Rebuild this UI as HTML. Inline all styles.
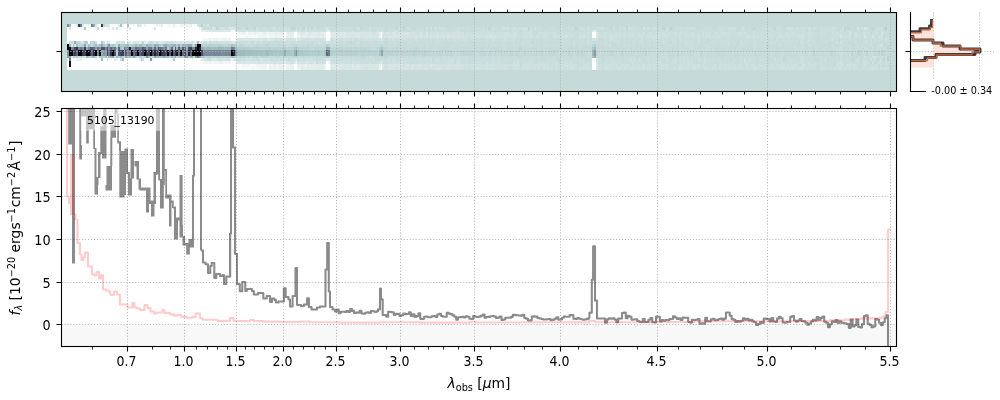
<!DOCTYPE html>
<html><head><meta charset="utf-8"><title>5105_13190</title><style>html,body{margin:0;padding:0;background:#fff}body{width:1000px;height:400px;overflow:hidden}</style></head><body>
<svg width="1000" height="400" viewBox="0 0 1000 400" style="display:block;will-change:transform;font-family:'DejaVu Sans','Liberation Sans',sans-serif">
<rect width="1000" height="400" fill="#fff"/>
<g shape-rendering="crispEdges">
<rect x="61.5" y="12.5" width="835.0" height="79.0" fill="#c6dada"/>
<path fill="#ffffff" d="M70.6 23.8h5.7v2.9h-5.7zM83.8 23.8h1.9v2.9h-1.9zM98.9 23.8h1.9v2.9h-1.9zM112.2 23.8h5.7v2.9h-5.7zM123.5 23.8h3.8v2.9h-3.8zM131.1 23.8h1.9v2.9h-1.9zM134.8 23.8h1.9v2.9h-1.9zM142.4 23.8h1.9v2.9h-1.9zM148.1 23.8h1.9v2.9h-1.9zM151.9 23.8h3.8v2.9h-3.8zM163.2 23.8h3.8v2.9h-3.8zM176.4 23.8h3.8v2.9h-3.8zM184.0 23.8h1.9v2.9h-1.9zM195.3 23.8h1.9v2.9h-1.9zM66.8 26.7h1.9v2.9h-1.9zM70.6 26.7h9.5v2.9h-9.5zM85.7 26.7h9.5v2.9h-9.5zM98.9 26.7h1.9v2.9h-1.9zM102.7 26.7h1.9v2.9h-1.9zM110.3 26.7h1.9v2.9h-1.9zM119.7 26.7h9.5v2.9h-9.5zM131.1 26.7h15.1v2.9h-15.1zM148.1 26.7h3.8v2.9h-3.8zM155.6 26.7h5.7v2.9h-5.7zM163.2 26.7h24.6v2.9h-24.6zM189.7 26.7h9.5v2.9h-9.5zM66.8 29.6h134.2v2.8h-134.2zM66.8 32.4h170.1v2.9h-170.1zM284.2 32.4h1.9v2.9h-1.9zM293.6 32.4h3.8v2.9h-3.8zM325.7 32.4h3.8v2.9h-3.8zM380.6 32.4h1.9v2.9h-1.9zM592.3 32.4h3.8v2.9h-3.8zM66.8 35.3h170.1v2.9h-170.1zM284.2 35.3h1.9v2.9h-1.9zM293.6 35.3h3.8v2.9h-3.8zM325.7 35.3h3.8v2.9h-3.8zM380.6 35.3h1.9v2.9h-1.9zM592.3 35.3h3.8v2.9h-3.8zM66.8 38.2h136.1v2.9h-136.1zM231.2 38.2h3.8v2.9h-3.8zM66.8 41.1h1.9v2.9h-1.9zM112.2 41.1h1.9v2.9h-1.9zM70.6 58.4h1.9v2.8h-1.9zM74.4 58.4h1.9v2.8h-1.9zM81.9 58.4h13.2v2.8h-13.2zM97.0 58.4h3.8v2.8h-3.8zM102.7 58.4h3.8v2.8h-3.8zM112.2 58.4h1.9v2.8h-1.9zM117.8 58.4h1.9v2.8h-1.9zM123.5 58.4h15.1v2.8h-15.1zM144.3 58.4h1.9v2.8h-1.9zM153.7 58.4h11.3v2.8h-11.3zM167.0 58.4h1.9v2.8h-1.9zM174.5 58.4h17.0v2.8h-17.0zM193.4 58.4h7.6v2.8h-7.6zM594.1 58.4h1.9v2.8h-1.9zM66.8 61.2h1.9v2.9h-1.9zM70.6 61.2h132.3v2.9h-132.3zM231.2 61.2h3.8v2.9h-3.8zM592.3 61.2h3.8v2.9h-3.8zM66.8 64.1h1.9v2.9h-1.9zM70.6 64.1h166.3v2.9h-166.3zM284.2 64.1h1.9v2.9h-1.9zM293.6 64.1h3.8v2.9h-3.8zM325.7 64.1h3.8v2.9h-3.8zM380.6 64.1h1.9v2.9h-1.9zM592.3 64.1h3.8v2.9h-3.8zM66.8 67.0h170.1v2.9h-170.1zM284.2 67.0h1.9v2.9h-1.9zM293.6 67.0h3.8v2.9h-3.8zM325.7 67.0h3.8v2.9h-3.8zM380.6 67.0h1.9v2.9h-1.9zM592.3 67.0h3.8v2.9h-3.8z"/>
<path fill="#fcfdfd" d="M89.5 23.8h1.9v2.9h-1.9zM110.3 23.8h1.9v2.9h-1.9zM129.2 23.8h1.9v2.9h-1.9zM146.2 23.8h1.9v2.9h-1.9zM150.0 23.8h1.9v2.9h-1.9zM170.8 23.8h1.9v2.9h-1.9zM191.5 23.8h3.8v2.9h-3.8zM146.2 26.7h1.9v2.9h-1.9zM187.8 26.7h1.9v2.9h-1.9zM87.6 41.1h1.9v2.9h-1.9zM146.2 58.4h1.9v2.8h-1.9zM165.1 58.4h1.9v2.8h-1.9zM325.7 61.2h1.9v2.9h-1.9zM267.2 64.1h1.9v2.9h-1.9zM267.2 67.0h1.9v2.9h-1.9z"/>
<path fill="#f8fbfb" d="M85.7 23.8h1.9v2.9h-1.9zM157.5 23.8h1.9v2.9h-1.9zM114.1 26.7h1.9v2.9h-1.9zM117.8 26.7h1.9v2.9h-1.9zM161.3 26.7h1.9v2.9h-1.9zM236.9 35.3h5.7v2.9h-5.7zM252.0 35.3h1.9v2.9h-1.9zM267.2 35.3h1.9v2.9h-1.9zM325.7 38.2h1.9v2.9h-1.9zM110.3 41.1h1.9v2.9h-1.9zM148.1 58.4h1.9v2.8h-1.9zM168.9 58.4h3.8v2.8h-3.8zM592.3 58.4h1.9v2.8h-1.9zM238.8 64.1h1.9v2.9h-1.9zM244.5 64.1h1.9v2.9h-1.9zM250.1 64.1h1.9v2.9h-1.9zM236.9 67.0h3.8v2.9h-3.8zM244.5 67.0h1.9v2.9h-1.9zM248.3 67.0h1.9v2.9h-1.9z"/>
<path fill="#f5f9f9" d="M97.0 23.8h1.9v2.9h-1.9zM167.0 23.8h1.9v2.9h-1.9zM174.5 23.8h1.9v2.9h-1.9zM104.6 26.7h3.8v2.9h-3.8zM151.9 26.7h1.9v2.9h-1.9zM231.2 29.6h3.8v2.8h-3.8zM244.5 32.4h3.8v2.9h-3.8zM242.6 35.3h3.8v2.9h-3.8zM248.3 35.3h3.8v2.9h-3.8zM253.9 35.3h3.8v2.9h-3.8zM210.4 38.2h1.9v2.9h-1.9zM327.6 38.2h1.9v2.9h-1.9zM97.0 41.1h1.9v2.9h-1.9zM125.4 41.1h1.9v2.9h-1.9zM108.4 58.4h3.8v2.8h-3.8zM212.3 61.2h1.9v2.9h-1.9zM236.9 64.1h1.9v2.9h-1.9zM240.7 64.1h1.9v2.9h-1.9zM252.0 64.1h3.8v2.9h-3.8zM240.7 67.0h3.8v2.9h-3.8zM246.4 67.0h1.9v2.9h-1.9zM250.1 67.0h1.9v2.9h-1.9zM253.9 67.0h1.9v2.9h-1.9z"/>
<path fill="#f1f6f6" d="M121.6 23.8h1.9v2.9h-1.9zM133.0 23.8h1.9v2.9h-1.9zM159.4 23.8h1.9v2.9h-1.9zM168.9 23.8h1.9v2.9h-1.9zM182.1 23.8h1.9v2.9h-1.9zM80.0 26.7h3.8v2.9h-3.8zM95.2 26.7h1.9v2.9h-1.9zM236.9 32.4h3.8v2.9h-3.8zM267.2 32.4h1.9v2.9h-1.9zM246.4 35.3h1.9v2.9h-1.9zM259.6 35.3h1.9v2.9h-1.9zM202.9 38.2h5.7v2.9h-5.7zM218.0 38.2h1.9v2.9h-1.9zM98.9 41.1h1.9v2.9h-1.9zM104.6 41.1h1.9v2.9h-1.9zM114.1 41.1h1.9v2.9h-1.9zM202.9 61.2h1.9v2.9h-1.9zM206.7 61.2h3.8v2.9h-3.8zM223.7 61.2h3.8v2.9h-3.8zM327.6 61.2h1.9v2.9h-1.9zM246.4 64.1h3.8v2.9h-3.8zM257.7 64.1h1.9v2.9h-1.9zM255.8 67.0h3.8v2.9h-3.8zM265.3 67.0h1.9v2.9h-1.9z"/>
<path fill="#eff4f4" d="M180.2 23.8h1.9v2.9h-1.9zM187.8 23.8h1.9v2.9h-1.9zM108.4 26.7h1.9v2.9h-1.9zM199.1 26.7h1.9v2.9h-1.9zM240.7 32.4h1.9v2.9h-1.9zM248.3 32.4h5.7v2.9h-5.7zM255.8 32.4h7.6v2.9h-7.6zM257.7 35.3h1.9v2.9h-1.9zM261.5 35.3h5.7v2.9h-5.7zM269.0 35.3h5.7v2.9h-5.7zM276.6 35.3h1.9v2.9h-1.9zM282.3 35.3h1.9v2.9h-1.9zM212.3 38.2h1.9v2.9h-1.9zM219.9 38.2h3.8v2.9h-3.8zM225.6 38.2h3.8v2.9h-3.8zM235.0 38.2h1.9v2.9h-1.9zM76.3 58.4h1.9v2.8h-1.9zM95.2 58.4h1.9v2.8h-1.9zM151.9 58.4h1.9v2.8h-1.9zM210.4 61.2h1.9v2.9h-1.9zM214.2 61.2h3.8v2.9h-3.8zM221.8 61.2h1.9v2.9h-1.9zM227.5 61.2h3.8v2.9h-3.8zM235.0 61.2h1.9v2.9h-1.9zM295.5 61.2h1.9v2.9h-1.9zM242.6 64.1h1.9v2.9h-1.9zM255.8 64.1h1.9v2.9h-1.9zM259.6 64.1h7.6v2.9h-7.6zM270.9 64.1h1.9v2.9h-1.9zM276.6 64.1h1.9v2.9h-1.9zM282.3 64.1h1.9v2.9h-1.9zM286.1 64.1h1.9v2.9h-1.9zM252.0 67.0h1.9v2.9h-1.9zM259.6 67.0h5.7v2.9h-5.7zM270.9 67.0h1.9v2.9h-1.9zM276.6 67.0h1.9v2.9h-1.9zM282.3 67.0h1.9v2.9h-1.9z"/>
<path fill="#eaf2f2" d="M87.6 23.8h1.9v2.9h-1.9zM144.3 23.8h1.9v2.9h-1.9zM242.6 32.4h1.9v2.9h-1.9zM253.9 32.4h1.9v2.9h-1.9zM265.3 32.4h1.9v2.9h-1.9zM269.0 32.4h3.8v2.9h-3.8zM286.1 32.4h1.9v2.9h-1.9zM278.5 35.3h3.8v2.9h-3.8zM287.9 35.3h1.9v2.9h-1.9zM297.4 35.3h1.9v2.9h-1.9zM329.5 35.3h1.9v2.9h-1.9zM378.7 35.3h1.9v2.9h-1.9zM214.2 38.2h3.8v2.9h-3.8zM223.7 38.2h1.9v2.9h-1.9zM229.3 38.2h1.9v2.9h-1.9zM295.5 38.2h1.9v2.9h-1.9zM66.8 58.4h1.9v2.8h-1.9zM72.5 58.4h1.9v2.8h-1.9zM78.1 58.4h1.9v2.8h-1.9zM138.6 58.4h1.9v2.8h-1.9zM231.2 58.4h1.9v2.8h-1.9zM204.8 61.2h1.9v2.9h-1.9zM218.0 61.2h1.9v2.9h-1.9zM269.0 64.1h1.9v2.9h-1.9zM274.7 64.1h1.9v2.9h-1.9zM287.9 64.1h1.9v2.9h-1.9zM323.9 64.1h1.9v2.9h-1.9zM378.7 64.1h1.9v2.9h-1.9zM269.0 67.0h1.9v2.9h-1.9zM272.8 67.0h3.8v2.9h-3.8zM286.1 67.0h1.9v2.9h-1.9zM297.4 67.0h1.9v2.9h-1.9zM323.9 67.0h1.9v2.9h-1.9zM378.7 67.0h1.9v2.9h-1.9z"/>
<path fill="#e8f0f0" d="M155.6 23.8h1.9v2.9h-1.9zM172.6 23.8h1.9v2.9h-1.9zM185.9 23.8h1.9v2.9h-1.9zM189.7 23.8h1.9v2.9h-1.9zM100.8 26.7h1.9v2.9h-1.9zM201.0 29.6h1.9v2.8h-1.9zM263.4 32.4h1.9v2.9h-1.9zM272.8 32.4h1.9v2.9h-1.9zM276.6 32.4h3.8v2.9h-3.8zM297.4 32.4h1.9v2.9h-1.9zM323.9 32.4h1.9v2.9h-1.9zM329.5 32.4h1.9v2.9h-1.9zM274.7 35.3h1.9v2.9h-1.9zM286.1 35.3h1.9v2.9h-1.9zM291.7 35.3h1.9v2.9h-1.9zM299.3 35.3h1.9v2.9h-1.9zM303.1 35.3h1.9v2.9h-1.9zM323.9 35.3h1.9v2.9h-1.9zM208.6 38.2h1.9v2.9h-1.9zM131.1 41.1h1.9v2.9h-1.9zM138.6 41.1h1.9v2.9h-1.9zM146.2 41.1h1.9v2.9h-1.9zM80.0 58.4h1.9v2.8h-1.9zM115.9 58.4h1.9v2.8h-1.9zM191.5 58.4h1.9v2.8h-1.9zM219.9 61.2h1.9v2.9h-1.9zM272.8 64.1h1.9v2.9h-1.9zM278.5 64.1h3.8v2.9h-3.8zM291.7 64.1h1.9v2.9h-1.9zM297.4 64.1h1.9v2.9h-1.9zM305.0 64.1h1.9v2.9h-1.9zM329.5 64.1h1.9v2.9h-1.9zM278.5 67.0h3.8v2.9h-3.8zM287.9 67.0h5.7v2.9h-5.7zM299.3 67.0h1.9v2.9h-1.9zM329.5 67.0h1.9v2.9h-1.9z"/>
<path fill="#e4eeed" d="M161.3 23.8h1.9v2.9h-1.9zM202.9 29.6h1.9v2.8h-1.9zM327.6 29.6h1.9v2.8h-1.9zM594.1 29.6h1.9v2.8h-1.9zM274.7 32.4h1.9v2.9h-1.9zM280.4 32.4h3.8v2.9h-3.8zM287.9 32.4h5.7v2.9h-5.7zM305.0 32.4h1.9v2.9h-1.9zM378.7 32.4h1.9v2.9h-1.9zM289.8 35.3h1.9v2.9h-1.9zM305.0 35.3h1.9v2.9h-1.9zM308.7 35.3h3.8v2.9h-3.8zM314.4 35.3h1.9v2.9h-1.9zM320.1 35.3h1.9v2.9h-1.9zM193.4 41.1h1.9v2.9h-1.9zM199.1 41.1h1.9v2.9h-1.9zM97.0 55.5h1.9v2.9h-1.9zM289.8 64.1h1.9v2.9h-1.9zM299.3 64.1h5.7v2.9h-5.7zM308.7 64.1h1.9v2.9h-1.9zM312.5 64.1h3.8v2.9h-3.8zM303.1 67.0h3.8v2.9h-3.8zM308.7 67.0h5.7v2.9h-5.7z"/>
<path fill="#e0ebeb" d="M81.9 23.8h1.9v2.9h-1.9zM117.8 23.8h1.9v2.9h-1.9zM204.8 29.6h3.8v2.8h-3.8zM210.4 29.6h1.9v2.8h-1.9zM325.7 29.6h1.9v2.8h-1.9zM299.3 32.4h1.9v2.9h-1.9zM306.8 32.4h1.9v2.9h-1.9zM310.6 32.4h7.6v2.9h-7.6zM320.1 32.4h3.8v2.9h-3.8zM301.2 35.3h1.9v2.9h-1.9zM306.8 35.3h1.9v2.9h-1.9zM312.5 35.3h1.9v2.9h-1.9zM316.3 35.3h3.8v2.9h-3.8zM335.2 35.3h1.9v2.9h-1.9zM342.8 35.3h1.9v2.9h-1.9zM284.2 38.2h1.9v2.9h-1.9zM380.6 38.2h1.9v2.9h-1.9zM129.2 41.1h1.9v2.9h-1.9zM144.3 41.1h1.9v2.9h-1.9zM153.7 41.1h1.9v2.9h-1.9zM70.6 55.5h1.9v2.9h-1.9zM114.1 58.4h1.9v2.8h-1.9zM201.0 58.4h1.9v2.8h-1.9zM284.2 61.2h1.9v2.9h-1.9zM380.6 61.2h1.9v2.9h-1.9zM306.8 64.1h1.9v2.9h-1.9zM310.6 64.1h1.9v2.9h-1.9zM316.3 64.1h7.6v2.9h-7.6zM333.3 64.1h3.8v2.9h-3.8zM352.2 64.1h1.9v2.9h-1.9zM301.2 67.0h1.9v2.9h-1.9zM306.8 67.0h1.9v2.9h-1.9zM314.4 67.0h9.5v2.9h-9.5zM335.2 67.0h1.9v2.9h-1.9z"/>
<path fill="#dde9e9" d="M76.3 23.8h1.9v2.9h-1.9zM138.6 23.8h3.8v2.9h-3.8zM68.7 26.7h1.9v2.9h-1.9zM112.2 26.7h1.9v2.9h-1.9zM129.2 26.7h1.9v2.9h-1.9zM231.2 26.7h1.9v2.9h-1.9zM221.8 29.6h9.5v2.8h-9.5zM301.2 32.4h3.8v2.9h-3.8zM308.7 32.4h1.9v2.9h-1.9zM318.2 32.4h1.9v2.9h-1.9zM331.4 32.4h5.7v2.9h-5.7zM339.0 32.4h1.9v2.9h-1.9zM342.8 32.4h1.9v2.9h-1.9zM322.0 35.3h1.9v2.9h-1.9zM331.4 35.3h3.8v2.9h-3.8zM337.1 35.3h3.8v2.9h-3.8zM348.4 35.3h1.9v2.9h-1.9zM356.0 35.3h3.8v2.9h-3.8zM267.2 38.2h1.9v2.9h-1.9zM108.4 41.1h1.9v2.9h-1.9zM159.4 41.1h1.9v2.9h-1.9zM176.4 41.1h3.8v2.9h-3.8zM182.1 41.1h1.9v2.9h-1.9zM195.3 41.1h1.9v2.9h-1.9zM70.6 44.0h1.9v2.8h-1.9zM233.1 58.4h1.9v2.8h-1.9zM246.4 61.2h1.9v2.9h-1.9zM293.6 61.2h1.9v2.9h-1.9zM331.4 64.1h1.9v2.9h-1.9zM337.1 64.1h5.7v2.9h-5.7zM356.0 64.1h3.8v2.9h-3.8zM596.0 64.1h1.9v2.9h-1.9zM331.4 67.0h3.8v2.9h-3.8zM337.1 67.0h3.8v2.9h-3.8zM348.4 67.0h1.9v2.9h-1.9zM352.2 67.0h1.9v2.9h-1.9zM356.0 67.0h3.8v2.9h-3.8z"/>
<path fill="#d9e6e6" d="M108.4 23.8h1.9v2.9h-1.9zM136.7 23.8h1.9v2.9h-1.9zM197.2 23.8h1.9v2.9h-1.9zM206.7 23.8h1.9v2.9h-1.9zM153.7 26.7h1.9v2.9h-1.9zM201.0 26.7h1.9v2.9h-1.9zM229.3 26.7h1.9v2.9h-1.9zM325.7 26.7h1.9v2.9h-1.9zM864.4 26.7h1.9v2.9h-1.9zM212.3 29.6h3.8v2.8h-3.8zM218.0 29.6h3.8v2.8h-3.8zM235.0 29.6h1.9v2.8h-1.9zM295.5 29.6h1.9v2.8h-1.9zM592.3 29.6h1.9v2.8h-1.9zM337.1 32.4h1.9v2.9h-1.9zM344.6 32.4h1.9v2.9h-1.9zM348.4 32.4h11.3v2.9h-11.3zM369.2 32.4h1.9v2.9h-1.9zM382.4 32.4h1.9v2.9h-1.9zM596.0 32.4h1.9v2.9h-1.9zM340.9 35.3h1.9v2.9h-1.9zM344.6 35.3h3.8v2.9h-3.8zM350.3 35.3h5.7v2.9h-5.7zM365.4 35.3h3.8v2.9h-3.8zM371.1 35.3h1.9v2.9h-1.9zM376.8 35.3h1.9v2.9h-1.9zM388.1 35.3h3.8v2.9h-3.8zM397.6 35.3h3.8v2.9h-3.8zM596.0 35.3h1.9v2.9h-1.9zM242.6 38.2h7.6v2.9h-7.6zM252.0 38.2h3.8v2.9h-3.8zM257.7 38.2h1.9v2.9h-1.9zM269.0 38.2h1.9v2.9h-1.9zM293.6 38.2h1.9v2.9h-1.9zM81.9 41.1h1.9v2.9h-1.9zM119.7 41.1h1.9v2.9h-1.9zM127.3 41.1h1.9v2.9h-1.9zM133.0 41.1h1.9v2.9h-1.9zM140.5 41.1h1.9v2.9h-1.9zM157.5 41.1h1.9v2.9h-1.9zM161.3 41.1h1.9v2.9h-1.9zM189.7 41.1h1.9v2.9h-1.9zM233.1 41.1h1.9v2.9h-1.9zM202.9 58.4h1.9v2.8h-1.9zM212.3 58.4h3.8v2.8h-3.8zM223.7 58.4h1.9v2.8h-1.9zM325.7 58.4h1.9v2.8h-1.9zM240.7 61.2h5.7v2.9h-5.7zM248.3 61.2h1.9v2.9h-1.9zM252.0 61.2h1.9v2.9h-1.9zM255.8 61.2h1.9v2.9h-1.9zM286.1 61.2h1.9v2.9h-1.9zM596.0 61.2h1.9v2.9h-1.9zM342.8 64.1h7.6v2.9h-7.6zM359.8 64.1h5.7v2.9h-5.7zM369.2 64.1h3.8v2.9h-3.8zM374.9 64.1h1.9v2.9h-1.9zM382.4 64.1h1.9v2.9h-1.9zM388.1 64.1h1.9v2.9h-1.9zM412.7 64.1h1.9v2.9h-1.9zM340.9 67.0h7.6v2.9h-7.6zM354.1 67.0h1.9v2.9h-1.9zM359.8 67.0h1.9v2.9h-1.9zM369.2 67.0h5.7v2.9h-5.7zM376.8 67.0h1.9v2.9h-1.9zM397.6 67.0h1.9v2.9h-1.9zM410.8 67.0h1.9v2.9h-1.9zM596.0 67.0h1.9v2.9h-1.9z"/>
<path fill="#d6e5e5" d="M95.2 23.8h1.9v2.9h-1.9zM104.6 23.8h1.9v2.9h-1.9zM212.3 26.7h1.9v2.9h-1.9zM233.1 26.7h1.9v2.9h-1.9zM208.6 29.6h1.9v2.8h-1.9zM216.1 29.6h1.9v2.8h-1.9zM246.4 29.6h1.9v2.8h-1.9zM255.8 29.6h1.9v2.8h-1.9zM380.6 29.6h1.9v2.8h-1.9zM340.9 32.4h1.9v2.9h-1.9zM346.5 32.4h1.9v2.9h-1.9zM359.8 32.4h9.5v2.9h-9.5zM371.1 32.4h1.9v2.9h-1.9zM374.9 32.4h3.8v2.9h-3.8zM386.2 32.4h3.8v2.9h-3.8zM391.9 32.4h3.8v2.9h-3.8zM397.6 32.4h3.8v2.9h-3.8zM403.2 32.4h5.7v2.9h-5.7zM420.3 32.4h1.9v2.9h-1.9zM425.9 32.4h1.9v2.9h-1.9zM437.3 32.4h1.9v2.9h-1.9zM359.8 35.3h5.7v2.9h-5.7zM369.2 35.3h1.9v2.9h-1.9zM373.0 35.3h3.8v2.9h-3.8zM382.4 35.3h3.8v2.9h-3.8zM391.9 35.3h5.7v2.9h-5.7zM414.6 35.3h3.8v2.9h-3.8zM420.3 35.3h1.9v2.9h-1.9zM425.9 35.3h1.9v2.9h-1.9zM429.7 35.3h1.9v2.9h-1.9zM437.3 35.3h1.9v2.9h-1.9zM446.7 35.3h1.9v2.9h-1.9zM490.2 35.3h1.9v2.9h-1.9zM839.9 35.3h1.9v2.9h-1.9zM864.4 35.3h1.9v2.9h-1.9zM872.0 35.3h1.9v2.9h-1.9zM236.9 38.2h5.7v2.9h-5.7zM250.1 38.2h1.9v2.9h-1.9zM255.8 38.2h1.9v2.9h-1.9zM259.6 38.2h5.7v2.9h-5.7zM270.9 38.2h1.9v2.9h-1.9zM278.5 38.2h1.9v2.9h-1.9zM282.3 38.2h1.9v2.9h-1.9zM299.3 38.2h1.9v2.9h-1.9zM312.5 38.2h1.9v2.9h-1.9zM323.9 38.2h1.9v2.9h-1.9zM378.7 38.2h1.9v2.9h-1.9zM594.1 38.2h1.9v2.9h-1.9zM72.5 41.1h1.9v2.9h-1.9zM117.8 41.1h1.9v2.9h-1.9zM134.8 41.1h3.8v2.9h-3.8zM163.2 41.1h1.9v2.9h-1.9zM172.6 41.1h1.9v2.9h-1.9zM184.0 41.1h5.7v2.9h-5.7zM206.7 41.1h1.9v2.9h-1.9zM231.2 41.1h1.9v2.9h-1.9zM325.7 41.1h1.9v2.9h-1.9zM74.4 44.0h1.9v2.8h-1.9zM83.8 55.5h1.9v2.9h-1.9zM204.8 58.4h1.9v2.8h-1.9zM210.4 58.4h1.9v2.8h-1.9zM216.1 58.4h1.9v2.8h-1.9zM221.8 58.4h1.9v2.8h-1.9zM229.3 58.4h1.9v2.8h-1.9zM235.0 58.4h1.9v2.8h-1.9zM259.6 58.4h1.9v2.8h-1.9zM295.5 58.4h1.9v2.8h-1.9zM327.6 58.4h1.9v2.8h-1.9zM596.0 58.4h1.9v2.8h-1.9zM879.5 58.4h1.9v2.8h-1.9zM236.9 61.2h3.8v2.9h-3.8zM250.1 61.2h1.9v2.9h-1.9zM253.9 61.2h1.9v2.9h-1.9zM259.6 61.2h13.2v2.9h-13.2zM276.6 61.2h1.9v2.9h-1.9zM287.9 61.2h1.9v2.9h-1.9zM299.3 61.2h1.9v2.9h-1.9zM305.0 61.2h3.8v2.9h-3.8zM314.4 61.2h1.9v2.9h-1.9zM329.5 61.2h1.9v2.9h-1.9zM350.3 64.1h1.9v2.9h-1.9zM354.1 64.1h1.9v2.9h-1.9zM365.4 64.1h3.8v2.9h-3.8zM373.0 64.1h1.9v2.9h-1.9zM376.8 64.1h1.9v2.9h-1.9zM390.0 64.1h13.2v2.9h-13.2zM405.1 64.1h3.8v2.9h-3.8zM410.8 64.1h1.9v2.9h-1.9zM416.5 64.1h5.7v2.9h-5.7zM429.7 64.1h1.9v2.9h-1.9zM350.3 67.0h1.9v2.9h-1.9zM361.7 67.0h3.8v2.9h-3.8zM367.3 67.0h1.9v2.9h-1.9zM374.9 67.0h1.9v2.9h-1.9zM382.4 67.0h1.9v2.9h-1.9zM388.1 67.0h7.6v2.9h-7.6zM399.5 67.0h1.9v2.9h-1.9zM405.1 67.0h1.9v2.9h-1.9zM416.5 67.0h1.9v2.9h-1.9zM424.0 67.0h3.8v2.9h-3.8zM437.3 67.0h3.8v2.9h-3.8zM446.7 67.0h1.9v2.9h-1.9z"/>
<path fill="#d2e2e2" d="M202.9 23.8h1.9v2.9h-1.9zM115.9 26.7h1.9v2.9h-1.9zM208.6 26.7h1.9v2.9h-1.9zM214.2 26.7h1.9v2.9h-1.9zM219.9 26.7h3.8v2.9h-3.8zM227.5 26.7h1.9v2.9h-1.9zM272.8 26.7h1.9v2.9h-1.9zM284.2 26.7h1.9v2.9h-1.9zM305.0 26.7h1.9v2.9h-1.9zM407.0 26.7h1.9v2.9h-1.9zM425.9 26.7h1.9v2.9h-1.9zM503.4 26.7h1.9v2.9h-1.9zM507.2 26.7h1.9v2.9h-1.9zM524.2 26.7h1.9v2.9h-1.9zM624.4 26.7h1.9v2.9h-1.9zM628.2 26.7h1.9v2.9h-1.9zM643.3 26.7h1.9v2.9h-1.9zM730.2 26.7h1.9v2.9h-1.9zM788.8 26.7h1.9v2.9h-1.9zM807.7 26.7h1.9v2.9h-1.9zM813.4 26.7h1.9v2.9h-1.9zM828.5 26.7h1.9v2.9h-1.9zM856.9 26.7h1.9v2.9h-1.9zM866.3 26.7h1.9v2.9h-1.9zM236.9 29.6h1.9v2.8h-1.9zM250.1 29.6h1.9v2.8h-1.9zM257.7 29.6h1.9v2.8h-1.9zM267.2 29.6h1.9v2.8h-1.9zM276.6 29.6h1.9v2.8h-1.9zM284.2 29.6h1.9v2.8h-1.9zM293.6 29.6h1.9v2.8h-1.9zM305.0 29.6h1.9v2.8h-1.9zM312.5 29.6h1.9v2.8h-1.9zM329.5 29.6h1.9v2.8h-1.9zM373.0 32.4h1.9v2.9h-1.9zM384.3 32.4h1.9v2.9h-1.9zM390.0 32.4h1.9v2.9h-1.9zM395.7 32.4h1.9v2.9h-1.9zM401.4 32.4h1.9v2.9h-1.9zM408.9 32.4h11.3v2.9h-11.3zM422.1 32.4h1.9v2.9h-1.9zM429.7 32.4h1.9v2.9h-1.9zM435.4 32.4h1.9v2.9h-1.9zM441.0 32.4h1.9v2.9h-1.9zM446.7 32.4h1.9v2.9h-1.9zM452.4 32.4h1.9v2.9h-1.9zM456.2 32.4h3.8v2.9h-3.8zM461.8 32.4h1.9v2.9h-1.9zM465.6 32.4h1.9v2.9h-1.9zM477.0 32.4h1.9v2.9h-1.9zM507.2 32.4h1.9v2.9h-1.9zM512.9 32.4h1.9v2.9h-1.9zM836.1 32.4h1.9v2.9h-1.9zM849.3 32.4h1.9v2.9h-1.9zM855.0 32.4h1.9v2.9h-1.9zM864.4 32.4h1.9v2.9h-1.9zM881.4 32.4h1.9v2.9h-1.9zM386.2 35.3h1.9v2.9h-1.9zM401.4 35.3h13.2v2.9h-13.2zM418.4 35.3h1.9v2.9h-1.9zM422.1 35.3h3.8v2.9h-3.8zM431.6 35.3h5.7v2.9h-5.7zM439.2 35.3h5.7v2.9h-5.7zM448.6 35.3h15.1v2.9h-15.1zM477.0 35.3h1.9v2.9h-1.9zM486.4 35.3h1.9v2.9h-1.9zM492.1 35.3h3.8v2.9h-3.8zM503.4 35.3h1.9v2.9h-1.9zM529.9 35.3h1.9v2.9h-1.9zM537.4 35.3h1.9v2.9h-1.9zM554.4 35.3h1.9v2.9h-1.9zM565.8 35.3h1.9v2.9h-1.9zM582.8 35.3h1.9v2.9h-1.9zM698.1 35.3h1.9v2.9h-1.9zM747.2 35.3h1.9v2.9h-1.9zM849.3 35.3h1.9v2.9h-1.9zM855.0 35.3h1.9v2.9h-1.9zM877.7 35.3h1.9v2.9h-1.9zM881.4 35.3h1.9v2.9h-1.9zM265.3 38.2h1.9v2.9h-1.9zM272.8 38.2h1.9v2.9h-1.9zM276.6 38.2h1.9v2.9h-1.9zM286.1 38.2h7.6v2.9h-7.6zM297.4 38.2h1.9v2.9h-1.9zM301.2 38.2h1.9v2.9h-1.9zM305.0 38.2h1.9v2.9h-1.9zM308.7 38.2h3.8v2.9h-3.8zM329.5 38.2h1.9v2.9h-1.9zM335.2 38.2h1.9v2.9h-1.9zM342.8 38.2h1.9v2.9h-1.9zM352.2 38.2h1.9v2.9h-1.9zM369.2 38.2h1.9v2.9h-1.9zM391.9 38.2h1.9v2.9h-1.9zM592.3 38.2h1.9v2.9h-1.9zM885.2 38.2h1.9v2.9h-1.9zM115.9 41.1h1.9v2.9h-1.9zM121.6 41.1h1.9v2.9h-1.9zM148.1 41.1h1.9v2.9h-1.9zM168.9 41.1h1.9v2.9h-1.9zM180.2 41.1h1.9v2.9h-1.9zM201.0 41.1h1.9v2.9h-1.9zM210.4 41.1h1.9v2.9h-1.9zM221.8 41.1h3.8v2.9h-3.8zM229.3 41.1h1.9v2.9h-1.9zM235.0 41.1h1.9v2.9h-1.9zM253.9 41.1h1.9v2.9h-1.9zM318.2 41.1h1.9v2.9h-1.9zM881.4 41.1h1.9v2.9h-1.9zM879.5 44.0h3.8v2.8h-3.8zM219.9 58.4h1.9v2.8h-1.9zM225.6 58.4h3.8v2.8h-3.8zM246.4 58.4h1.9v2.8h-1.9zM250.1 58.4h1.9v2.8h-1.9zM263.4 58.4h1.9v2.8h-1.9zM267.2 58.4h1.9v2.8h-1.9zM272.8 58.4h1.9v2.8h-1.9zM278.5 58.4h1.9v2.8h-1.9zM284.2 58.4h1.9v2.8h-1.9zM293.6 58.4h1.9v2.8h-1.9zM743.5 58.4h1.9v2.8h-1.9zM257.7 61.2h1.9v2.9h-1.9zM272.8 61.2h3.8v2.9h-3.8zM278.5 61.2h5.7v2.9h-5.7zM289.8 61.2h3.8v2.9h-3.8zM297.4 61.2h1.9v2.9h-1.9zM301.2 61.2h3.8v2.9h-3.8zM308.7 61.2h5.7v2.9h-5.7zM318.2 61.2h3.8v2.9h-3.8zM323.9 61.2h1.9v2.9h-1.9zM335.2 61.2h1.9v2.9h-1.9zM342.8 61.2h1.9v2.9h-1.9zM352.2 61.2h1.9v2.9h-1.9zM378.7 61.2h1.9v2.9h-1.9zM452.4 61.2h1.9v2.9h-1.9zM839.9 61.2h1.9v2.9h-1.9zM384.3 64.1h3.8v2.9h-3.8zM403.2 64.1h1.9v2.9h-1.9zM408.9 64.1h1.9v2.9h-1.9zM414.6 64.1h1.9v2.9h-1.9zM422.1 64.1h7.6v2.9h-7.6zM431.6 64.1h7.6v2.9h-7.6zM441.0 64.1h22.7v2.9h-22.7zM465.6 64.1h1.9v2.9h-1.9zM477.0 64.1h1.9v2.9h-1.9zM486.4 64.1h1.9v2.9h-1.9zM492.1 64.1h1.9v2.9h-1.9zM503.4 64.1h3.8v2.9h-3.8zM512.9 64.1h1.9v2.9h-1.9zM537.4 64.1h1.9v2.9h-1.9zM543.1 64.1h1.9v2.9h-1.9zM565.8 64.1h1.9v2.9h-1.9zM614.9 64.1h1.9v2.9h-1.9zM643.3 64.1h1.9v2.9h-1.9zM652.7 64.1h1.9v2.9h-1.9zM698.1 64.1h1.9v2.9h-1.9zM802.1 64.1h1.9v2.9h-1.9zM849.3 64.1h1.9v2.9h-1.9zM864.4 64.1h1.9v2.9h-1.9zM365.4 67.0h1.9v2.9h-1.9zM384.3 67.0h3.8v2.9h-3.8zM395.7 67.0h1.9v2.9h-1.9zM401.4 67.0h3.8v2.9h-3.8zM407.0 67.0h3.8v2.9h-3.8zM412.7 67.0h3.8v2.9h-3.8zM418.4 67.0h5.7v2.9h-5.7zM427.8 67.0h9.5v2.9h-9.5zM441.0 67.0h5.7v2.9h-5.7zM448.6 67.0h13.2v2.9h-13.2zM465.6 67.0h1.9v2.9h-1.9zM475.1 67.0h3.8v2.9h-3.8zM486.4 67.0h1.9v2.9h-1.9zM490.2 67.0h3.8v2.9h-3.8zM503.4 67.0h3.8v2.9h-3.8zM514.8 67.0h1.9v2.9h-1.9zM522.3 67.0h1.9v2.9h-1.9zM537.4 67.0h1.9v2.9h-1.9zM543.1 67.0h1.9v2.9h-1.9zM546.9 67.0h1.9v2.9h-1.9zM673.5 67.0h1.9v2.9h-1.9zM679.2 67.0h1.9v2.9h-1.9zM879.5 67.0h1.9v2.9h-1.9zM885.2 67.0h1.9v2.9h-1.9z"/>
<path fill="#cfe0e0" d="M106.5 23.8h1.9v2.9h-1.9zM223.7 26.7h1.9v2.9h-1.9zM235.0 26.7h1.9v2.9h-1.9zM242.6 26.7h1.9v2.9h-1.9zM255.8 26.7h1.9v2.9h-1.9zM263.4 26.7h1.9v2.9h-1.9zM278.5 26.7h1.9v2.9h-1.9zM287.9 26.7h1.9v2.9h-1.9zM295.5 26.7h1.9v2.9h-1.9zM314.4 26.7h1.9v2.9h-1.9zM323.9 26.7h1.9v2.9h-1.9zM327.6 26.7h1.9v2.9h-1.9zM344.6 26.7h1.9v2.9h-1.9zM356.0 26.7h3.8v2.9h-3.8zM369.2 26.7h1.9v2.9h-1.9zM397.6 26.7h1.9v2.9h-1.9zM429.7 26.7h1.9v2.9h-1.9zM435.4 26.7h1.9v2.9h-1.9zM439.2 26.7h1.9v2.9h-1.9zM442.9 26.7h1.9v2.9h-1.9zM477.0 26.7h1.9v2.9h-1.9zM492.1 26.7h1.9v2.9h-1.9zM512.9 26.7h1.9v2.9h-1.9zM518.5 26.7h5.7v2.9h-5.7zM526.1 26.7h1.9v2.9h-1.9zM529.9 26.7h1.9v2.9h-1.9zM533.7 26.7h1.9v2.9h-1.9zM560.1 26.7h1.9v2.9h-1.9zM571.5 26.7h1.9v2.9h-1.9zM579.0 26.7h1.9v2.9h-1.9zM586.6 26.7h1.9v2.9h-1.9zM596.0 26.7h3.8v2.9h-3.8zM601.7 26.7h1.9v2.9h-1.9zM613.0 26.7h1.9v2.9h-1.9zM630.1 26.7h1.9v2.9h-1.9zM647.1 26.7h1.9v2.9h-1.9zM652.7 26.7h1.9v2.9h-1.9zM666.0 26.7h1.9v2.9h-1.9zM688.6 26.7h1.9v2.9h-1.9zM692.4 26.7h1.9v2.9h-1.9zM728.3 26.7h1.9v2.9h-1.9zM732.1 26.7h3.8v2.9h-3.8zM741.6 26.7h1.9v2.9h-1.9zM764.3 26.7h1.9v2.9h-1.9zM786.9 26.7h1.9v2.9h-1.9zM790.7 26.7h1.9v2.9h-1.9zM796.4 26.7h1.9v2.9h-1.9zM809.6 26.7h1.9v2.9h-1.9zM832.3 26.7h1.9v2.9h-1.9zM841.7 26.7h1.9v2.9h-1.9zM877.7 26.7h1.9v2.9h-1.9zM881.4 26.7h1.9v2.9h-1.9zM238.8 29.6h7.6v2.8h-7.6zM248.3 29.6h1.9v2.8h-1.9zM252.0 29.6h3.8v2.8h-3.8zM259.6 29.6h1.9v2.8h-1.9zM263.4 29.6h3.8v2.8h-3.8zM272.8 29.6h3.8v2.8h-3.8zM286.1 29.6h3.8v2.8h-3.8zM291.7 29.6h1.9v2.8h-1.9zM299.3 29.6h1.9v2.8h-1.9zM303.1 29.6h1.9v2.8h-1.9zM308.7 29.6h3.8v2.8h-3.8zM314.4 29.6h11.3v2.8h-11.3zM335.2 29.6h1.9v2.8h-1.9zM342.8 29.6h1.9v2.8h-1.9zM348.4 29.6h1.9v2.8h-1.9zM352.2 29.6h1.9v2.8h-1.9zM361.7 29.6h1.9v2.8h-1.9zM369.2 29.6h1.9v2.8h-1.9zM376.8 29.6h1.9v2.8h-1.9zM390.0 29.6h1.9v2.8h-1.9zM393.8 29.6h3.8v2.8h-3.8zM416.5 29.6h1.9v2.8h-1.9zM456.2 29.6h3.8v2.8h-3.8zM486.4 29.6h1.9v2.8h-1.9zM516.6 29.6h1.9v2.8h-1.9zM529.9 29.6h1.9v2.8h-1.9zM666.0 29.6h1.9v2.8h-1.9zM752.9 29.6h1.9v2.8h-1.9zM802.1 29.6h1.9v2.8h-1.9zM821.0 29.6h1.9v2.8h-1.9zM839.9 29.6h1.9v2.8h-1.9zM849.3 29.6h1.9v2.8h-1.9zM866.3 29.6h1.9v2.8h-1.9zM879.5 29.6h1.9v2.8h-1.9zM424.0 32.4h1.9v2.9h-1.9zM427.8 32.4h1.9v2.9h-1.9zM431.6 32.4h3.8v2.9h-3.8zM439.2 32.4h1.9v2.9h-1.9zM442.9 32.4h3.8v2.9h-3.8zM448.6 32.4h3.8v2.9h-3.8zM454.3 32.4h1.9v2.9h-1.9zM459.9 32.4h1.9v2.9h-1.9zM469.4 32.4h3.8v2.9h-3.8zM475.1 32.4h1.9v2.9h-1.9zM478.8 32.4h3.8v2.9h-3.8zM484.5 32.4h9.5v2.9h-9.5zM495.9 32.4h11.3v2.9h-11.3zM514.8 32.4h1.9v2.9h-1.9zM522.3 32.4h9.5v2.9h-9.5zM537.4 32.4h11.3v2.9h-11.3zM550.7 32.4h5.7v2.9h-5.7zM562.0 32.4h1.9v2.9h-1.9zM565.8 32.4h1.9v2.9h-1.9zM579.0 32.4h1.9v2.9h-1.9zM582.8 32.4h1.9v2.9h-1.9zM586.6 32.4h3.8v2.9h-3.8zM597.9 32.4h1.9v2.9h-1.9zM603.6 32.4h3.8v2.9h-3.8zM609.3 32.4h1.9v2.9h-1.9zM614.9 32.4h1.9v2.9h-1.9zM618.7 32.4h1.9v2.9h-1.9zM622.5 32.4h3.8v2.9h-3.8zM628.2 32.4h1.9v2.9h-1.9zM631.9 32.4h1.9v2.9h-1.9zM637.6 32.4h1.9v2.9h-1.9zM643.3 32.4h1.9v2.9h-1.9zM649.0 32.4h1.9v2.9h-1.9zM658.4 32.4h7.6v2.9h-7.6zM667.9 32.4h1.9v2.9h-1.9zM673.5 32.4h3.8v2.9h-3.8zM679.2 32.4h3.8v2.9h-3.8zM684.9 32.4h1.9v2.9h-1.9zM690.5 32.4h3.8v2.9h-3.8zM701.9 32.4h1.9v2.9h-1.9zM705.7 32.4h1.9v2.9h-1.9zM709.4 32.4h1.9v2.9h-1.9zM715.1 32.4h1.9v2.9h-1.9zM720.8 32.4h5.7v2.9h-5.7zM728.3 32.4h1.9v2.9h-1.9zM737.8 32.4h3.8v2.9h-3.8zM743.5 32.4h3.8v2.9h-3.8zM752.9 32.4h1.9v2.9h-1.9zM760.5 32.4h1.9v2.9h-1.9zM779.4 32.4h1.9v2.9h-1.9zM785.0 32.4h3.8v2.9h-3.8zM790.7 32.4h3.8v2.9h-3.8zM802.1 32.4h1.9v2.9h-1.9zM807.7 32.4h3.8v2.9h-3.8zM832.3 32.4h1.9v2.9h-1.9zM839.9 32.4h1.9v2.9h-1.9zM862.5 32.4h1.9v2.9h-1.9zM868.2 32.4h1.9v2.9h-1.9zM875.8 32.4h1.9v2.9h-1.9zM427.8 35.3h1.9v2.9h-1.9zM444.8 35.3h1.9v2.9h-1.9zM463.7 35.3h13.2v2.9h-13.2zM478.8 35.3h7.6v2.9h-7.6zM488.3 35.3h1.9v2.9h-1.9zM495.9 35.3h7.6v2.9h-7.6zM505.3 35.3h11.3v2.9h-11.3zM518.5 35.3h1.9v2.9h-1.9zM522.3 35.3h7.6v2.9h-7.6zM531.8 35.3h1.9v2.9h-1.9zM535.5 35.3h1.9v2.9h-1.9zM543.1 35.3h3.8v2.9h-3.8zM552.6 35.3h1.9v2.9h-1.9zM556.3 35.3h3.8v2.9h-3.8zM562.0 35.3h3.8v2.9h-3.8zM569.6 35.3h1.9v2.9h-1.9zM579.0 35.3h3.8v2.9h-3.8zM584.7 35.3h3.8v2.9h-3.8zM599.8 35.3h1.9v2.9h-1.9zM603.6 35.3h1.9v2.9h-1.9zM609.3 35.3h7.6v2.9h-7.6zM618.7 35.3h1.9v2.9h-1.9zM624.4 35.3h1.9v2.9h-1.9zM628.2 35.3h5.7v2.9h-5.7zM637.6 35.3h5.7v2.9h-5.7zM647.1 35.3h9.5v2.9h-9.5zM658.4 35.3h1.9v2.9h-1.9zM662.2 35.3h5.7v2.9h-5.7zM675.4 35.3h1.9v2.9h-1.9zM679.2 35.3h1.9v2.9h-1.9zM684.9 35.3h3.8v2.9h-3.8zM692.4 35.3h1.9v2.9h-1.9zM701.9 35.3h1.9v2.9h-1.9zM705.7 35.3h5.7v2.9h-5.7zM713.2 35.3h1.9v2.9h-1.9zM717.0 35.3h3.8v2.9h-3.8zM745.4 35.3h1.9v2.9h-1.9zM749.1 35.3h5.7v2.9h-5.7zM756.7 35.3h1.9v2.9h-1.9zM769.9 35.3h1.9v2.9h-1.9zM777.5 35.3h7.6v2.9h-7.6zM786.9 35.3h3.8v2.9h-3.8zM796.4 35.3h7.6v2.9h-7.6zM807.7 35.3h3.8v2.9h-3.8zM845.5 35.3h1.9v2.9h-1.9zM862.5 35.3h1.9v2.9h-1.9zM274.7 38.2h1.9v2.9h-1.9zM280.4 38.2h1.9v2.9h-1.9zM303.1 38.2h1.9v2.9h-1.9zM306.8 38.2h1.9v2.9h-1.9zM314.4 38.2h9.5v2.9h-9.5zM333.3 38.2h1.9v2.9h-1.9zM337.1 38.2h3.8v2.9h-3.8zM344.6 38.2h5.7v2.9h-5.7zM357.9 38.2h1.9v2.9h-1.9zM361.7 38.2h7.6v2.9h-7.6zM371.1 38.2h7.6v2.9h-7.6zM382.4 38.2h1.9v2.9h-1.9zM388.1 38.2h1.9v2.9h-1.9zM397.6 38.2h3.8v2.9h-3.8zM403.2 38.2h3.8v2.9h-3.8zM414.6 38.2h3.8v2.9h-3.8zM420.3 38.2h1.9v2.9h-1.9zM435.4 38.2h3.8v2.9h-3.8zM442.9 38.2h1.9v2.9h-1.9zM446.7 38.2h1.9v2.9h-1.9zM452.4 38.2h3.8v2.9h-3.8zM458.1 38.2h1.9v2.9h-1.9zM461.8 38.2h5.7v2.9h-5.7zM486.4 38.2h1.9v2.9h-1.9zM492.1 38.2h1.9v2.9h-1.9zM503.4 38.2h3.8v2.9h-3.8zM512.9 38.2h1.9v2.9h-1.9zM586.6 38.2h1.9v2.9h-1.9zM596.0 38.2h1.9v2.9h-1.9zM609.3 38.2h5.7v2.9h-5.7zM641.4 38.2h1.9v2.9h-1.9zM652.7 38.2h1.9v2.9h-1.9zM698.1 38.2h1.9v2.9h-1.9zM760.5 38.2h1.9v2.9h-1.9zM766.1 38.2h1.9v2.9h-1.9zM775.6 38.2h1.9v2.9h-1.9zM802.1 38.2h1.9v2.9h-1.9zM807.7 38.2h1.9v2.9h-1.9zM832.3 38.2h1.9v2.9h-1.9zM864.4 38.2h1.9v2.9h-1.9zM870.1 38.2h1.9v2.9h-1.9zM881.4 38.2h1.9v2.9h-1.9zM80.0 41.1h1.9v2.9h-1.9zM102.7 41.1h1.9v2.9h-1.9zM151.9 41.1h1.9v2.9h-1.9zM165.1 41.1h3.8v2.9h-3.8zM174.5 41.1h1.9v2.9h-1.9zM202.9 41.1h1.9v2.9h-1.9zM212.3 41.1h3.8v2.9h-3.8zM218.0 41.1h3.8v2.9h-3.8zM225.6 41.1h3.8v2.9h-3.8zM248.3 41.1h1.9v2.9h-1.9zM259.6 41.1h3.8v2.9h-3.8zM287.9 41.1h1.9v2.9h-1.9zM293.6 41.1h3.8v2.9h-3.8zM327.6 41.1h3.8v2.9h-3.8zM333.3 41.1h1.9v2.9h-1.9zM342.8 41.1h1.9v2.9h-1.9zM356.0 41.1h3.8v2.9h-3.8zM380.6 41.1h1.9v2.9h-1.9zM393.8 41.1h1.9v2.9h-1.9zM437.3 41.1h1.9v2.9h-1.9zM522.3 41.1h1.9v2.9h-1.9zM573.4 41.1h1.9v2.9h-1.9zM586.6 41.1h1.9v2.9h-1.9zM605.5 41.1h1.9v2.9h-1.9zM641.4 41.1h1.9v2.9h-1.9zM662.2 41.1h1.9v2.9h-1.9zM684.9 41.1h1.9v2.9h-1.9zM690.5 41.1h1.9v2.9h-1.9zM698.1 41.1h1.9v2.9h-1.9zM728.3 41.1h1.9v2.9h-1.9zM739.7 41.1h1.9v2.9h-1.9zM769.9 41.1h1.9v2.9h-1.9zM800.2 41.1h3.8v2.9h-3.8zM836.1 41.1h1.9v2.9h-1.9zM839.9 41.1h1.9v2.9h-1.9zM845.5 41.1h1.9v2.9h-1.9zM866.3 41.1h1.9v2.9h-1.9zM609.3 44.0h1.9v2.8h-1.9zM870.1 44.0h1.9v2.8h-1.9zM839.9 46.8h1.9v2.9h-1.9zM864.4 46.8h1.9v2.9h-1.9zM879.5 46.8h1.9v2.9h-1.9zM839.9 49.7h1.9v5.8h-1.9zM81.9 55.5h1.9v2.9h-1.9zM106.5 55.5h1.9v2.9h-1.9zM369.2 55.5h1.9v2.9h-1.9zM442.9 55.5h1.9v2.9h-1.9zM537.4 55.5h1.9v2.9h-1.9zM802.1 55.5h1.9v2.9h-1.9zM864.4 55.5h1.9v2.9h-1.9zM872.0 55.5h3.8v2.9h-3.8zM881.4 55.5h1.9v2.9h-1.9zM885.2 55.5h1.9v2.9h-1.9zM142.4 58.4h1.9v2.8h-1.9zM206.7 58.4h1.9v2.8h-1.9zM218.0 58.4h1.9v2.8h-1.9zM240.7 58.4h1.9v2.8h-1.9zM244.5 58.4h1.9v2.8h-1.9zM248.3 58.4h1.9v2.8h-1.9zM253.9 58.4h1.9v2.8h-1.9zM276.6 58.4h1.9v2.8h-1.9zM286.1 58.4h1.9v2.8h-1.9zM289.8 58.4h3.8v2.8h-3.8zM301.2 58.4h1.9v2.8h-1.9zM305.0 58.4h7.6v2.8h-7.6zM323.9 58.4h1.9v2.8h-1.9zM329.5 58.4h1.9v2.8h-1.9zM335.2 58.4h1.9v2.8h-1.9zM348.4 58.4h1.9v2.8h-1.9zM373.0 58.4h1.9v2.8h-1.9zM391.9 58.4h1.9v2.8h-1.9zM399.5 58.4h1.9v2.8h-1.9zM416.5 58.4h1.9v2.8h-1.9zM429.7 58.4h1.9v2.8h-1.9zM435.4 58.4h3.8v2.8h-3.8zM448.6 58.4h5.7v2.8h-5.7zM458.1 58.4h1.9v2.8h-1.9zM492.1 58.4h1.9v2.8h-1.9zM552.6 58.4h1.9v2.8h-1.9zM630.1 58.4h1.9v2.8h-1.9zM633.8 58.4h1.9v2.8h-1.9zM637.6 58.4h3.8v2.8h-3.8zM647.1 58.4h1.9v2.8h-1.9zM666.0 58.4h1.9v2.8h-1.9zM675.4 58.4h1.9v2.8h-1.9zM698.1 58.4h1.9v2.8h-1.9zM703.8 58.4h1.9v2.8h-1.9zM749.1 58.4h1.9v2.8h-1.9zM758.6 58.4h1.9v2.8h-1.9zM764.3 58.4h1.9v2.8h-1.9zM773.7 58.4h1.9v2.8h-1.9zM800.2 58.4h3.8v2.8h-3.8zM824.7 58.4h1.9v2.8h-1.9zM845.5 58.4h1.9v2.8h-1.9zM856.9 58.4h1.9v2.8h-1.9zM862.5 58.4h1.9v2.8h-1.9zM870.1 58.4h1.9v2.8h-1.9zM873.9 58.4h1.9v2.8h-1.9zM885.2 58.4h1.9v2.8h-1.9zM322.0 61.2h1.9v2.9h-1.9zM331.4 61.2h3.8v2.9h-3.8zM337.1 61.2h5.7v2.9h-5.7zM346.5 61.2h3.8v2.9h-3.8zM354.1 61.2h5.7v2.9h-5.7zM369.2 61.2h1.9v2.9h-1.9zM388.1 61.2h1.9v2.9h-1.9zM391.9 61.2h3.8v2.9h-3.8zM397.6 61.2h5.7v2.9h-5.7zM405.1 61.2h1.9v2.9h-1.9zM420.3 61.2h1.9v2.9h-1.9zM425.9 61.2h1.9v2.9h-1.9zM429.7 61.2h1.9v2.9h-1.9zM433.5 61.2h1.9v2.9h-1.9zM437.3 61.2h1.9v2.9h-1.9zM446.7 61.2h5.7v2.9h-5.7zM456.2 61.2h3.8v2.9h-3.8zM486.4 61.2h1.9v2.9h-1.9zM492.1 61.2h1.9v2.9h-1.9zM497.7 61.2h1.9v2.9h-1.9zM512.9 61.2h1.9v2.9h-1.9zM516.6 61.2h1.9v2.9h-1.9zM529.9 61.2h1.9v2.9h-1.9zM537.4 61.2h1.9v2.9h-1.9zM556.3 61.2h1.9v2.9h-1.9zM565.8 61.2h1.9v2.9h-1.9zM569.6 61.2h1.9v2.9h-1.9zM603.6 61.2h1.9v2.9h-1.9zM613.0 61.2h1.9v2.9h-1.9zM631.9 61.2h1.9v2.9h-1.9zM658.4 61.2h1.9v2.9h-1.9zM673.5 61.2h1.9v2.9h-1.9zM686.8 61.2h1.9v2.9h-1.9zM690.5 61.2h1.9v2.9h-1.9zM703.8 61.2h1.9v2.9h-1.9zM745.4 61.2h1.9v2.9h-1.9zM800.2 61.2h3.8v2.9h-3.8zM807.7 61.2h1.9v2.9h-1.9zM838.0 61.2h1.9v2.9h-1.9zM845.5 61.2h1.9v2.9h-1.9zM862.5 61.2h3.8v2.9h-3.8zM872.0 61.2h1.9v2.9h-1.9zM879.5 61.2h1.9v2.9h-1.9zM885.2 61.2h1.9v2.9h-1.9zM439.2 64.1h1.9v2.9h-1.9zM463.7 64.1h1.9v2.9h-1.9zM467.5 64.1h9.5v2.9h-9.5zM478.8 64.1h7.6v2.9h-7.6zM488.3 64.1h3.8v2.9h-3.8zM494.0 64.1h9.5v2.9h-9.5zM507.2 64.1h5.7v2.9h-5.7zM514.8 64.1h5.7v2.9h-5.7zM522.3 64.1h15.1v2.9h-15.1zM539.3 64.1h3.8v2.9h-3.8zM545.0 64.1h3.8v2.9h-3.8zM550.7 64.1h1.9v2.9h-1.9zM554.4 64.1h3.8v2.9h-3.8zM560.1 64.1h5.7v2.9h-5.7zM567.7 64.1h9.5v2.9h-9.5zM582.8 64.1h7.6v2.9h-7.6zM599.8 64.1h1.9v2.9h-1.9zM603.6 64.1h9.5v2.9h-9.5zM620.6 64.1h9.5v2.9h-9.5zM631.9 64.1h3.8v2.9h-3.8zM637.6 64.1h1.9v2.9h-1.9zM641.4 64.1h1.9v2.9h-1.9zM647.1 64.1h3.8v2.9h-3.8zM660.3 64.1h7.6v2.9h-7.6zM679.2 64.1h3.8v2.9h-3.8zM686.8 64.1h3.8v2.9h-3.8zM692.4 64.1h5.7v2.9h-5.7zM701.9 64.1h1.9v2.9h-1.9zM707.5 64.1h1.9v2.9h-1.9zM713.2 64.1h3.8v2.9h-3.8zM718.9 64.1h1.9v2.9h-1.9zM724.6 64.1h1.9v2.9h-1.9zM728.3 64.1h1.9v2.9h-1.9zM732.1 64.1h3.8v2.9h-3.8zM737.8 64.1h3.8v2.9h-3.8zM745.4 64.1h3.8v2.9h-3.8zM751.0 64.1h3.8v2.9h-3.8zM758.6 64.1h3.8v2.9h-3.8zM764.3 64.1h1.9v2.9h-1.9zM769.9 64.1h3.8v2.9h-3.8zM775.6 64.1h9.5v2.9h-9.5zM786.9 64.1h1.9v2.9h-1.9zM790.7 64.1h7.6v2.9h-7.6zM803.9 64.1h1.9v2.9h-1.9zM807.7 64.1h3.8v2.9h-3.8zM813.4 64.1h1.9v2.9h-1.9zM836.1 64.1h7.6v2.9h-7.6zM845.5 64.1h3.8v2.9h-3.8zM853.1 64.1h3.8v2.9h-3.8zM875.8 64.1h1.9v2.9h-1.9zM879.5 64.1h1.9v2.9h-1.9zM461.8 67.0h3.8v2.9h-3.8zM469.4 67.0h5.7v2.9h-5.7zM478.8 67.0h7.6v2.9h-7.6zM488.3 67.0h1.9v2.9h-1.9zM494.0 67.0h9.5v2.9h-9.5zM507.2 67.0h1.9v2.9h-1.9zM511.0 67.0h3.8v2.9h-3.8zM516.6 67.0h3.8v2.9h-3.8zM524.2 67.0h7.6v2.9h-7.6zM533.7 67.0h1.9v2.9h-1.9zM539.3 67.0h1.9v2.9h-1.9zM545.0 67.0h1.9v2.9h-1.9zM548.8 67.0h3.8v2.9h-3.8zM554.4 67.0h1.9v2.9h-1.9zM560.1 67.0h3.8v2.9h-3.8zM565.8 67.0h1.9v2.9h-1.9zM569.6 67.0h5.7v2.9h-5.7zM579.0 67.0h13.2v2.9h-13.2zM597.9 67.0h1.9v2.9h-1.9zM603.6 67.0h11.3v2.9h-11.3zM616.8 67.0h3.8v2.9h-3.8zM624.4 67.0h3.8v2.9h-3.8zM630.1 67.0h9.5v2.9h-9.5zM643.3 67.0h1.9v2.9h-1.9zM647.1 67.0h3.8v2.9h-3.8zM652.7 67.0h3.8v2.9h-3.8zM660.3 67.0h3.8v2.9h-3.8zM666.0 67.0h1.9v2.9h-1.9zM681.1 67.0h1.9v2.9h-1.9zM684.9 67.0h3.8v2.9h-3.8zM692.4 67.0h3.8v2.9h-3.8zM703.8 67.0h3.8v2.9h-3.8zM711.3 67.0h1.9v2.9h-1.9zM718.9 67.0h1.9v2.9h-1.9zM722.7 67.0h3.8v2.9h-3.8zM728.3 67.0h7.6v2.9h-7.6zM739.7 67.0h1.9v2.9h-1.9zM747.2 67.0h1.9v2.9h-1.9zM752.9 67.0h3.8v2.9h-3.8zM764.3 67.0h1.9v2.9h-1.9zM771.8 67.0h1.9v2.9h-1.9zM777.5 67.0h1.9v2.9h-1.9zM781.3 67.0h5.7v2.9h-5.7zM788.8 67.0h1.9v2.9h-1.9zM792.6 67.0h1.9v2.9h-1.9zM798.3 67.0h5.7v2.9h-5.7zM811.5 67.0h1.9v2.9h-1.9zM821.0 67.0h3.8v2.9h-3.8zM834.2 67.0h1.9v2.9h-1.9zM838.0 67.0h3.8v2.9h-3.8zM843.6 67.0h1.9v2.9h-1.9zM849.3 67.0h1.9v2.9h-1.9zM853.1 67.0h3.8v2.9h-3.8zM862.5 67.0h1.9v2.9h-1.9zM870.1 67.0h3.8v2.9h-3.8zM875.8 67.0h1.9v2.9h-1.9zM881.4 67.0h3.8v2.9h-3.8zM887.1 67.0h1.9v2.9h-1.9z"/>
<path fill="#cbdede" d="M208.6 23.8h1.9v2.9h-1.9zM204.8 26.7h1.9v2.9h-1.9zM250.1 26.7h3.8v2.9h-3.8zM257.7 26.7h1.9v2.9h-1.9zM267.2 26.7h5.7v2.9h-5.7zM274.7 26.7h1.9v2.9h-1.9zM280.4 26.7h1.9v2.9h-1.9zM286.1 26.7h1.9v2.9h-1.9zM299.3 26.7h1.9v2.9h-1.9zM308.7 26.7h1.9v2.9h-1.9zM312.5 26.7h1.9v2.9h-1.9zM320.1 26.7h1.9v2.9h-1.9zM329.5 26.7h1.9v2.9h-1.9zM333.3 26.7h1.9v2.9h-1.9zM337.1 26.7h3.8v2.9h-3.8zM348.4 26.7h3.8v2.9h-3.8zM363.5 26.7h1.9v2.9h-1.9zM373.0 26.7h11.3v2.9h-11.3zM388.1 26.7h1.9v2.9h-1.9zM401.4 26.7h1.9v2.9h-1.9zM408.9 26.7h1.9v2.9h-1.9zM416.5 26.7h1.9v2.9h-1.9zM433.5 26.7h1.9v2.9h-1.9zM441.0 26.7h1.9v2.9h-1.9zM450.5 26.7h1.9v2.9h-1.9zM456.2 26.7h3.8v2.9h-3.8zM461.8 26.7h1.9v2.9h-1.9zM465.6 26.7h1.9v2.9h-1.9zM469.4 26.7h1.9v2.9h-1.9zM482.6 26.7h1.9v2.9h-1.9zM486.4 26.7h1.9v2.9h-1.9zM494.0 26.7h1.9v2.9h-1.9zM501.5 26.7h1.9v2.9h-1.9zM505.3 26.7h1.9v2.9h-1.9zM511.0 26.7h1.9v2.9h-1.9zM514.8 26.7h1.9v2.9h-1.9zM537.4 26.7h3.8v2.9h-3.8zM548.8 26.7h1.9v2.9h-1.9zM552.6 26.7h1.9v2.9h-1.9zM562.0 26.7h1.9v2.9h-1.9zM565.8 26.7h5.7v2.9h-5.7zM580.9 26.7h3.8v2.9h-3.8zM588.5 26.7h1.9v2.9h-1.9zM594.1 26.7h1.9v2.9h-1.9zM599.8 26.7h1.9v2.9h-1.9zM605.5 26.7h1.9v2.9h-1.9zM618.7 26.7h3.8v2.9h-3.8zM631.9 26.7h3.8v2.9h-3.8zM639.5 26.7h1.9v2.9h-1.9zM649.0 26.7h1.9v2.9h-1.9zM654.6 26.7h1.9v2.9h-1.9zM660.3 26.7h1.9v2.9h-1.9zM675.4 26.7h7.6v2.9h-7.6zM684.9 26.7h3.8v2.9h-3.8zM690.5 26.7h1.9v2.9h-1.9zM694.3 26.7h1.9v2.9h-1.9zM705.7 26.7h3.8v2.9h-3.8zM711.3 26.7h1.9v2.9h-1.9zM717.0 26.7h5.7v2.9h-5.7zM724.6 26.7h1.9v2.9h-1.9zM743.5 26.7h1.9v2.9h-1.9zM762.4 26.7h1.9v2.9h-1.9zM768.0 26.7h3.8v2.9h-3.8zM775.6 26.7h5.7v2.9h-5.7zM785.0 26.7h1.9v2.9h-1.9zM798.3 26.7h7.6v2.9h-7.6zM815.3 26.7h1.9v2.9h-1.9zM819.1 26.7h3.8v2.9h-3.8zM824.7 26.7h1.9v2.9h-1.9zM834.2 26.7h3.8v2.9h-3.8zM860.6 26.7h3.8v2.9h-3.8zM875.8 26.7h1.9v2.9h-1.9zM879.5 26.7h1.9v2.9h-1.9zM261.5 29.6h1.9v2.8h-1.9zM269.0 29.6h3.8v2.8h-3.8zM278.5 29.6h1.9v2.8h-1.9zM282.3 29.6h1.9v2.8h-1.9zM289.8 29.6h1.9v2.8h-1.9zM297.4 29.6h1.9v2.8h-1.9zM301.2 29.6h1.9v2.8h-1.9zM306.8 29.6h1.9v2.8h-1.9zM331.4 29.6h3.8v2.8h-3.8zM337.1 29.6h5.7v2.8h-5.7zM344.6 29.6h1.9v2.8h-1.9zM350.3 29.6h1.9v2.8h-1.9zM356.0 29.6h5.7v2.8h-5.7zM363.5 29.6h5.7v2.8h-5.7zM371.1 29.6h3.8v2.8h-3.8zM378.7 29.6h1.9v2.8h-1.9zM382.4 29.6h1.9v2.8h-1.9zM388.1 29.6h1.9v2.8h-1.9zM391.9 29.6h1.9v2.8h-1.9zM399.5 29.6h1.9v2.8h-1.9zM403.2 29.6h1.9v2.8h-1.9zM410.8 29.6h5.7v2.8h-5.7zM418.4 29.6h9.5v2.8h-9.5zM429.7 29.6h1.9v2.8h-1.9zM435.4 29.6h3.8v2.8h-3.8zM441.0 29.6h7.6v2.8h-7.6zM450.5 29.6h5.7v2.8h-5.7zM465.6 29.6h1.9v2.8h-1.9zM477.0 29.6h9.5v2.8h-9.5zM488.3 29.6h5.7v2.8h-5.7zM495.9 29.6h5.7v2.8h-5.7zM507.2 29.6h1.9v2.8h-1.9zM511.0 29.6h5.7v2.8h-5.7zM522.3 29.6h5.7v2.8h-5.7zM531.8 29.6h1.9v2.8h-1.9zM537.4 29.6h3.8v2.8h-3.8zM543.1 29.6h7.6v2.8h-7.6zM552.6 29.6h7.6v2.8h-7.6zM562.0 29.6h1.9v2.8h-1.9zM565.8 29.6h1.9v2.8h-1.9zM569.6 29.6h3.8v2.8h-3.8zM582.8 29.6h9.5v2.8h-9.5zM596.0 29.6h1.9v2.8h-1.9zM605.5 29.6h1.9v2.8h-1.9zM609.3 29.6h1.9v2.8h-1.9zM613.0 29.6h1.9v2.8h-1.9zM618.7 29.6h1.9v2.8h-1.9zM624.4 29.6h1.9v2.8h-1.9zM630.1 29.6h5.7v2.8h-5.7zM637.6 29.6h5.7v2.8h-5.7zM645.2 29.6h1.9v2.8h-1.9zM652.7 29.6h3.8v2.8h-3.8zM660.3 29.6h1.9v2.8h-1.9zM675.4 29.6h1.9v2.8h-1.9zM679.2 29.6h9.5v2.8h-9.5zM690.5 29.6h1.9v2.8h-1.9zM694.3 29.6h1.9v2.8h-1.9zM698.1 29.6h9.5v2.8h-9.5zM709.4 29.6h3.8v2.8h-3.8zM715.1 29.6h1.9v2.8h-1.9zM718.9 29.6h5.7v2.8h-5.7zM728.3 29.6h1.9v2.8h-1.9zM732.1 29.6h3.8v2.8h-3.8zM739.7 29.6h3.8v2.8h-3.8zM745.4 29.6h5.7v2.8h-5.7zM754.8 29.6h1.9v2.8h-1.9zM758.6 29.6h3.8v2.8h-3.8zM764.3 29.6h1.9v2.8h-1.9zM769.9 29.6h3.8v2.8h-3.8zM777.5 29.6h7.6v2.8h-7.6zM786.9 29.6h15.1v2.8h-15.1zM807.7 29.6h3.8v2.8h-3.8zM822.8 29.6h15.1v2.8h-15.1zM841.7 29.6h1.9v2.8h-1.9zM845.5 29.6h3.8v2.8h-3.8zM856.9 29.6h3.8v2.8h-3.8zM862.5 29.6h3.8v2.8h-3.8zM870.1 29.6h1.9v2.8h-1.9zM873.9 29.6h5.7v2.8h-5.7zM881.4 29.6h1.9v2.8h-1.9zM463.7 32.4h1.9v2.9h-1.9zM467.5 32.4h1.9v2.9h-1.9zM473.2 32.4h1.9v2.9h-1.9zM482.6 32.4h1.9v2.9h-1.9zM494.0 32.4h1.9v2.9h-1.9zM509.1 32.4h3.8v2.9h-3.8zM516.6 32.4h5.7v2.9h-5.7zM531.8 32.4h5.7v2.9h-5.7zM548.8 32.4h1.9v2.9h-1.9zM556.3 32.4h5.7v2.9h-5.7zM567.7 32.4h9.5v2.9h-9.5zM580.9 32.4h1.9v2.9h-1.9zM584.7 32.4h1.9v2.9h-1.9zM590.4 32.4h1.9v2.9h-1.9zM599.8 32.4h3.8v2.9h-3.8zM607.4 32.4h1.9v2.9h-1.9zM611.2 32.4h3.8v2.9h-3.8zM616.8 32.4h1.9v2.9h-1.9zM620.6 32.4h1.9v2.9h-1.9zM626.3 32.4h1.9v2.9h-1.9zM630.1 32.4h1.9v2.9h-1.9zM633.8 32.4h3.8v2.9h-3.8zM639.5 32.4h3.8v2.9h-3.8zM647.1 32.4h1.9v2.9h-1.9zM650.8 32.4h7.6v2.9h-7.6zM666.0 32.4h1.9v2.9h-1.9zM669.7 32.4h3.8v2.9h-3.8zM677.3 32.4h1.9v2.9h-1.9zM683.0 32.4h1.9v2.9h-1.9zM686.8 32.4h3.8v2.9h-3.8zM694.3 32.4h5.7v2.9h-5.7zM703.8 32.4h1.9v2.9h-1.9zM707.5 32.4h1.9v2.9h-1.9zM713.2 32.4h1.9v2.9h-1.9zM717.0 32.4h3.8v2.9h-3.8zM726.5 32.4h1.9v2.9h-1.9zM730.2 32.4h7.6v2.9h-7.6zM741.6 32.4h1.9v2.9h-1.9zM747.2 32.4h5.7v2.9h-5.7zM754.8 32.4h5.7v2.9h-5.7zM762.4 32.4h3.8v2.9h-3.8zM768.0 32.4h11.3v2.9h-11.3zM781.3 32.4h3.8v2.9h-3.8zM788.8 32.4h1.9v2.9h-1.9zM794.5 32.4h7.6v2.9h-7.6zM803.9 32.4h3.8v2.9h-3.8zM811.5 32.4h5.7v2.9h-5.7zM819.1 32.4h7.6v2.9h-7.6zM828.5 32.4h1.9v2.9h-1.9zM834.2 32.4h1.9v2.9h-1.9zM838.0 32.4h1.9v2.9h-1.9zM841.7 32.4h7.6v2.9h-7.6zM851.2 32.4h3.8v2.9h-3.8zM856.9 32.4h5.7v2.9h-5.7zM872.0 32.4h3.8v2.9h-3.8zM879.5 32.4h1.9v2.9h-1.9zM883.3 32.4h1.9v2.9h-1.9zM516.6 35.3h1.9v2.9h-1.9zM520.4 35.3h1.9v2.9h-1.9zM533.7 35.3h1.9v2.9h-1.9zM539.3 35.3h3.8v2.9h-3.8zM546.9 35.3h5.7v2.9h-5.7zM560.1 35.3h1.9v2.9h-1.9zM567.7 35.3h1.9v2.9h-1.9zM571.5 35.3h3.8v2.9h-3.8zM577.1 35.3h1.9v2.9h-1.9zM588.5 35.3h3.8v2.9h-3.8zM597.9 35.3h1.9v2.9h-1.9zM601.7 35.3h1.9v2.9h-1.9zM605.5 35.3h3.8v2.9h-3.8zM616.8 35.3h1.9v2.9h-1.9zM620.6 35.3h3.8v2.9h-3.8zM626.3 35.3h1.9v2.9h-1.9zM633.8 35.3h3.8v2.9h-3.8zM643.3 35.3h3.8v2.9h-3.8zM656.5 35.3h1.9v2.9h-1.9zM660.3 35.3h1.9v2.9h-1.9zM667.9 35.3h7.6v2.9h-7.6zM677.3 35.3h1.9v2.9h-1.9zM681.1 35.3h3.8v2.9h-3.8zM688.6 35.3h3.8v2.9h-3.8zM694.3 35.3h3.8v2.9h-3.8zM700.0 35.3h1.9v2.9h-1.9zM703.8 35.3h1.9v2.9h-1.9zM711.3 35.3h1.9v2.9h-1.9zM715.1 35.3h1.9v2.9h-1.9zM720.8 35.3h24.6v2.9h-24.6zM754.8 35.3h1.9v2.9h-1.9zM758.6 35.3h7.6v2.9h-7.6zM768.0 35.3h1.9v2.9h-1.9zM771.8 35.3h5.7v2.9h-5.7zM785.0 35.3h1.9v2.9h-1.9zM790.7 35.3h5.7v2.9h-5.7zM803.9 35.3h1.9v2.9h-1.9zM811.5 35.3h5.7v2.9h-5.7zM819.1 35.3h7.6v2.9h-7.6zM830.4 35.3h9.5v2.9h-9.5zM841.7 35.3h3.8v2.9h-3.8zM847.4 35.3h1.9v2.9h-1.9zM853.1 35.3h1.9v2.9h-1.9zM856.9 35.3h3.8v2.9h-3.8zM866.3 35.3h5.7v2.9h-5.7zM879.5 35.3h1.9v2.9h-1.9zM885.2 35.3h3.8v2.9h-3.8zM331.4 38.2h1.9v2.9h-1.9zM340.9 38.2h1.9v2.9h-1.9zM350.3 38.2h1.9v2.9h-1.9zM354.1 38.2h3.8v2.9h-3.8zM359.8 38.2h1.9v2.9h-1.9zM390.0 38.2h1.9v2.9h-1.9zM393.8 38.2h3.8v2.9h-3.8zM401.4 38.2h1.9v2.9h-1.9zM407.0 38.2h7.6v2.9h-7.6zM418.4 38.2h1.9v2.9h-1.9zM422.1 38.2h13.2v2.9h-13.2zM439.2 38.2h3.8v2.9h-3.8zM448.6 38.2h3.8v2.9h-3.8zM456.2 38.2h1.9v2.9h-1.9zM459.9 38.2h1.9v2.9h-1.9zM469.4 38.2h5.7v2.9h-5.7zM477.0 38.2h3.8v2.9h-3.8zM482.6 38.2h3.8v2.9h-3.8zM488.3 38.2h3.8v2.9h-3.8zM494.0 38.2h9.5v2.9h-9.5zM507.2 38.2h5.7v2.9h-5.7zM514.8 38.2h5.7v2.9h-5.7zM522.3 38.2h9.5v2.9h-9.5zM533.7 38.2h1.9v2.9h-1.9zM537.4 38.2h1.9v2.9h-1.9zM541.2 38.2h1.9v2.9h-1.9zM545.0 38.2h5.7v2.9h-5.7zM552.6 38.2h3.8v2.9h-3.8zM558.2 38.2h5.7v2.9h-5.7zM565.8 38.2h3.8v2.9h-3.8zM575.2 38.2h1.9v2.9h-1.9zM579.0 38.2h5.7v2.9h-5.7zM588.5 38.2h1.9v2.9h-1.9zM603.6 38.2h3.8v2.9h-3.8zM614.9 38.2h3.8v2.9h-3.8zM622.5 38.2h9.5v2.9h-9.5zM633.8 38.2h7.6v2.9h-7.6zM643.3 38.2h9.5v2.9h-9.5zM654.6 38.2h1.9v2.9h-1.9zM658.4 38.2h1.9v2.9h-1.9zM662.2 38.2h13.2v2.9h-13.2zM679.2 38.2h9.5v2.9h-9.5zM690.5 38.2h7.6v2.9h-7.6zM701.9 38.2h3.8v2.9h-3.8zM709.4 38.2h1.9v2.9h-1.9zM713.2 38.2h5.7v2.9h-5.7zM720.8 38.2h1.9v2.9h-1.9zM724.6 38.2h5.7v2.9h-5.7zM732.1 38.2h1.9v2.9h-1.9zM739.7 38.2h1.9v2.9h-1.9zM743.5 38.2h7.6v2.9h-7.6zM752.9 38.2h5.7v2.9h-5.7zM762.4 38.2h1.9v2.9h-1.9zM769.9 38.2h3.8v2.9h-3.8zM781.3 38.2h3.8v2.9h-3.8zM786.9 38.2h7.6v2.9h-7.6zM796.4 38.2h5.7v2.9h-5.7zM809.6 38.2h5.7v2.9h-5.7zM821.0 38.2h1.9v2.9h-1.9zM824.7 38.2h1.9v2.9h-1.9zM828.5 38.2h3.8v2.9h-3.8zM836.1 38.2h1.9v2.9h-1.9zM839.9 38.2h3.8v2.9h-3.8zM845.5 38.2h5.7v2.9h-5.7zM853.1 38.2h3.8v2.9h-3.8zM866.3 38.2h1.9v2.9h-1.9zM873.9 38.2h7.6v2.9h-7.6zM887.1 38.2h1.9v2.9h-1.9zM106.5 41.1h1.9v2.9h-1.9zM123.5 41.1h1.9v2.9h-1.9zM150.0 41.1h1.9v2.9h-1.9zM155.6 41.1h1.9v2.9h-1.9zM170.8 41.1h1.9v2.9h-1.9zM191.5 41.1h1.9v2.9h-1.9zM208.6 41.1h1.9v2.9h-1.9zM216.1 41.1h1.9v2.9h-1.9zM238.8 41.1h9.5v2.9h-9.5zM250.1 41.1h1.9v2.9h-1.9zM255.8 41.1h3.8v2.9h-3.8zM265.3 41.1h1.9v2.9h-1.9zM270.9 41.1h1.9v2.9h-1.9zM286.1 41.1h1.9v2.9h-1.9zM289.8 41.1h1.9v2.9h-1.9zM297.4 41.1h3.8v2.9h-3.8zM305.0 41.1h1.9v2.9h-1.9zM308.7 41.1h1.9v2.9h-1.9zM312.5 41.1h5.7v2.9h-5.7zM320.1 41.1h3.8v2.9h-3.8zM335.2 41.1h3.8v2.9h-3.8zM352.2 41.1h1.9v2.9h-1.9zM367.3 41.1h7.6v2.9h-7.6zM376.8 41.1h3.8v2.9h-3.8zM382.4 41.1h1.9v2.9h-1.9zM388.1 41.1h5.7v2.9h-5.7zM397.6 41.1h1.9v2.9h-1.9zM401.4 41.1h1.9v2.9h-1.9zM407.0 41.1h5.7v2.9h-5.7zM416.5 41.1h1.9v2.9h-1.9zM425.9 41.1h1.9v2.9h-1.9zM435.4 41.1h1.9v2.9h-1.9zM439.2 41.1h1.9v2.9h-1.9zM446.7 41.1h1.9v2.9h-1.9zM454.3 41.1h7.6v2.9h-7.6zM465.6 41.1h1.9v2.9h-1.9zM475.1 41.1h1.9v2.9h-1.9zM486.4 41.1h3.8v2.9h-3.8zM492.1 41.1h1.9v2.9h-1.9zM503.4 41.1h1.9v2.9h-1.9zM512.9 41.1h1.9v2.9h-1.9zM526.1 41.1h1.9v2.9h-1.9zM533.7 41.1h1.9v2.9h-1.9zM537.4 41.1h1.9v2.9h-1.9zM543.1 41.1h1.9v2.9h-1.9zM562.0 41.1h7.6v2.9h-7.6zM580.9 41.1h1.9v2.9h-1.9zM584.7 41.1h1.9v2.9h-1.9zM588.5 41.1h3.8v2.9h-3.8zM596.0 41.1h5.7v2.9h-5.7zM603.6 41.1h1.9v2.9h-1.9zM609.3 41.1h1.9v2.9h-1.9zM614.9 41.1h5.7v2.9h-5.7zM624.4 41.1h1.9v2.9h-1.9zM628.2 41.1h1.9v2.9h-1.9zM631.9 41.1h3.8v2.9h-3.8zM637.6 41.1h3.8v2.9h-3.8zM647.1 41.1h3.8v2.9h-3.8zM652.7 41.1h3.8v2.9h-3.8zM664.1 41.1h1.9v2.9h-1.9zM671.6 41.1h1.9v2.9h-1.9zM675.4 41.1h1.9v2.9h-1.9zM679.2 41.1h1.9v2.9h-1.9zM683.0 41.1h1.9v2.9h-1.9zM686.8 41.1h3.8v2.9h-3.8zM701.9 41.1h1.9v2.9h-1.9zM709.4 41.1h7.6v2.9h-7.6zM718.9 41.1h5.7v2.9h-5.7zM726.5 41.1h1.9v2.9h-1.9zM732.1 41.1h3.8v2.9h-3.8zM743.5 41.1h7.6v2.9h-7.6zM752.9 41.1h3.8v2.9h-3.8zM760.5 41.1h1.9v2.9h-1.9zM764.3 41.1h1.9v2.9h-1.9zM771.8 41.1h3.8v2.9h-3.8zM777.5 41.1h5.7v2.9h-5.7zM785.0 41.1h1.9v2.9h-1.9zM788.8 41.1h3.8v2.9h-3.8zM796.4 41.1h1.9v2.9h-1.9zM805.8 41.1h3.8v2.9h-3.8zM813.4 41.1h1.9v2.9h-1.9zM821.0 41.1h1.9v2.9h-1.9zM824.7 41.1h1.9v2.9h-1.9zM841.7 41.1h1.9v2.9h-1.9zM855.0 41.1h1.9v2.9h-1.9zM862.5 41.1h3.8v2.9h-3.8zM870.1 41.1h1.9v2.9h-1.9zM885.2 41.1h1.9v2.9h-1.9zM85.7 44.0h1.9v2.8h-1.9zM115.9 44.0h1.9v2.8h-1.9zM314.4 44.0h1.9v2.8h-1.9zM356.0 44.0h1.9v2.8h-1.9zM393.8 44.0h1.9v2.8h-1.9zM425.9 44.0h1.9v2.8h-1.9zM452.4 44.0h1.9v2.8h-1.9zM458.1 44.0h1.9v2.8h-1.9zM461.8 44.0h1.9v2.8h-1.9zM477.0 44.0h1.9v2.8h-1.9zM486.4 44.0h1.9v2.8h-1.9zM490.2 44.0h5.7v2.8h-5.7zM503.4 44.0h1.9v2.8h-1.9zM512.9 44.0h1.9v2.8h-1.9zM522.3 44.0h1.9v2.8h-1.9zM529.9 44.0h1.9v2.8h-1.9zM545.0 44.0h1.9v2.8h-1.9zM554.4 44.0h1.9v2.8h-1.9zM573.4 44.0h1.9v2.8h-1.9zM579.0 44.0h1.9v2.8h-1.9zM586.6 44.0h3.8v2.8h-3.8zM603.6 44.0h3.8v2.8h-3.8zM624.4 44.0h3.8v2.8h-3.8zM631.9 44.0h1.9v2.8h-1.9zM641.4 44.0h3.8v2.8h-3.8zM649.0 44.0h1.9v2.8h-1.9zM654.6 44.0h1.9v2.8h-1.9zM667.9 44.0h1.9v2.8h-1.9zM679.2 44.0h1.9v2.8h-1.9zM684.9 44.0h5.7v2.8h-5.7zM692.4 44.0h1.9v2.8h-1.9zM696.2 44.0h1.9v2.8h-1.9zM703.8 44.0h3.8v2.8h-3.8zM709.4 44.0h1.9v2.8h-1.9zM715.1 44.0h1.9v2.8h-1.9zM724.6 44.0h1.9v2.8h-1.9zM728.3 44.0h1.9v2.8h-1.9zM734.0 44.0h1.9v2.8h-1.9zM739.7 44.0h3.8v2.8h-3.8zM745.4 44.0h1.9v2.8h-1.9zM752.9 44.0h3.8v2.8h-3.8zM758.6 44.0h1.9v2.8h-1.9zM764.3 44.0h1.9v2.8h-1.9zM769.9 44.0h3.8v2.8h-3.8zM777.5 44.0h5.7v2.8h-5.7zM786.9 44.0h1.9v2.8h-1.9zM792.6 44.0h3.8v2.8h-3.8zM800.2 44.0h3.8v2.8h-3.8zM807.7 44.0h3.8v2.8h-3.8zM817.2 44.0h1.9v2.8h-1.9zM832.3 44.0h1.9v2.8h-1.9zM839.9 44.0h5.7v2.8h-5.7zM849.3 44.0h1.9v2.8h-1.9zM856.9 44.0h1.9v2.8h-1.9zM862.5 44.0h1.9v2.8h-1.9zM877.7 44.0h1.9v2.8h-1.9zM537.4 46.8h1.9v2.9h-1.9zM543.1 46.8h1.9v2.9h-1.9zM628.2 46.8h1.9v2.9h-1.9zM658.4 46.8h1.9v2.9h-1.9zM679.2 46.8h1.9v2.9h-1.9zM688.6 46.8h5.7v2.9h-5.7zM705.7 46.8h3.8v2.9h-3.8zM711.3 46.8h1.9v2.9h-1.9zM752.9 46.8h1.9v2.9h-1.9zM760.5 46.8h1.9v2.9h-1.9zM764.3 46.8h1.9v2.9h-1.9zM792.6 46.8h5.7v2.9h-5.7zM802.1 46.8h1.9v2.9h-1.9zM815.3 46.8h1.9v2.9h-1.9zM832.3 46.8h7.6v2.9h-7.6zM845.5 46.8h1.9v2.9h-1.9zM849.3 46.8h1.9v2.9h-1.9zM855.0 46.8h5.7v2.9h-5.7zM866.3 46.8h1.9v2.9h-1.9zM872.0 46.8h1.9v2.9h-1.9zM875.8 46.8h3.8v2.9h-3.8zM881.4 46.8h3.8v2.9h-3.8zM694.3 49.7h1.9v5.8h-1.9zM698.1 49.7h1.9v5.8h-1.9zM781.3 49.7h1.9v5.8h-1.9zM807.7 49.7h1.9v5.8h-1.9zM849.3 49.7h1.9v5.8h-1.9zM879.5 49.7h1.9v5.8h-1.9zM78.1 55.5h1.9v2.9h-1.9zM114.1 55.5h1.9v2.9h-1.9zM136.7 55.5h1.9v2.9h-1.9zM142.4 55.5h1.9v2.9h-1.9zM335.2 55.5h1.9v2.9h-1.9zM371.1 55.5h1.9v2.9h-1.9zM446.7 55.5h1.9v2.9h-1.9zM458.1 55.5h1.9v2.9h-1.9zM486.4 55.5h1.9v2.9h-1.9zM492.1 55.5h1.9v2.9h-1.9zM497.7 55.5h1.9v2.9h-1.9zM503.4 55.5h1.9v2.9h-1.9zM512.9 55.5h1.9v2.9h-1.9zM522.3 55.5h3.8v2.9h-3.8zM529.9 55.5h1.9v2.9h-1.9zM539.3 55.5h1.9v2.9h-1.9zM546.9 55.5h1.9v2.9h-1.9zM552.6 55.5h3.8v2.9h-3.8zM562.0 55.5h1.9v2.9h-1.9zM573.4 55.5h1.9v2.9h-1.9zM586.6 55.5h3.8v2.9h-3.8zM603.6 55.5h1.9v2.9h-1.9zM611.2 55.5h1.9v2.9h-1.9zM624.4 55.5h1.9v2.9h-1.9zM631.9 55.5h1.9v2.9h-1.9zM647.1 55.5h3.8v2.9h-3.8zM652.7 55.5h1.9v2.9h-1.9zM662.2 55.5h5.7v2.9h-5.7zM673.5 55.5h1.9v2.9h-1.9zM679.2 55.5h1.9v2.9h-1.9zM683.0 55.5h1.9v2.9h-1.9zM686.8 55.5h1.9v2.9h-1.9zM690.5 55.5h3.8v2.9h-3.8zM698.1 55.5h1.9v2.9h-1.9zM703.8 55.5h1.9v2.9h-1.9zM739.7 55.5h1.9v2.9h-1.9zM747.2 55.5h1.9v2.9h-1.9zM752.9 55.5h1.9v2.9h-1.9zM758.6 55.5h1.9v2.9h-1.9zM769.9 55.5h1.9v2.9h-1.9zM781.3 55.5h1.9v2.9h-1.9zM786.9 55.5h1.9v2.9h-1.9zM798.3 55.5h3.8v2.9h-3.8zM807.7 55.5h5.7v2.9h-5.7zM815.3 55.5h1.9v2.9h-1.9zM821.0 55.5h1.9v2.9h-1.9zM836.1 55.5h1.9v2.9h-1.9zM839.9 55.5h1.9v2.9h-1.9zM845.5 55.5h1.9v2.9h-1.9zM849.3 55.5h1.9v2.9h-1.9zM858.8 55.5h1.9v2.9h-1.9zM868.2 55.5h1.9v2.9h-1.9zM875.8 55.5h5.7v2.9h-5.7zM106.5 58.4h1.9v2.8h-1.9zM119.7 58.4h1.9v2.8h-1.9zM208.6 58.4h1.9v2.8h-1.9zM252.0 58.4h1.9v2.8h-1.9zM255.8 58.4h3.8v2.8h-3.8zM261.5 58.4h1.9v2.8h-1.9zM265.3 58.4h1.9v2.8h-1.9zM269.0 58.4h1.9v2.8h-1.9zM274.7 58.4h1.9v2.8h-1.9zM282.3 58.4h1.9v2.8h-1.9zM297.4 58.4h3.8v2.8h-3.8zM312.5 58.4h9.5v2.8h-9.5zM331.4 58.4h3.8v2.8h-3.8zM337.1 58.4h1.9v2.8h-1.9zM342.8 58.4h3.8v2.8h-3.8zM352.2 58.4h1.9v2.8h-1.9zM357.9 58.4h1.9v2.8h-1.9zM363.5 58.4h1.9v2.8h-1.9zM367.3 58.4h5.7v2.8h-5.7zM380.6 58.4h3.8v2.8h-3.8zM386.2 58.4h3.8v2.8h-3.8zM393.8 58.4h1.9v2.8h-1.9zM397.6 58.4h1.9v2.8h-1.9zM401.4 58.4h3.8v2.8h-3.8zM408.9 58.4h7.6v2.8h-7.6zM418.4 58.4h11.3v2.8h-11.3zM441.0 58.4h7.6v2.8h-7.6zM456.2 58.4h1.9v2.8h-1.9zM465.6 58.4h1.9v2.8h-1.9zM477.0 58.4h3.8v2.8h-3.8zM482.6 58.4h3.8v2.8h-3.8zM495.9 58.4h5.7v2.8h-5.7zM503.4 58.4h5.7v2.8h-5.7zM514.8 58.4h3.8v2.8h-3.8zM522.3 58.4h1.9v2.8h-1.9zM529.9 58.4h3.8v2.8h-3.8zM537.4 58.4h1.9v2.8h-1.9zM546.9 58.4h5.7v2.8h-5.7zM562.0 58.4h3.8v2.8h-3.8zM569.6 58.4h1.9v2.8h-1.9zM575.2 58.4h1.9v2.8h-1.9zM579.0 58.4h5.7v2.8h-5.7zM590.4 58.4h1.9v2.8h-1.9zM599.8 58.4h1.9v2.8h-1.9zM605.5 58.4h1.9v2.8h-1.9zM609.3 58.4h3.8v2.8h-3.8zM614.9 58.4h1.9v2.8h-1.9zM618.7 58.4h1.9v2.8h-1.9zM624.4 58.4h1.9v2.8h-1.9zM628.2 58.4h1.9v2.8h-1.9zM631.9 58.4h1.9v2.8h-1.9zM650.8 58.4h5.7v2.8h-5.7zM660.3 58.4h1.9v2.8h-1.9zM667.9 58.4h1.9v2.8h-1.9zM671.6 58.4h1.9v2.8h-1.9zM679.2 58.4h9.5v2.8h-9.5zM690.5 58.4h1.9v2.8h-1.9zM694.3 58.4h1.9v2.8h-1.9zM700.0 58.4h1.9v2.8h-1.9zM707.5 58.4h7.6v2.8h-7.6zM718.9 58.4h1.9v2.8h-1.9zM724.6 58.4h1.9v2.8h-1.9zM734.0 58.4h1.9v2.8h-1.9zM739.7 58.4h1.9v2.8h-1.9zM745.4 58.4h1.9v2.8h-1.9zM751.0 58.4h3.8v2.8h-3.8zM760.5 58.4h1.9v2.8h-1.9zM779.4 58.4h3.8v2.8h-3.8zM786.9 58.4h9.5v2.8h-9.5zM811.5 58.4h1.9v2.8h-1.9zM819.1 58.4h1.9v2.8h-1.9zM822.8 58.4h1.9v2.8h-1.9zM832.3 58.4h1.9v2.8h-1.9zM836.1 58.4h1.9v2.8h-1.9zM839.9 58.4h3.8v2.8h-3.8zM847.4 58.4h1.9v2.8h-1.9zM855.0 58.4h1.9v2.8h-1.9zM864.4 58.4h1.9v2.8h-1.9zM316.3 61.2h1.9v2.9h-1.9zM344.6 61.2h1.9v2.9h-1.9zM350.3 61.2h1.9v2.9h-1.9zM359.8 61.2h9.5v2.9h-9.5zM371.1 61.2h7.6v2.9h-7.6zM382.4 61.2h5.7v2.9h-5.7zM390.0 61.2h1.9v2.9h-1.9zM395.7 61.2h1.9v2.9h-1.9zM403.2 61.2h1.9v2.9h-1.9zM407.0 61.2h3.8v2.9h-3.8zM412.7 61.2h7.6v2.9h-7.6zM422.1 61.2h3.8v2.9h-3.8zM427.8 61.2h1.9v2.9h-1.9zM431.6 61.2h1.9v2.9h-1.9zM435.4 61.2h1.9v2.9h-1.9zM439.2 61.2h7.6v2.9h-7.6zM459.9 61.2h3.8v2.9h-3.8zM473.2 61.2h9.5v2.9h-9.5zM484.5 61.2h1.9v2.9h-1.9zM488.3 61.2h3.8v2.9h-3.8zM494.0 61.2h3.8v2.9h-3.8zM499.6 61.2h7.6v2.9h-7.6zM514.8 61.2h1.9v2.9h-1.9zM518.5 61.2h1.9v2.9h-1.9zM522.3 61.2h7.6v2.9h-7.6zM531.8 61.2h1.9v2.9h-1.9zM539.3 61.2h9.5v2.9h-9.5zM550.7 61.2h5.7v2.9h-5.7zM560.1 61.2h5.7v2.9h-5.7zM567.7 61.2h1.9v2.9h-1.9zM573.4 61.2h1.9v2.9h-1.9zM579.0 61.2h5.7v2.9h-5.7zM586.6 61.2h5.7v2.9h-5.7zM599.8 61.2h1.9v2.9h-1.9zM605.5 61.2h7.6v2.9h-7.6zM614.9 61.2h5.7v2.9h-5.7zM622.5 61.2h3.8v2.9h-3.8zM630.1 61.2h1.9v2.9h-1.9zM633.8 61.2h9.5v2.9h-9.5zM647.1 61.2h9.5v2.9h-9.5zM660.3 61.2h1.9v2.9h-1.9zM666.0 61.2h3.8v2.9h-3.8zM671.6 61.2h1.9v2.9h-1.9zM675.4 61.2h1.9v2.9h-1.9zM679.2 61.2h5.7v2.9h-5.7zM688.6 61.2h1.9v2.9h-1.9zM694.3 61.2h1.9v2.9h-1.9zM698.1 61.2h1.9v2.9h-1.9zM701.9 61.2h1.9v2.9h-1.9zM707.5 61.2h3.8v2.9h-3.8zM718.9 61.2h7.6v2.9h-7.6zM728.3 61.2h1.9v2.9h-1.9zM732.1 61.2h1.9v2.9h-1.9zM739.7 61.2h5.7v2.9h-5.7zM747.2 61.2h3.8v2.9h-3.8zM752.9 61.2h1.9v2.9h-1.9zM758.6 61.2h3.8v2.9h-3.8zM764.3 61.2h1.9v2.9h-1.9zM769.9 61.2h1.9v2.9h-1.9zM773.7 61.2h5.7v2.9h-5.7zM781.3 61.2h3.8v2.9h-3.8zM786.9 61.2h7.6v2.9h-7.6zM796.4 61.2h3.8v2.9h-3.8zM809.6 61.2h7.6v2.9h-7.6zM819.1 61.2h3.8v2.9h-3.8zM824.7 61.2h1.9v2.9h-1.9zM828.5 61.2h1.9v2.9h-1.9zM836.1 61.2h1.9v2.9h-1.9zM841.7 61.2h1.9v2.9h-1.9zM849.3 61.2h1.9v2.9h-1.9zM855.0 61.2h3.8v2.9h-3.8zM866.3 61.2h3.8v2.9h-3.8zM877.7 61.2h1.9v2.9h-1.9zM548.8 64.1h1.9v2.9h-1.9zM552.6 64.1h1.9v2.9h-1.9zM558.2 64.1h1.9v2.9h-1.9zM579.0 64.1h3.8v2.9h-3.8zM590.4 64.1h1.9v2.9h-1.9zM597.9 64.1h1.9v2.9h-1.9zM601.7 64.1h1.9v2.9h-1.9zM613.0 64.1h1.9v2.9h-1.9zM616.8 64.1h3.8v2.9h-3.8zM630.1 64.1h1.9v2.9h-1.9zM635.7 64.1h1.9v2.9h-1.9zM639.5 64.1h1.9v2.9h-1.9zM645.2 64.1h1.9v2.9h-1.9zM650.8 64.1h1.9v2.9h-1.9zM654.6 64.1h5.7v2.9h-5.7zM667.9 64.1h11.3v2.9h-11.3zM683.0 64.1h3.8v2.9h-3.8zM690.5 64.1h1.9v2.9h-1.9zM700.0 64.1h1.9v2.9h-1.9zM703.8 64.1h3.8v2.9h-3.8zM709.4 64.1h3.8v2.9h-3.8zM720.8 64.1h3.8v2.9h-3.8zM726.5 64.1h1.9v2.9h-1.9zM730.2 64.1h1.9v2.9h-1.9zM735.9 64.1h1.9v2.9h-1.9zM741.6 64.1h3.8v2.9h-3.8zM749.1 64.1h1.9v2.9h-1.9zM754.8 64.1h3.8v2.9h-3.8zM762.4 64.1h1.9v2.9h-1.9zM766.1 64.1h3.8v2.9h-3.8zM773.7 64.1h1.9v2.9h-1.9zM785.0 64.1h1.9v2.9h-1.9zM788.8 64.1h1.9v2.9h-1.9zM798.3 64.1h1.9v2.9h-1.9zM805.8 64.1h1.9v2.9h-1.9zM811.5 64.1h1.9v2.9h-1.9zM815.3 64.1h1.9v2.9h-1.9zM819.1 64.1h7.6v2.9h-7.6zM828.5 64.1h5.7v2.9h-5.7zM851.2 64.1h1.9v2.9h-1.9zM856.9 64.1h1.9v2.9h-1.9zM860.6 64.1h3.8v2.9h-3.8zM870.1 64.1h5.7v2.9h-5.7zM885.2 64.1h3.8v2.9h-3.8zM467.5 67.0h1.9v2.9h-1.9zM509.1 67.0h1.9v2.9h-1.9zM520.4 67.0h1.9v2.9h-1.9zM531.8 67.0h1.9v2.9h-1.9zM535.5 67.0h1.9v2.9h-1.9zM541.2 67.0h1.9v2.9h-1.9zM556.3 67.0h3.8v2.9h-3.8zM563.9 67.0h1.9v2.9h-1.9zM567.7 67.0h1.9v2.9h-1.9zM575.2 67.0h3.8v2.9h-3.8zM599.8 67.0h3.8v2.9h-3.8zM614.9 67.0h1.9v2.9h-1.9zM620.6 67.0h3.8v2.9h-3.8zM628.2 67.0h1.9v2.9h-1.9zM639.5 67.0h3.8v2.9h-3.8zM645.2 67.0h1.9v2.9h-1.9zM650.8 67.0h1.9v2.9h-1.9zM656.5 67.0h3.8v2.9h-3.8zM664.1 67.0h1.9v2.9h-1.9zM667.9 67.0h5.7v2.9h-5.7zM675.4 67.0h3.8v2.9h-3.8zM683.0 67.0h1.9v2.9h-1.9zM688.6 67.0h3.8v2.9h-3.8zM696.2 67.0h7.6v2.9h-7.6zM707.5 67.0h3.8v2.9h-3.8zM713.2 67.0h5.7v2.9h-5.7zM720.8 67.0h1.9v2.9h-1.9zM726.5 67.0h1.9v2.9h-1.9zM735.9 67.0h3.8v2.9h-3.8zM741.6 67.0h5.7v2.9h-5.7zM749.1 67.0h3.8v2.9h-3.8zM756.7 67.0h7.6v2.9h-7.6zM766.1 67.0h5.7v2.9h-5.7zM773.7 67.0h3.8v2.9h-3.8zM779.4 67.0h1.9v2.9h-1.9zM786.9 67.0h1.9v2.9h-1.9zM790.7 67.0h1.9v2.9h-1.9zM794.5 67.0h3.8v2.9h-3.8zM803.9 67.0h7.6v2.9h-7.6zM813.4 67.0h3.8v2.9h-3.8zM819.1 67.0h1.9v2.9h-1.9zM824.7 67.0h9.5v2.9h-9.5zM836.1 67.0h1.9v2.9h-1.9zM841.7 67.0h1.9v2.9h-1.9zM845.5 67.0h3.8v2.9h-3.8zM856.9 67.0h1.9v2.9h-1.9zM860.6 67.0h1.9v2.9h-1.9zM866.3 67.0h1.9v2.9h-1.9zM873.9 67.0h1.9v2.9h-1.9z"/>
<path fill="#c8dcdc" d="M199.1 23.8h1.9v2.9h-1.9zM204.8 23.8h1.9v2.9h-1.9zM210.4 26.7h1.9v2.9h-1.9zM218.0 26.7h1.9v2.9h-1.9zM225.6 26.7h1.9v2.9h-1.9zM238.8 26.7h3.8v2.9h-3.8zM244.5 26.7h1.9v2.9h-1.9zM248.3 26.7h1.9v2.9h-1.9zM259.6 26.7h3.8v2.9h-3.8zM265.3 26.7h1.9v2.9h-1.9zM276.6 26.7h1.9v2.9h-1.9zM282.3 26.7h1.9v2.9h-1.9zM301.2 26.7h1.9v2.9h-1.9zM316.3 26.7h3.8v2.9h-3.8zM322.0 26.7h1.9v2.9h-1.9zM331.4 26.7h1.9v2.9h-1.9zM335.2 26.7h1.9v2.9h-1.9zM340.9 26.7h3.8v2.9h-3.8zM352.2 26.7h3.8v2.9h-3.8zM365.4 26.7h3.8v2.9h-3.8zM371.1 26.7h1.9v2.9h-1.9zM384.3 26.7h1.9v2.9h-1.9zM390.0 26.7h5.7v2.9h-5.7zM399.5 26.7h1.9v2.9h-1.9zM410.8 26.7h1.9v2.9h-1.9zM418.4 26.7h5.7v2.9h-5.7zM437.3 26.7h1.9v2.9h-1.9zM444.8 26.7h3.8v2.9h-3.8zM452.4 26.7h3.8v2.9h-3.8zM459.9 26.7h1.9v2.9h-1.9zM463.7 26.7h1.9v2.9h-1.9zM467.5 26.7h1.9v2.9h-1.9zM473.2 26.7h3.8v2.9h-3.8zM478.8 26.7h3.8v2.9h-3.8zM495.9 26.7h5.7v2.9h-5.7zM509.1 26.7h1.9v2.9h-1.9zM516.6 26.7h1.9v2.9h-1.9zM535.5 26.7h1.9v2.9h-1.9zM541.2 26.7h1.9v2.9h-1.9zM545.0 26.7h3.8v2.9h-3.8zM550.7 26.7h1.9v2.9h-1.9zM554.4 26.7h3.8v2.9h-3.8zM573.4 26.7h1.9v2.9h-1.9zM590.4 26.7h3.8v2.9h-3.8zM603.6 26.7h1.9v2.9h-1.9zM607.4 26.7h1.9v2.9h-1.9zM614.9 26.7h1.9v2.9h-1.9zM622.5 26.7h1.9v2.9h-1.9zM635.7 26.7h3.8v2.9h-3.8zM645.2 26.7h1.9v2.9h-1.9zM650.8 26.7h1.9v2.9h-1.9zM658.4 26.7h1.9v2.9h-1.9zM667.9 26.7h1.9v2.9h-1.9zM673.5 26.7h1.9v2.9h-1.9zM683.0 26.7h1.9v2.9h-1.9zM698.1 26.7h1.9v2.9h-1.9zM701.9 26.7h3.8v2.9h-3.8zM709.4 26.7h1.9v2.9h-1.9zM715.1 26.7h1.9v2.9h-1.9zM722.7 26.7h1.9v2.9h-1.9zM735.9 26.7h1.9v2.9h-1.9zM739.7 26.7h1.9v2.9h-1.9zM747.2 26.7h3.8v2.9h-3.8zM756.7 26.7h5.7v2.9h-5.7zM766.1 26.7h1.9v2.9h-1.9zM771.8 26.7h1.9v2.9h-1.9zM781.3 26.7h1.9v2.9h-1.9zM792.6 26.7h3.8v2.9h-3.8zM805.8 26.7h1.9v2.9h-1.9zM817.2 26.7h1.9v2.9h-1.9zM822.8 26.7h1.9v2.9h-1.9zM826.6 26.7h1.9v2.9h-1.9zM830.4 26.7h1.9v2.9h-1.9zM839.9 26.7h1.9v2.9h-1.9zM851.2 26.7h3.8v2.9h-3.8zM858.8 26.7h1.9v2.9h-1.9zM868.2 26.7h1.9v2.9h-1.9zM873.9 26.7h1.9v2.9h-1.9zM887.1 26.7h1.9v2.9h-1.9zM280.4 29.6h1.9v2.8h-1.9zM346.5 29.6h1.9v2.8h-1.9zM354.1 29.6h1.9v2.8h-1.9zM374.9 29.6h1.9v2.8h-1.9zM384.3 29.6h3.8v2.8h-3.8zM397.6 29.6h1.9v2.8h-1.9zM401.4 29.6h1.9v2.8h-1.9zM405.1 29.6h5.7v2.8h-5.7zM427.8 29.6h1.9v2.8h-1.9zM431.6 29.6h3.8v2.8h-3.8zM439.2 29.6h1.9v2.8h-1.9zM448.6 29.6h1.9v2.8h-1.9zM459.9 29.6h5.7v2.8h-5.7zM467.5 29.6h9.5v2.8h-9.5zM494.0 29.6h1.9v2.8h-1.9zM501.5 29.6h5.7v2.8h-5.7zM509.1 29.6h1.9v2.8h-1.9zM528.0 29.6h1.9v2.8h-1.9zM533.7 29.6h3.8v2.8h-3.8zM550.7 29.6h1.9v2.8h-1.9zM560.1 29.6h1.9v2.8h-1.9zM563.9 29.6h1.9v2.8h-1.9zM567.7 29.6h1.9v2.8h-1.9zM573.4 29.6h9.5v2.8h-9.5zM597.9 29.6h7.6v2.8h-7.6zM607.4 29.6h1.9v2.8h-1.9zM611.2 29.6h1.9v2.8h-1.9zM614.9 29.6h1.9v2.8h-1.9zM622.5 29.6h1.9v2.8h-1.9zM626.3 29.6h3.8v2.8h-3.8zM635.7 29.6h1.9v2.8h-1.9zM643.3 29.6h1.9v2.8h-1.9zM647.1 29.6h5.7v2.8h-5.7zM656.5 29.6h3.8v2.8h-3.8zM662.2 29.6h3.8v2.8h-3.8zM667.9 29.6h7.6v2.8h-7.6zM677.3 29.6h1.9v2.8h-1.9zM688.6 29.6h1.9v2.8h-1.9zM692.4 29.6h1.9v2.8h-1.9zM696.2 29.6h1.9v2.8h-1.9zM707.5 29.6h1.9v2.8h-1.9zM713.2 29.6h1.9v2.8h-1.9zM717.0 29.6h1.9v2.8h-1.9zM724.6 29.6h3.8v2.8h-3.8zM730.2 29.6h1.9v2.8h-1.9zM737.8 29.6h1.9v2.8h-1.9zM743.5 29.6h1.9v2.8h-1.9zM751.0 29.6h1.9v2.8h-1.9zM756.7 29.6h1.9v2.8h-1.9zM762.4 29.6h1.9v2.8h-1.9zM766.1 29.6h1.9v2.8h-1.9zM773.7 29.6h3.8v2.8h-3.8zM785.0 29.6h1.9v2.8h-1.9zM803.9 29.6h1.9v2.8h-1.9zM811.5 29.6h9.5v2.8h-9.5zM838.0 29.6h1.9v2.8h-1.9zM851.2 29.6h5.7v2.8h-5.7zM868.2 29.6h1.9v2.8h-1.9zM883.3 29.6h1.9v2.8h-1.9zM887.1 29.6h1.9v2.8h-1.9zM563.9 32.4h1.9v2.9h-1.9zM577.1 32.4h1.9v2.9h-1.9zM645.2 32.4h1.9v2.9h-1.9zM700.0 32.4h1.9v2.9h-1.9zM711.3 32.4h1.9v2.9h-1.9zM766.1 32.4h1.9v2.9h-1.9zM817.2 32.4h1.9v2.9h-1.9zM826.6 32.4h1.9v2.9h-1.9zM830.4 32.4h1.9v2.9h-1.9zM866.3 32.4h1.9v2.9h-1.9zM877.7 32.4h1.9v2.9h-1.9zM885.2 32.4h3.8v2.9h-3.8zM575.2 35.3h1.9v2.9h-1.9zM766.1 35.3h1.9v2.9h-1.9zM805.8 35.3h1.9v2.9h-1.9zM817.2 35.3h1.9v2.9h-1.9zM826.6 35.3h3.8v2.9h-3.8zM873.9 35.3h1.9v2.9h-1.9zM384.3 38.2h3.8v2.9h-3.8zM444.8 38.2h1.9v2.9h-1.9zM467.5 38.2h1.9v2.9h-1.9zM475.1 38.2h1.9v2.9h-1.9zM480.7 38.2h1.9v2.9h-1.9zM520.4 38.2h1.9v2.9h-1.9zM531.8 38.2h1.9v2.9h-1.9zM535.5 38.2h1.9v2.9h-1.9zM539.3 38.2h1.9v2.9h-1.9zM543.1 38.2h1.9v2.9h-1.9zM550.7 38.2h1.9v2.9h-1.9zM556.3 38.2h1.9v2.9h-1.9zM563.9 38.2h1.9v2.9h-1.9zM569.6 38.2h5.7v2.9h-5.7zM577.1 38.2h1.9v2.9h-1.9zM584.7 38.2h1.9v2.9h-1.9zM590.4 38.2h1.9v2.9h-1.9zM597.9 38.2h5.7v2.9h-5.7zM607.4 38.2h1.9v2.9h-1.9zM618.7 38.2h3.8v2.9h-3.8zM631.9 38.2h1.9v2.9h-1.9zM656.5 38.2h1.9v2.9h-1.9zM660.3 38.2h1.9v2.9h-1.9zM675.4 38.2h3.8v2.9h-3.8zM688.6 38.2h1.9v2.9h-1.9zM700.0 38.2h1.9v2.9h-1.9zM705.7 38.2h3.8v2.9h-3.8zM711.3 38.2h1.9v2.9h-1.9zM718.9 38.2h1.9v2.9h-1.9zM722.7 38.2h1.9v2.9h-1.9zM730.2 38.2h1.9v2.9h-1.9zM734.0 38.2h5.7v2.9h-5.7zM741.6 38.2h1.9v2.9h-1.9zM751.0 38.2h1.9v2.9h-1.9zM758.6 38.2h1.9v2.9h-1.9zM764.3 38.2h1.9v2.9h-1.9zM768.0 38.2h1.9v2.9h-1.9zM777.5 38.2h3.8v2.9h-3.8zM785.0 38.2h1.9v2.9h-1.9zM794.5 38.2h1.9v2.9h-1.9zM803.9 38.2h3.8v2.9h-3.8zM815.3 38.2h5.7v2.9h-5.7zM822.8 38.2h1.9v2.9h-1.9zM826.6 38.2h1.9v2.9h-1.9zM834.2 38.2h1.9v2.9h-1.9zM843.6 38.2h1.9v2.9h-1.9zM858.8 38.2h5.7v2.9h-5.7zM868.2 38.2h1.9v2.9h-1.9zM872.0 38.2h1.9v2.9h-1.9zM883.3 38.2h1.9v2.9h-1.9zM68.7 41.1h1.9v2.9h-1.9zM95.2 41.1h1.9v2.9h-1.9zM236.9 41.1h1.9v2.9h-1.9zM269.0 41.1h1.9v2.9h-1.9zM272.8 41.1h13.2v2.9h-13.2zM291.7 41.1h1.9v2.9h-1.9zM301.2 41.1h3.8v2.9h-3.8zM323.9 41.1h1.9v2.9h-1.9zM331.4 41.1h1.9v2.9h-1.9zM339.0 41.1h3.8v2.9h-3.8zM344.6 41.1h1.9v2.9h-1.9zM348.4 41.1h1.9v2.9h-1.9zM354.1 41.1h1.9v2.9h-1.9zM361.7 41.1h5.7v2.9h-5.7zM395.7 41.1h1.9v2.9h-1.9zM403.2 41.1h3.8v2.9h-3.8zM412.7 41.1h3.8v2.9h-3.8zM418.4 41.1h7.6v2.9h-7.6zM427.8 41.1h7.6v2.9h-7.6zM441.0 41.1h3.8v2.9h-3.8zM448.6 41.1h5.7v2.9h-5.7zM461.8 41.1h3.8v2.9h-3.8zM469.4 41.1h5.7v2.9h-5.7zM477.0 41.1h3.8v2.9h-3.8zM482.6 41.1h3.8v2.9h-3.8zM490.2 41.1h1.9v2.9h-1.9zM494.0 41.1h3.8v2.9h-3.8zM499.6 41.1h3.8v2.9h-3.8zM505.3 41.1h7.6v2.9h-7.6zM516.6 41.1h5.7v2.9h-5.7zM524.2 41.1h1.9v2.9h-1.9zM528.0 41.1h3.8v2.9h-3.8zM535.5 41.1h1.9v2.9h-1.9zM539.3 41.1h3.8v2.9h-3.8zM545.0 41.1h13.2v2.9h-13.2zM560.1 41.1h1.9v2.9h-1.9zM569.6 41.1h3.8v2.9h-3.8zM575.2 41.1h5.7v2.9h-5.7zM582.8 41.1h1.9v2.9h-1.9zM592.3 41.1h3.8v2.9h-3.8zM601.7 41.1h1.9v2.9h-1.9zM607.4 41.1h1.9v2.9h-1.9zM611.2 41.1h3.8v2.9h-3.8zM622.5 41.1h1.9v2.9h-1.9zM643.3 41.1h3.8v2.9h-3.8zM658.4 41.1h3.8v2.9h-3.8zM666.0 41.1h3.8v2.9h-3.8zM673.5 41.1h1.9v2.9h-1.9zM681.1 41.1h1.9v2.9h-1.9zM692.4 41.1h5.7v2.9h-5.7zM700.0 41.1h1.9v2.9h-1.9zM703.8 41.1h5.7v2.9h-5.7zM717.0 41.1h1.9v2.9h-1.9zM724.6 41.1h1.9v2.9h-1.9zM730.2 41.1h1.9v2.9h-1.9zM735.9 41.1h1.9v2.9h-1.9zM741.6 41.1h1.9v2.9h-1.9zM751.0 41.1h1.9v2.9h-1.9zM756.7 41.1h3.8v2.9h-3.8zM766.1 41.1h3.8v2.9h-3.8zM775.6 41.1h1.9v2.9h-1.9zM783.2 41.1h1.9v2.9h-1.9zM786.9 41.1h1.9v2.9h-1.9zM792.6 41.1h3.8v2.9h-3.8zM803.9 41.1h1.9v2.9h-1.9zM809.6 41.1h1.9v2.9h-1.9zM815.3 41.1h1.9v2.9h-1.9zM819.1 41.1h1.9v2.9h-1.9zM822.8 41.1h1.9v2.9h-1.9zM826.6 41.1h1.9v2.9h-1.9zM832.3 41.1h3.8v2.9h-3.8zM838.0 41.1h1.9v2.9h-1.9zM843.6 41.1h1.9v2.9h-1.9zM851.2 41.1h3.8v2.9h-3.8zM858.8 41.1h1.9v2.9h-1.9zM872.0 41.1h3.8v2.9h-3.8zM877.7 41.1h3.8v2.9h-3.8zM887.1 41.1h1.9v2.9h-1.9zM246.4 44.0h1.9v2.8h-1.9zM250.1 44.0h1.9v2.8h-1.9zM286.1 44.0h5.7v2.8h-5.7zM299.3 44.0h1.9v2.8h-1.9zM303.1 44.0h3.8v2.8h-3.8zM308.7 44.0h1.9v2.8h-1.9zM312.5 44.0h1.9v2.8h-1.9zM320.1 44.0h3.8v2.8h-3.8zM329.5 44.0h3.8v2.8h-3.8zM335.2 44.0h1.9v2.8h-1.9zM339.0 44.0h5.7v2.8h-5.7zM348.4 44.0h1.9v2.8h-1.9zM352.2 44.0h3.8v2.8h-3.8zM357.9 44.0h1.9v2.8h-1.9zM361.7 44.0h5.7v2.8h-5.7zM369.2 44.0h9.5v2.8h-9.5zM382.4 44.0h1.9v2.8h-1.9zM388.1 44.0h5.7v2.8h-5.7zM395.7 44.0h7.6v2.8h-7.6zM405.1 44.0h5.7v2.8h-5.7zM412.7 44.0h1.9v2.8h-1.9zM416.5 44.0h7.6v2.8h-7.6zM427.8 44.0h1.9v2.8h-1.9zM431.6 44.0h15.1v2.8h-15.1zM448.6 44.0h3.8v2.8h-3.8zM454.3 44.0h3.8v2.8h-3.8zM459.9 44.0h1.9v2.8h-1.9zM463.7 44.0h13.2v2.8h-13.2zM478.8 44.0h7.6v2.8h-7.6zM495.9 44.0h7.6v2.8h-7.6zM507.2 44.0h1.9v2.8h-1.9zM511.0 44.0h1.9v2.8h-1.9zM514.8 44.0h5.7v2.8h-5.7zM524.2 44.0h5.7v2.8h-5.7zM531.8 44.0h13.2v2.8h-13.2zM546.9 44.0h7.6v2.8h-7.6zM556.3 44.0h3.8v2.8h-3.8zM562.0 44.0h7.6v2.8h-7.6zM571.5 44.0h1.9v2.8h-1.9zM582.8 44.0h1.9v2.8h-1.9zM590.4 44.0h1.9v2.8h-1.9zM599.8 44.0h3.8v2.8h-3.8zM607.4 44.0h1.9v2.8h-1.9zM611.2 44.0h3.8v2.8h-3.8zM616.8 44.0h3.8v2.8h-3.8zM622.5 44.0h1.9v2.8h-1.9zM628.2 44.0h3.8v2.8h-3.8zM633.8 44.0h1.9v2.8h-1.9zM637.6 44.0h3.8v2.8h-3.8zM645.2 44.0h3.8v2.8h-3.8zM650.8 44.0h3.8v2.8h-3.8zM658.4 44.0h9.5v2.8h-9.5zM669.7 44.0h7.6v2.8h-7.6zM681.1 44.0h3.8v2.8h-3.8zM690.5 44.0h1.9v2.8h-1.9zM694.3 44.0h1.9v2.8h-1.9zM698.1 44.0h5.7v2.8h-5.7zM707.5 44.0h1.9v2.8h-1.9zM711.3 44.0h3.8v2.8h-3.8zM717.0 44.0h7.6v2.8h-7.6zM726.5 44.0h1.9v2.8h-1.9zM730.2 44.0h3.8v2.8h-3.8zM737.8 44.0h1.9v2.8h-1.9zM743.5 44.0h1.9v2.8h-1.9zM747.2 44.0h5.7v2.8h-5.7zM756.7 44.0h1.9v2.8h-1.9zM760.5 44.0h3.8v2.8h-3.8zM773.7 44.0h3.8v2.8h-3.8zM783.2 44.0h3.8v2.8h-3.8zM788.8 44.0h3.8v2.8h-3.8zM796.4 44.0h3.8v2.8h-3.8zM803.9 44.0h1.9v2.8h-1.9zM811.5 44.0h5.7v2.8h-5.7zM819.1 44.0h7.6v2.8h-7.6zM830.4 44.0h1.9v2.8h-1.9zM834.2 44.0h5.7v2.8h-5.7zM845.5 44.0h3.8v2.8h-3.8zM855.0 44.0h1.9v2.8h-1.9zM860.6 44.0h1.9v2.8h-1.9zM864.4 44.0h5.7v2.8h-5.7zM872.0 44.0h1.9v2.8h-1.9zM875.8 44.0h1.9v2.8h-1.9zM397.6 46.8h1.9v2.9h-1.9zM407.0 46.8h1.9v2.9h-1.9zM420.3 46.8h1.9v2.9h-1.9zM425.9 46.8h1.9v2.9h-1.9zM433.5 46.8h3.8v2.9h-3.8zM446.7 46.8h7.6v2.9h-7.6zM456.2 46.8h5.7v2.9h-5.7zM477.0 46.8h1.9v2.9h-1.9zM482.6 46.8h7.6v2.9h-7.6zM503.4 46.8h3.8v2.9h-3.8zM512.9 46.8h3.8v2.9h-3.8zM522.3 46.8h9.5v2.9h-9.5zM539.3 46.8h3.8v2.9h-3.8zM545.0 46.8h3.8v2.9h-3.8zM550.7 46.8h1.9v2.9h-1.9zM558.2 46.8h1.9v2.9h-1.9zM562.0 46.8h1.9v2.9h-1.9zM565.8 46.8h1.9v2.9h-1.9zM573.4 46.8h1.9v2.9h-1.9zM577.1 46.8h7.6v2.9h-7.6zM586.6 46.8h1.9v2.9h-1.9zM599.8 46.8h1.9v2.9h-1.9zM603.6 46.8h3.8v2.9h-3.8zM609.3 46.8h7.6v2.9h-7.6zM618.7 46.8h1.9v2.9h-1.9zM624.4 46.8h3.8v2.9h-3.8zM631.9 46.8h3.8v2.9h-3.8zM637.6 46.8h1.9v2.9h-1.9zM641.4 46.8h1.9v2.9h-1.9zM645.2 46.8h11.3v2.9h-11.3zM660.3 46.8h11.3v2.9h-11.3zM673.5 46.8h5.7v2.9h-5.7zM681.1 46.8h7.6v2.9h-7.6zM694.3 46.8h11.3v2.9h-11.3zM713.2 46.8h1.9v2.9h-1.9zM718.9 46.8h15.1v2.9h-15.1zM735.9 46.8h5.7v2.9h-5.7zM743.5 46.8h3.8v2.9h-3.8zM749.1 46.8h1.9v2.9h-1.9zM754.8 46.8h3.8v2.9h-3.8zM762.4 46.8h1.9v2.9h-1.9zM768.0 46.8h7.6v2.9h-7.6zM777.5 46.8h15.1v2.9h-15.1zM798.3 46.8h3.8v2.9h-3.8zM803.9 46.8h1.9v2.9h-1.9zM807.7 46.8h5.7v2.9h-5.7zM817.2 46.8h1.9v2.9h-1.9zM821.0 46.8h7.6v2.9h-7.6zM830.4 46.8h1.9v2.9h-1.9zM841.7 46.8h1.9v2.9h-1.9zM851.2 46.8h1.9v2.9h-1.9zM860.6 46.8h1.9v2.9h-1.9zM868.2 46.8h1.9v2.9h-1.9zM885.2 46.8h1.9v2.9h-1.9zM492.1 49.7h1.9v5.8h-1.9zM543.1 49.7h1.9v5.8h-1.9zM546.9 49.7h1.9v5.8h-1.9zM558.2 49.7h1.9v5.8h-1.9zM565.8 49.7h1.9v5.8h-1.9zM586.6 49.7h5.7v5.8h-5.7zM599.8 49.7h1.9v5.8h-1.9zM613.0 49.7h1.9v5.8h-1.9zM616.8 49.7h3.8v5.8h-3.8zM624.4 49.7h1.9v5.8h-1.9zM628.2 49.7h1.9v5.8h-1.9zM633.8 49.7h3.8v5.8h-3.8zM647.1 49.7h1.9v5.8h-1.9zM650.8 49.7h5.7v5.8h-5.7zM660.3 49.7h1.9v5.8h-1.9zM664.1 49.7h3.8v5.8h-3.8zM675.4 49.7h1.9v5.8h-1.9zM679.2 49.7h1.9v5.8h-1.9zM683.0 49.7h5.7v5.8h-5.7zM690.5 49.7h1.9v5.8h-1.9zM696.2 49.7h1.9v5.8h-1.9zM701.9 49.7h5.7v5.8h-5.7zM709.4 49.7h1.9v5.8h-1.9zM713.2 49.7h1.9v5.8h-1.9zM724.6 49.7h1.9v5.8h-1.9zM728.3 49.7h1.9v5.8h-1.9zM732.1 49.7h1.9v5.8h-1.9zM739.7 49.7h1.9v5.8h-1.9zM743.5 49.7h3.8v5.8h-3.8zM749.1 49.7h3.8v5.8h-3.8zM756.7 49.7h1.9v5.8h-1.9zM760.5 49.7h5.7v5.8h-5.7zM769.9 49.7h3.8v5.8h-3.8zM779.4 49.7h1.9v5.8h-1.9zM783.2 49.7h1.9v5.8h-1.9zM790.7 49.7h1.9v5.8h-1.9zM794.5 49.7h1.9v5.8h-1.9zM798.3 49.7h5.7v5.8h-5.7zM809.6 49.7h1.9v5.8h-1.9zM819.1 49.7h1.9v5.8h-1.9zM822.8 49.7h3.8v5.8h-3.8zM828.5 49.7h1.9v5.8h-1.9zM836.1 49.7h3.8v5.8h-3.8zM841.7 49.7h1.9v5.8h-1.9zM845.5 49.7h1.9v5.8h-1.9zM853.1 49.7h3.8v5.8h-3.8zM862.5 49.7h1.9v5.8h-1.9zM868.2 49.7h5.7v5.8h-5.7zM875.8 49.7h1.9v5.8h-1.9zM885.2 49.7h3.8v5.8h-3.8zM89.5 55.5h1.9v2.9h-1.9zM244.5 55.5h1.9v2.9h-1.9zM250.1 55.5h1.9v2.9h-1.9zM257.7 55.5h1.9v2.9h-1.9zM280.4 55.5h1.9v2.9h-1.9zM289.8 55.5h1.9v2.9h-1.9zM299.3 55.5h1.9v2.9h-1.9zM303.1 55.5h3.8v2.9h-3.8zM308.7 55.5h1.9v2.9h-1.9zM312.5 55.5h3.8v2.9h-3.8zM318.2 55.5h1.9v2.9h-1.9zM322.0 55.5h1.9v2.9h-1.9zM329.5 55.5h3.8v2.9h-3.8zM337.1 55.5h3.8v2.9h-3.8zM342.8 55.5h3.8v2.9h-3.8zM352.2 55.5h1.9v2.9h-1.9zM357.9 55.5h1.9v2.9h-1.9zM367.3 55.5h1.9v2.9h-1.9zM373.0 55.5h1.9v2.9h-1.9zM376.8 55.5h1.9v2.9h-1.9zM382.4 55.5h1.9v2.9h-1.9zM388.1 55.5h15.1v2.9h-15.1zM405.1 55.5h7.6v2.9h-7.6zM414.6 55.5h1.9v2.9h-1.9zM418.4 55.5h3.8v2.9h-3.8zM425.9 55.5h5.7v2.9h-5.7zM433.5 55.5h9.5v2.9h-9.5zM444.8 55.5h1.9v2.9h-1.9zM448.6 55.5h9.5v2.9h-9.5zM459.9 55.5h7.6v2.9h-7.6zM469.4 55.5h17.0v2.9h-17.0zM488.3 55.5h3.8v2.9h-3.8zM494.0 55.5h3.8v2.9h-3.8zM499.6 55.5h1.9v2.9h-1.9zM505.3 55.5h7.6v2.9h-7.6zM514.8 55.5h1.9v2.9h-1.9zM518.5 55.5h1.9v2.9h-1.9zM526.1 55.5h3.8v2.9h-3.8zM531.8 55.5h5.7v2.9h-5.7zM541.2 55.5h5.7v2.9h-5.7zM550.7 55.5h1.9v2.9h-1.9zM556.3 55.5h5.7v2.9h-5.7zM563.9 55.5h5.7v2.9h-5.7zM571.5 55.5h1.9v2.9h-1.9zM575.2 55.5h5.7v2.9h-5.7zM582.8 55.5h3.8v2.9h-3.8zM590.4 55.5h1.9v2.9h-1.9zM597.9 55.5h3.8v2.9h-3.8zM605.5 55.5h5.7v2.9h-5.7zM613.0 55.5h11.3v2.9h-11.3zM626.3 55.5h5.7v2.9h-5.7zM633.8 55.5h1.9v2.9h-1.9zM637.6 55.5h9.5v2.9h-9.5zM650.8 55.5h1.9v2.9h-1.9zM654.6 55.5h7.6v2.9h-7.6zM667.9 55.5h5.7v2.9h-5.7zM675.4 55.5h3.8v2.9h-3.8zM681.1 55.5h1.9v2.9h-1.9zM684.9 55.5h1.9v2.9h-1.9zM688.6 55.5h1.9v2.9h-1.9zM694.3 55.5h3.8v2.9h-3.8zM701.9 55.5h1.9v2.9h-1.9zM705.7 55.5h13.2v2.9h-13.2zM720.8 55.5h13.2v2.9h-13.2zM735.9 55.5h3.8v2.9h-3.8zM741.6 55.5h5.7v2.9h-5.7zM749.1 55.5h3.8v2.9h-3.8zM754.8 55.5h3.8v2.9h-3.8zM760.5 55.5h9.5v2.9h-9.5zM771.8 55.5h9.5v2.9h-9.5zM783.2 55.5h1.9v2.9h-1.9zM788.8 55.5h9.5v2.9h-9.5zM803.9 55.5h3.8v2.9h-3.8zM817.2 55.5h3.8v2.9h-3.8zM822.8 55.5h13.2v2.9h-13.2zM841.7 55.5h1.9v2.9h-1.9zM847.4 55.5h1.9v2.9h-1.9zM851.2 55.5h1.9v2.9h-1.9zM855.0 55.5h3.8v2.9h-3.8zM862.5 55.5h1.9v2.9h-1.9zM866.3 55.5h1.9v2.9h-1.9zM236.9 58.4h3.8v2.8h-3.8zM242.6 58.4h1.9v2.8h-1.9zM270.9 58.4h1.9v2.8h-1.9zM280.4 58.4h1.9v2.8h-1.9zM303.1 58.4h1.9v2.8h-1.9zM322.0 58.4h1.9v2.8h-1.9zM339.0 58.4h3.8v2.8h-3.8zM350.3 58.4h1.9v2.8h-1.9zM354.1 58.4h3.8v2.8h-3.8zM359.8 58.4h3.8v2.8h-3.8zM365.4 58.4h1.9v2.8h-1.9zM374.9 58.4h5.7v2.8h-5.7zM390.0 58.4h1.9v2.8h-1.9zM395.7 58.4h1.9v2.8h-1.9zM405.1 58.4h3.8v2.8h-3.8zM433.5 58.4h1.9v2.8h-1.9zM439.2 58.4h1.9v2.8h-1.9zM454.3 58.4h1.9v2.8h-1.9zM459.9 58.4h5.7v2.8h-5.7zM467.5 58.4h1.9v2.8h-1.9zM471.3 58.4h5.7v2.8h-5.7zM480.7 58.4h1.9v2.8h-1.9zM486.4 58.4h5.7v2.8h-5.7zM494.0 58.4h1.9v2.8h-1.9zM501.5 58.4h1.9v2.8h-1.9zM509.1 58.4h5.7v2.8h-5.7zM518.5 58.4h3.8v2.8h-3.8zM524.2 58.4h5.7v2.8h-5.7zM533.7 58.4h3.8v2.8h-3.8zM539.3 58.4h7.6v2.8h-7.6zM554.4 58.4h3.8v2.8h-3.8zM560.1 58.4h1.9v2.8h-1.9zM565.8 58.4h3.8v2.8h-3.8zM571.5 58.4h3.8v2.8h-3.8zM577.1 58.4h1.9v2.8h-1.9zM586.6 58.4h1.9v2.8h-1.9zM597.9 58.4h1.9v2.8h-1.9zM603.6 58.4h1.9v2.8h-1.9zM607.4 58.4h1.9v2.8h-1.9zM613.0 58.4h1.9v2.8h-1.9zM616.8 58.4h1.9v2.8h-1.9zM620.6 58.4h1.9v2.8h-1.9zM626.3 58.4h1.9v2.8h-1.9zM641.4 58.4h5.7v2.8h-5.7zM649.0 58.4h1.9v2.8h-1.9zM656.5 58.4h3.8v2.8h-3.8zM662.2 58.4h3.8v2.8h-3.8zM669.7 58.4h1.9v2.8h-1.9zM673.5 58.4h1.9v2.8h-1.9zM677.3 58.4h1.9v2.8h-1.9zM688.6 58.4h1.9v2.8h-1.9zM692.4 58.4h1.9v2.8h-1.9zM696.2 58.4h1.9v2.8h-1.9zM701.9 58.4h1.9v2.8h-1.9zM705.7 58.4h1.9v2.8h-1.9zM715.1 58.4h3.8v2.8h-3.8zM722.7 58.4h1.9v2.8h-1.9zM726.5 58.4h3.8v2.8h-3.8zM732.1 58.4h1.9v2.8h-1.9zM737.8 58.4h1.9v2.8h-1.9zM741.6 58.4h1.9v2.8h-1.9zM747.2 58.4h1.9v2.8h-1.9zM754.8 58.4h1.9v2.8h-1.9zM762.4 58.4h1.9v2.8h-1.9zM766.1 58.4h1.9v2.8h-1.9zM769.9 58.4h3.8v2.8h-3.8zM775.6 58.4h3.8v2.8h-3.8zM785.0 58.4h1.9v2.8h-1.9zM796.4 58.4h3.8v2.8h-3.8zM803.9 58.4h7.6v2.8h-7.6zM813.4 58.4h1.9v2.8h-1.9zM821.0 58.4h1.9v2.8h-1.9zM828.5 58.4h3.8v2.8h-3.8zM834.2 58.4h1.9v2.8h-1.9zM838.0 58.4h1.9v2.8h-1.9zM849.3 58.4h1.9v2.8h-1.9zM853.1 58.4h1.9v2.8h-1.9zM858.8 58.4h1.9v2.8h-1.9zM866.3 58.4h1.9v2.8h-1.9zM872.0 58.4h1.9v2.8h-1.9zM877.7 58.4h1.9v2.8h-1.9zM410.8 61.2h1.9v2.9h-1.9zM454.3 61.2h1.9v2.9h-1.9zM463.7 61.2h9.5v2.9h-9.5zM482.6 61.2h1.9v2.9h-1.9zM507.2 61.2h5.7v2.9h-5.7zM520.4 61.2h1.9v2.9h-1.9zM533.7 61.2h3.8v2.9h-3.8zM548.8 61.2h1.9v2.9h-1.9zM558.2 61.2h1.9v2.9h-1.9zM571.5 61.2h1.9v2.9h-1.9zM575.2 61.2h1.9v2.9h-1.9zM584.7 61.2h1.9v2.9h-1.9zM597.9 61.2h1.9v2.9h-1.9zM601.7 61.2h1.9v2.9h-1.9zM620.6 61.2h1.9v2.9h-1.9zM626.3 61.2h3.8v2.9h-3.8zM643.3 61.2h3.8v2.9h-3.8zM656.5 61.2h1.9v2.9h-1.9zM662.2 61.2h3.8v2.9h-3.8zM669.7 61.2h1.9v2.9h-1.9zM677.3 61.2h1.9v2.9h-1.9zM684.9 61.2h1.9v2.9h-1.9zM692.4 61.2h1.9v2.9h-1.9zM696.2 61.2h1.9v2.9h-1.9zM700.0 61.2h1.9v2.9h-1.9zM705.7 61.2h1.9v2.9h-1.9zM711.3 61.2h7.6v2.9h-7.6zM726.5 61.2h1.9v2.9h-1.9zM730.2 61.2h1.9v2.9h-1.9zM734.0 61.2h5.7v2.9h-5.7zM751.0 61.2h1.9v2.9h-1.9zM754.8 61.2h3.8v2.9h-3.8zM762.4 61.2h1.9v2.9h-1.9zM766.1 61.2h3.8v2.9h-3.8zM771.8 61.2h1.9v2.9h-1.9zM779.4 61.2h1.9v2.9h-1.9zM785.0 61.2h1.9v2.9h-1.9zM794.5 61.2h1.9v2.9h-1.9zM803.9 61.2h3.8v2.9h-3.8zM817.2 61.2h1.9v2.9h-1.9zM822.8 61.2h1.9v2.9h-1.9zM826.6 61.2h1.9v2.9h-1.9zM830.4 61.2h5.7v2.9h-5.7zM843.6 61.2h1.9v2.9h-1.9zM847.4 61.2h1.9v2.9h-1.9zM851.2 61.2h3.8v2.9h-3.8zM858.8 61.2h3.8v2.9h-3.8zM875.8 61.2h1.9v2.9h-1.9zM881.4 61.2h3.8v2.9h-3.8zM887.1 61.2h1.9v2.9h-1.9zM520.4 64.1h1.9v2.9h-1.9zM577.1 64.1h1.9v2.9h-1.9zM717.0 64.1h1.9v2.9h-1.9zM800.2 64.1h1.9v2.9h-1.9zM817.2 64.1h1.9v2.9h-1.9zM826.6 64.1h1.9v2.9h-1.9zM834.2 64.1h1.9v2.9h-1.9zM843.6 64.1h1.9v2.9h-1.9zM858.8 64.1h1.9v2.9h-1.9zM866.3 64.1h3.8v2.9h-3.8zM881.4 64.1h1.9v2.9h-1.9zM552.6 67.0h1.9v2.9h-1.9zM817.2 67.0h1.9v2.9h-1.9zM851.2 67.0h1.9v2.9h-1.9zM858.8 67.0h1.9v2.9h-1.9zM864.4 67.0h1.9v2.9h-1.9zM868.2 67.0h1.9v2.9h-1.9z"/>
<path fill="#c0d7d7" d="M102.7 23.8h1.9v2.9h-1.9zM210.4 23.8h1.9v2.9h-1.9zM236.9 26.7h1.9v2.9h-1.9zM246.4 26.7h1.9v2.9h-1.9zM253.9 26.7h1.9v2.9h-1.9zM303.1 26.7h1.9v2.9h-1.9zM395.7 26.7h1.9v2.9h-1.9zM403.2 26.7h1.9v2.9h-1.9zM484.5 26.7h1.9v2.9h-1.9zM488.3 26.7h1.9v2.9h-1.9zM528.0 26.7h1.9v2.9h-1.9zM626.3 26.7h1.9v2.9h-1.9zM662.2 26.7h3.8v2.9h-3.8zM752.9 26.7h1.9v2.9h-1.9zM773.7 26.7h1.9v2.9h-1.9zM811.5 26.7h1.9v2.9h-1.9zM843.6 26.7h1.9v2.9h-1.9zM847.4 26.7h1.9v2.9h-1.9zM870.1 26.7h3.8v2.9h-3.8zM883.3 26.7h1.9v2.9h-1.9zM885.2 29.6h1.9v2.8h-1.9zM883.3 35.3h1.9v2.9h-1.9zM531.8 41.1h1.9v2.9h-1.9zM193.4 44.0h1.9v2.8h-1.9zM223.7 44.0h3.8v2.8h-3.8zM240.7 44.0h1.9v2.8h-1.9zM255.8 44.0h1.9v2.8h-1.9zM265.3 44.0h3.8v2.8h-3.8zM278.5 44.0h1.9v2.8h-1.9zM293.6 44.0h1.9v2.8h-1.9zM306.8 44.0h1.9v2.8h-1.9zM380.6 44.0h1.9v2.8h-1.9zM312.5 46.8h1.9v2.9h-1.9zM316.3 46.8h5.7v2.9h-5.7zM331.4 46.8h5.7v2.9h-5.7zM344.6 46.8h1.9v2.9h-1.9zM348.4 46.8h1.9v2.9h-1.9zM354.1 46.8h3.8v2.9h-3.8zM359.8 46.8h3.8v2.9h-3.8zM365.4 46.8h1.9v2.9h-1.9zM369.2 46.8h1.9v2.9h-1.9zM376.8 46.8h1.9v2.9h-1.9zM382.4 46.8h1.9v2.9h-1.9zM386.2 46.8h1.9v2.9h-1.9zM395.7 46.8h1.9v2.9h-1.9zM414.6 46.8h1.9v2.9h-1.9zM480.7 46.8h1.9v2.9h-1.9zM518.5 46.8h3.8v2.9h-3.8zM393.8 49.7h1.9v5.8h-1.9zM397.6 49.7h1.9v5.8h-1.9zM416.5 49.7h1.9v5.8h-1.9zM420.3 49.7h1.9v5.8h-1.9zM425.9 49.7h1.9v5.8h-1.9zM429.7 49.7h3.8v5.8h-3.8zM435.4 49.7h7.6v5.8h-7.6zM444.8 49.7h3.8v5.8h-3.8zM450.5 49.7h3.8v5.8h-3.8zM459.9 49.7h15.1v5.8h-15.1zM478.8 49.7h7.6v5.8h-7.6zM488.3 49.7h3.8v5.8h-3.8zM494.0 49.7h1.9v5.8h-1.9zM499.6 49.7h1.9v5.8h-1.9zM505.3 49.7h1.9v5.8h-1.9zM509.1 49.7h1.9v5.8h-1.9zM514.8 49.7h3.8v5.8h-3.8zM524.2 49.7h1.9v5.8h-1.9zM535.5 49.7h1.9v5.8h-1.9zM541.2 49.7h1.9v5.8h-1.9zM548.8 49.7h1.9v5.8h-1.9zM552.6 49.7h1.9v5.8h-1.9zM560.1 49.7h1.9v5.8h-1.9zM567.7 49.7h1.9v5.8h-1.9zM577.1 49.7h1.9v5.8h-1.9zM580.9 49.7h1.9v5.8h-1.9zM596.0 49.7h1.9v5.8h-1.9zM611.2 49.7h1.9v5.8h-1.9zM620.6 49.7h1.9v5.8h-1.9zM645.2 49.7h1.9v5.8h-1.9zM677.3 49.7h1.9v5.8h-1.9zM700.0 49.7h1.9v5.8h-1.9zM830.4 49.7h1.9v5.8h-1.9zM851.2 49.7h1.9v5.8h-1.9zM856.9 49.7h3.8v5.8h-3.8zM866.3 49.7h1.9v5.8h-1.9zM873.9 49.7h1.9v5.8h-1.9zM877.7 49.7h1.9v5.8h-1.9zM883.3 49.7h1.9v5.8h-1.9zM150.0 55.5h1.9v2.9h-1.9zM176.4 55.5h1.9v2.9h-1.9zM193.4 55.5h1.9v2.9h-1.9zM204.8 55.5h1.9v2.9h-1.9zM240.7 55.5h1.9v2.9h-1.9zM248.3 55.5h1.9v2.9h-1.9zM253.9 55.5h3.8v2.9h-3.8zM259.6 55.5h9.5v2.9h-9.5zM276.6 55.5h1.9v2.9h-1.9zM284.2 55.5h1.9v2.9h-1.9zM291.7 55.5h3.8v2.9h-3.8zM301.2 55.5h1.9v2.9h-1.9zM316.3 55.5h1.9v2.9h-1.9zM361.7 55.5h1.9v2.9h-1.9zM384.3 55.5h3.8v2.9h-3.8zM783.2 58.4h1.9v2.8h-1.9zM851.2 58.4h1.9v2.8h-1.9zM875.8 58.4h1.9v2.8h-1.9zM883.3 58.4h1.9v2.8h-1.9zM873.9 61.2h1.9v2.9h-1.9z"/>
<path fill="#bdd5d5" d="M216.1 26.7h1.9v2.9h-1.9zM291.7 26.7h1.9v2.9h-1.9zM575.2 26.7h1.9v2.9h-1.9zM669.7 26.7h1.9v2.9h-1.9zM76.3 41.1h3.8v2.9h-3.8zM142.4 41.1h1.9v2.9h-1.9zM78.1 44.0h3.8v2.8h-3.8zM97.0 44.0h1.9v2.8h-1.9zM129.2 44.0h1.9v2.8h-1.9zM161.3 44.0h1.9v2.8h-1.9zM221.8 44.0h1.9v2.8h-1.9zM238.8 44.0h1.9v2.8h-1.9zM295.5 44.0h1.9v2.8h-1.9zM327.6 44.0h1.9v2.8h-1.9zM592.3 44.0h1.9v2.8h-1.9zM278.5 46.8h1.9v2.9h-1.9zM286.1 46.8h1.9v2.9h-1.9zM289.8 46.8h1.9v2.9h-1.9zM299.3 46.8h1.9v2.9h-1.9zM303.1 46.8h7.6v2.9h-7.6zM314.4 46.8h1.9v2.9h-1.9zM322.0 46.8h3.8v2.9h-3.8zM329.5 46.8h1.9v2.9h-1.9zM337.1 46.8h5.7v2.9h-5.7zM346.5 46.8h1.9v2.9h-1.9zM350.3 46.8h1.9v2.9h-1.9zM363.5 46.8h1.9v2.9h-1.9zM384.3 46.8h1.9v2.9h-1.9zM887.1 46.8h1.9v2.9h-1.9zM357.9 49.7h1.9v5.8h-1.9zM376.8 49.7h1.9v5.8h-1.9zM391.9 49.7h1.9v5.8h-1.9zM399.5 49.7h1.9v5.8h-1.9zM403.2 49.7h9.5v5.8h-9.5zM414.6 49.7h1.9v5.8h-1.9zM418.4 49.7h1.9v5.8h-1.9zM422.1 49.7h1.9v5.8h-1.9zM427.8 49.7h1.9v5.8h-1.9zM448.6 49.7h1.9v5.8h-1.9zM511.0 49.7h1.9v5.8h-1.9zM813.4 49.7h1.9v5.8h-1.9zM881.4 49.7h1.9v5.8h-1.9zM74.4 55.5h1.9v2.9h-1.9zM121.6 55.5h3.8v2.9h-3.8zM151.9 55.5h1.9v2.9h-1.9zM210.4 55.5h5.7v2.9h-5.7zM219.9 55.5h1.9v2.9h-1.9zM223.7 55.5h1.9v2.9h-1.9zM238.8 55.5h1.9v2.9h-1.9zM242.6 55.5h1.9v2.9h-1.9zM380.6 55.5h1.9v2.9h-1.9zM887.1 55.5h1.9v2.9h-1.9z"/>
<path fill="#b9d2d2" d="M201.0 23.8h1.9v2.9h-1.9zM93.3 41.1h1.9v2.9h-1.9zM104.6 44.0h1.9v2.8h-1.9zM180.2 44.0h1.9v2.8h-1.9zM191.5 44.0h1.9v2.8h-1.9zM202.9 44.0h3.8v2.8h-3.8zM212.3 44.0h5.7v2.8h-5.7zM227.5 44.0h1.9v2.8h-1.9zM253.9 46.8h1.9v2.9h-1.9zM259.6 46.8h1.9v2.9h-1.9zM263.4 46.8h1.9v2.9h-1.9zM270.9 46.8h7.6v2.9h-7.6zM280.4 46.8h1.9v2.9h-1.9zM287.9 46.8h1.9v2.9h-1.9zM291.7 46.8h1.9v2.9h-1.9zM301.2 46.8h1.9v2.9h-1.9zM378.7 46.8h1.9v2.9h-1.9zM333.3 49.7h1.9v5.8h-1.9zM342.8 49.7h1.9v5.8h-1.9zM352.2 49.7h1.9v5.8h-1.9zM356.0 49.7h1.9v5.8h-1.9zM359.8 49.7h1.9v5.8h-1.9zM363.5 49.7h13.2v5.8h-13.2zM382.4 49.7h9.5v5.8h-9.5zM395.7 49.7h1.9v5.8h-1.9zM401.4 49.7h1.9v5.8h-1.9zM412.7 49.7h1.9v5.8h-1.9zM424.0 49.7h1.9v5.8h-1.9zM72.5 55.5h1.9v2.9h-1.9zM95.2 55.5h1.9v2.9h-1.9zM140.5 55.5h1.9v2.9h-1.9zM144.3 55.5h1.9v2.9h-1.9zM168.9 55.5h1.9v2.9h-1.9zM182.1 55.5h1.9v2.9h-1.9zM216.1 55.5h1.9v2.9h-1.9zM221.8 55.5h1.9v2.9h-1.9zM227.5 55.5h1.9v2.9h-1.9zM235.0 55.5h1.9v2.9h-1.9zM295.5 55.5h1.9v2.9h-1.9zM327.6 55.5h1.9v2.9h-1.9zM887.1 58.4h1.9v2.8h-1.9z"/>
<path fill="#b7d1d1" d="M885.2 26.7h1.9v2.9h-1.9zM89.5 41.1h1.9v2.9h-1.9zM81.9 44.0h1.9v2.8h-1.9zM89.5 44.0h1.9v2.8h-1.9zM110.3 44.0h1.9v2.8h-1.9zM114.1 44.0h1.9v2.8h-1.9zM144.3 44.0h1.9v2.8h-1.9zM206.7 44.0h5.7v2.8h-5.7zM218.0 44.0h3.8v2.8h-3.8zM229.3 44.0h1.9v2.8h-1.9zM235.0 44.0h1.9v2.8h-1.9zM240.7 46.8h1.9v2.9h-1.9zM244.5 46.8h1.9v2.9h-1.9zM250.1 46.8h3.8v2.9h-3.8zM255.8 46.8h3.8v2.9h-3.8zM261.5 46.8h1.9v2.9h-1.9zM265.3 46.8h3.8v2.9h-3.8zM297.4 46.8h1.9v2.9h-1.9zM115.9 49.7h1.9v5.8h-1.9zM312.5 49.7h1.9v5.8h-1.9zM322.0 49.7h1.9v5.8h-1.9zM335.2 49.7h5.7v5.8h-5.7zM344.6 49.7h7.6v5.8h-7.6zM354.1 49.7h1.9v5.8h-1.9zM361.7 49.7h1.9v5.8h-1.9zM100.8 55.5h1.9v2.9h-1.9zM131.1 55.5h1.9v2.9h-1.9zM134.8 55.5h1.9v2.9h-1.9zM138.6 55.5h1.9v2.9h-1.9zM206.7 55.5h3.8v2.9h-3.8zM218.0 55.5h1.9v2.9h-1.9zM225.6 55.5h1.9v2.9h-1.9zM229.3 55.5h1.9v2.9h-1.9zM325.7 55.5h1.9v2.9h-1.9z"/>
<path fill="#b2cece" d="M83.8 41.1h3.8v2.9h-3.8zM131.1 44.0h1.9v2.8h-1.9zM142.4 44.0h1.9v2.8h-1.9zM151.9 44.0h1.9v2.8h-1.9zM201.0 44.0h1.9v2.8h-1.9zM325.7 44.0h1.9v2.8h-1.9zM594.1 44.0h1.9v2.8h-1.9zM236.9 46.8h1.9v2.9h-1.9zM246.4 46.8h3.8v2.9h-3.8zM269.0 46.8h1.9v2.9h-1.9zM282.3 46.8h1.9v2.9h-1.9zM308.7 49.7h3.8v5.8h-3.8zM314.4 49.7h3.8v5.8h-3.8zM320.1 49.7h1.9v5.8h-1.9zM331.4 49.7h1.9v5.8h-1.9zM340.9 49.7h1.9v5.8h-1.9zM76.3 55.5h1.9v2.9h-1.9zM117.8 55.5h1.9v2.9h-1.9zM172.6 55.5h1.9v2.9h-1.9zM187.8 55.5h1.9v2.9h-1.9zM201.0 55.5h3.8v2.9h-3.8zM172.6 58.4h1.9v2.8h-1.9z"/>
<path fill="#b0cccc" d="M93.3 44.0h1.9v2.8h-1.9zM119.7 44.0h1.9v2.8h-1.9zM123.5 44.0h1.9v2.8h-1.9zM133.0 44.0h1.9v2.8h-1.9zM136.7 44.0h1.9v2.8h-1.9zM176.4 44.0h1.9v2.8h-1.9zM233.1 44.0h1.9v2.8h-1.9zM121.6 46.8h1.9v2.9h-1.9zM167.0 46.8h1.9v2.9h-1.9zM238.8 46.8h1.9v2.9h-1.9zM242.6 46.8h1.9v2.9h-1.9zM284.2 46.8h1.9v2.9h-1.9zM303.1 49.7h5.7v5.8h-5.7zM318.2 49.7h1.9v5.8h-1.9zM329.5 49.7h1.9v5.8h-1.9zM87.6 55.5h1.9v2.9h-1.9zM102.7 55.5h1.9v2.9h-1.9z"/>
<path fill="#accaca" d="M102.7 44.0h1.9v2.8h-1.9zM121.6 44.0h1.9v2.8h-1.9zM159.4 44.0h1.9v2.8h-1.9zM172.6 46.8h1.9v2.9h-1.9zM293.6 46.8h1.9v2.9h-1.9zM592.3 46.8h1.9v2.9h-1.9zM272.8 49.7h1.9v5.8h-1.9zM276.6 49.7h1.9v5.8h-1.9zM289.8 49.7h3.8v5.8h-3.8zM299.3 49.7h3.8v5.8h-3.8zM98.9 55.5h1.9v2.9h-1.9zM127.3 55.5h1.9v2.9h-1.9zM140.5 58.4h1.9v2.8h-1.9z"/>
<path fill="#a7c7c7" d="M83.8 26.7h1.9v2.9h-1.9zM100.8 41.1h1.9v2.9h-1.9zM72.5 44.0h1.9v2.8h-1.9zM380.6 46.8h1.9v2.9h-1.9zM274.7 49.7h1.9v5.8h-1.9zM278.5 49.7h3.8v5.8h-3.8zM286.1 49.7h3.8v5.8h-3.8zM323.9 49.7h1.9v5.8h-1.9zM378.7 49.7h1.9v5.8h-1.9zM91.4 55.5h1.9v2.9h-1.9zM233.1 55.5h1.9v2.9h-1.9z"/>
<path fill="#a5c5c5" d="M119.7 23.8h1.9v2.9h-1.9zM127.3 23.8h1.9v2.9h-1.9zM87.6 44.0h1.9v2.8h-1.9zM112.2 44.0h1.9v2.8h-1.9zM150.0 44.0h1.9v2.8h-1.9zM168.9 44.0h1.9v2.8h-1.9zM257.7 49.7h1.9v5.8h-1.9zM261.5 49.7h3.8v5.8h-3.8zM269.0 49.7h3.8v5.8h-3.8zM282.3 49.7h1.9v5.8h-1.9zM297.4 49.7h1.9v5.8h-1.9zM148.1 55.5h1.9v2.9h-1.9zM159.4 55.5h1.9v2.9h-1.9zM178.3 55.5h3.8v2.9h-3.8zM592.3 55.5h1.9v2.9h-1.9z"/>
<path fill="#a3c1c3" d="M197.2 41.1h1.9v2.9h-1.9zM98.9 44.0h1.9v2.8h-1.9zM125.4 44.0h1.9v2.8h-1.9zM231.2 44.0h1.9v2.8h-1.9zM115.9 46.8h1.9v2.9h-1.9zM119.7 46.8h1.9v2.9h-1.9zM252.0 49.7h5.7v5.8h-5.7zM259.6 49.7h1.9v5.8h-1.9zM161.3 55.5h1.9v2.9h-1.9zM167.0 55.5h1.9v2.9h-1.9zM231.2 55.5h1.9v2.9h-1.9z"/>
<path fill="#a1bfc1" d="M68.7 23.8h1.9v2.9h-1.9zM95.2 44.0h1.9v2.8h-1.9zM148.1 44.0h1.9v2.8h-1.9zM167.0 44.0h1.9v2.8h-1.9zM212.3 46.8h1.9v2.9h-1.9zM295.5 46.8h1.9v2.9h-1.9zM244.5 49.7h7.6v5.8h-7.6zM265.3 49.7h1.9v5.8h-1.9zM85.7 55.5h1.9v2.9h-1.9zM104.6 55.5h1.9v2.9h-1.9zM108.4 55.5h1.9v2.9h-1.9z"/>
<path fill="#9ebbbe" d="M76.3 44.0h1.9v2.8h-1.9zM127.3 44.0h1.9v2.8h-1.9zM138.6 44.0h1.9v2.8h-1.9zM170.8 44.0h1.9v2.8h-1.9zM184.0 44.0h1.9v2.8h-1.9zM176.4 46.8h1.9v2.9h-1.9zM204.8 46.8h1.9v2.9h-1.9zM210.4 46.8h1.9v2.9h-1.9zM214.2 46.8h3.8v2.9h-3.8zM223.7 46.8h3.8v2.9h-3.8zM229.3 46.8h1.9v2.9h-1.9zM235.0 46.8h1.9v2.9h-1.9zM594.1 46.8h1.9v2.9h-1.9zM236.9 49.7h7.6v5.8h-7.6zM267.2 49.7h1.9v5.8h-1.9zM115.9 55.5h1.9v2.9h-1.9zM119.7 55.5h1.9v2.9h-1.9zM129.2 55.5h1.9v2.9h-1.9zM157.5 55.5h1.9v2.9h-1.9zM165.1 55.5h1.9v2.9h-1.9zM170.8 55.5h1.9v2.9h-1.9zM100.8 58.4h1.9v2.8h-1.9zM121.6 58.4h1.9v2.8h-1.9z"/>
<path fill="#9db9bc" d="M106.5 44.0h1.9v2.8h-1.9zM134.8 44.0h1.9v2.8h-1.9zM140.5 44.0h1.9v2.8h-1.9zM155.6 44.0h1.9v2.8h-1.9zM185.9 44.0h1.9v2.8h-1.9zM202.9 46.8h1.9v2.9h-1.9zM208.6 46.8h1.9v2.9h-1.9zM219.9 46.8h3.8v2.9h-3.8zM93.3 55.5h1.9v2.9h-1.9zM125.4 55.5h1.9v2.9h-1.9zM155.6 55.5h1.9v2.9h-1.9z"/>
<path fill="#9ab5ba" d="M157.5 44.0h1.9v2.8h-1.9zM163.2 44.0h1.9v2.8h-1.9zM174.5 44.0h1.9v2.8h-1.9zM182.1 44.0h1.9v2.8h-1.9zM185.9 46.8h1.9v2.9h-1.9zM218.0 46.8h1.9v2.9h-1.9zM227.5 46.8h1.9v2.9h-1.9zM327.6 46.8h1.9v2.9h-1.9zM592.3 49.7h1.9v5.8h-1.9zM191.5 55.5h1.9v2.9h-1.9z"/>
<path fill="#98b3b8" d="M68.7 44.0h1.9v2.8h-1.9zM146.2 44.0h1.9v2.8h-1.9zM206.7 46.8h1.9v2.9h-1.9zM110.3 55.5h1.9v2.9h-1.9z"/>
<path fill="#96afb5" d="M172.6 44.0h1.9v2.8h-1.9zM293.6 49.7h1.9v5.8h-1.9z"/>
<path fill="#93acb3" d="M93.3 23.8h1.9v2.9h-1.9zM100.8 44.0h1.9v2.8h-1.9zM165.1 44.0h1.9v2.8h-1.9zM178.3 44.0h1.9v2.8h-1.9zM189.7 44.0h1.9v2.8h-1.9zM85.7 46.8h1.9v2.9h-1.9zM168.9 46.8h1.9v2.9h-1.9zM325.7 46.8h1.9v2.9h-1.9zM284.2 49.7h1.9v5.8h-1.9zM163.2 55.5h1.9v2.9h-1.9z"/>
<path fill="#91a9b1" d="M74.4 41.1h1.9v2.9h-1.9zM117.8 44.0h1.9v2.8h-1.9zM153.7 44.0h1.9v2.8h-1.9zM100.8 49.7h1.9v5.8h-1.9zM66.8 55.5h1.9v2.9h-1.9zM189.7 55.5h1.9v2.9h-1.9zM594.1 55.5h1.9v2.9h-1.9z"/>
<path fill="#8fa6ae" d="M187.8 44.0h1.9v2.8h-1.9zM146.2 46.8h1.9v2.9h-1.9zM201.0 46.8h1.9v2.9h-1.9zM380.6 49.7h1.9v5.8h-1.9zM199.1 55.5h1.9v2.9h-1.9z"/>
<path fill="#8da3ad" d="M83.8 44.0h1.9v2.8h-1.9zM151.9 46.8h1.9v2.9h-1.9zM180.2 46.8h1.9v2.9h-1.9zM133.0 55.5h1.9v2.9h-1.9zM153.7 55.5h1.9v2.9h-1.9zM174.5 55.5h1.9v2.9h-1.9z"/>
<path fill="#8aa0aa" d="M95.2 46.8h1.9v2.9h-1.9zM155.6 46.8h1.9v2.9h-1.9zM104.6 49.7h1.9v5.8h-1.9zM123.5 49.7h1.9v5.8h-1.9zM112.2 55.5h1.9v2.9h-1.9zM195.3 55.5h1.9v2.9h-1.9zM150.0 58.4h1.9v2.8h-1.9z"/>
<path fill="#889da8" d="M68.7 55.5h1.9v2.9h-1.9zM185.9 55.5h1.9v2.9h-1.9z"/>
<path fill="#869aa6" d="M195.3 44.0h1.9v2.8h-1.9zM131.1 46.8h1.9v2.9h-1.9zM146.2 55.5h1.9v2.9h-1.9z"/>
<path fill="#8497a4" d="M108.4 44.0h1.9v2.8h-1.9zM108.4 46.8h1.9v2.9h-1.9zM125.4 46.8h1.9v2.9h-1.9zM594.1 49.7h1.9v5.8h-1.9z"/>
<path fill="#8294a1" d="M98.9 46.8h1.9v2.9h-1.9zM133.0 46.8h1.9v2.9h-1.9zM163.2 46.8h1.9v2.9h-1.9zM66.8 49.7h1.9v5.8h-1.9zM102.7 49.7h1.9v5.8h-1.9zM184.0 55.5h1.9v2.9h-1.9z"/>
<path fill="#7f909f" d="M66.8 23.8h1.9v2.9h-1.9zM185.9 49.7h1.9v5.8h-1.9zM295.5 49.7h1.9v5.8h-1.9z"/>
<path fill="#7d8d9d" d="M81.9 46.8h1.9v2.9h-1.9z"/>
<path fill="#7a8a9a" d="M72.5 46.8h1.9v2.9h-1.9zM138.6 46.8h1.9v2.9h-1.9zM204.8 49.7h1.9v5.8h-1.9zM210.4 49.7h1.9v5.8h-1.9zM221.8 49.7h3.8v5.8h-3.8z"/>
<path fill="#798799" d="M87.6 46.8h1.9v2.9h-1.9zM112.2 46.8h1.9v2.9h-1.9zM233.1 46.8h1.9v2.9h-1.9zM206.7 49.7h3.8v5.8h-3.8zM212.3 49.7h1.9v5.8h-1.9zM216.1 49.7h1.9v5.8h-1.9zM219.9 49.7h1.9v5.8h-1.9zM225.6 49.7h1.9v5.8h-1.9zM229.3 49.7h1.9v5.8h-1.9z"/>
<path fill="#768496" d="M78.1 46.8h1.9v2.9h-1.9zM104.6 46.8h1.9v2.9h-1.9zM140.5 46.8h1.9v2.9h-1.9zM127.3 49.7h1.9v5.8h-1.9zM202.9 49.7h1.9v5.8h-1.9zM214.2 49.7h1.9v5.8h-1.9zM218.0 49.7h1.9v5.8h-1.9zM235.0 49.7h1.9v5.8h-1.9z"/>
<path fill="#748194" d="M70.6 46.8h1.9v2.9h-1.9zM191.5 46.8h1.9v2.9h-1.9zM97.0 49.7h1.9v5.8h-1.9zM227.5 49.7h1.9v5.8h-1.9z"/>
<path fill="#727e92" d="M91.4 23.8h1.9v2.9h-1.9zM193.4 46.8h1.9v2.9h-1.9z"/>
<path fill="#6f7a8f" d="M80.0 23.8h1.9v2.9h-1.9zM97.0 46.8h1.9v2.9h-1.9zM123.5 46.8h1.9v2.9h-1.9zM327.6 49.7h1.9v5.8h-1.9zM197.2 55.5h1.9v2.9h-1.9zM68.7 58.4h1.9v2.8h-1.9z"/>
<path fill="#6d788d" d="M80.0 46.8h1.9v2.9h-1.9zM127.3 46.8h1.9v2.9h-1.9zM148.1 46.8h1.9v2.9h-1.9zM161.3 46.8h1.9v2.9h-1.9zM165.1 46.8h1.9v2.9h-1.9zM108.4 49.7h1.9v5.8h-1.9z"/>
<path fill="#6b748b" d="M114.1 46.8h1.9v2.9h-1.9zM184.0 46.8h1.9v2.9h-1.9zM231.2 46.8h1.9v2.9h-1.9z"/>
<path fill="#697289" d="M136.7 46.8h1.9v2.9h-1.9zM129.2 49.7h1.9v5.8h-1.9z"/>
<path fill="#666e86" d="M93.3 46.8h1.9v2.9h-1.9zM134.8 46.8h1.9v2.9h-1.9zM150.0 46.8h1.9v2.9h-1.9zM159.4 46.8h1.9v2.9h-1.9z"/>
<path fill="#656c84" d="M178.3 49.7h1.9v5.8h-1.9z"/>
<path fill="#626882" d="M144.3 46.8h1.9v2.9h-1.9zM153.7 46.8h1.9v2.9h-1.9zM170.8 46.8h1.9v2.9h-1.9zM133.0 49.7h1.9v5.8h-1.9zM325.7 49.7h1.9v5.8h-1.9z"/>
<path fill="#606680" d="M110.3 46.8h1.9v2.9h-1.9zM76.3 49.7h1.9v5.8h-1.9zM157.5 49.7h1.9v5.8h-1.9zM182.1 49.7h1.9v5.8h-1.9z"/>
<path fill="#5e627d" d="M117.8 46.8h1.9v2.9h-1.9z"/>
<path fill="#5b5f7b" d="M138.6 49.7h1.9v5.8h-1.9z"/>
<path fill="#595c79" d="M91.4 46.8h1.9v2.9h-1.9zM178.3 46.8h1.9v2.9h-1.9zM182.1 46.8h1.9v2.9h-1.9zM91.4 49.7h1.9v5.8h-1.9zM189.7 49.7h1.9v5.8h-1.9z"/>
<path fill="#575976" d="M89.5 46.8h1.9v2.9h-1.9zM142.4 46.8h1.9v2.9h-1.9zM174.5 46.8h1.9v2.9h-1.9zM125.4 49.7h1.9v5.8h-1.9zM168.9 49.7h1.9v5.8h-1.9z"/>
<path fill="#555675" d="M102.7 46.8h1.9v2.9h-1.9z"/>
<path fill="#525372" d="M106.5 46.8h1.9v2.9h-1.9zM157.5 46.8h1.9v2.9h-1.9z"/>
<path fill="#505070" d="M72.5 49.7h1.9v5.8h-1.9zM117.8 49.7h1.9v5.8h-1.9zM172.6 49.7h1.9v5.8h-1.9z"/>
<path fill="#4e4e6c" d="M100.8 46.8h1.9v2.9h-1.9zM187.8 46.8h1.9v2.9h-1.9z"/>
<path fill="#4c4c6a" d="M74.4 46.8h1.9v2.9h-1.9zM114.1 49.7h1.9v5.8h-1.9zM140.5 49.7h1.9v5.8h-1.9zM165.1 49.7h1.9v5.8h-1.9zM201.0 49.7h1.9v5.8h-1.9z"/>
<path fill="#494966" d="M184.0 49.7h1.9v5.8h-1.9z"/>
<path fill="#474763" d="M106.5 49.7h1.9v5.8h-1.9zM134.8 49.7h1.9v5.8h-1.9zM148.1 49.7h1.9v5.8h-1.9zM151.9 49.7h1.9v5.8h-1.9z"/>
<path fill="#454560" d="M119.7 49.7h1.9v5.8h-1.9z"/>
<path fill="#42425d" d="M155.6 49.7h1.9v5.8h-1.9z"/>
<path fill="#41415a" d="M83.8 46.8h1.9v2.9h-1.9zM189.7 46.8h1.9v2.9h-1.9zM83.8 49.7h1.9v5.8h-1.9zM142.4 49.7h1.9v5.8h-1.9z"/>
<path fill="#3e3e56" d="M78.1 23.8h1.9v2.9h-1.9z"/>
<path fill="#3c3c54" d="M100.8 23.8h1.9v2.9h-1.9z"/>
<path fill="#3a3a50" d="M74.4 49.7h1.9v5.8h-1.9zM81.9 49.7h1.9v5.8h-1.9zM121.6 49.7h1.9v5.8h-1.9zM146.2 49.7h1.9v5.8h-1.9zM163.2 49.7h1.9v5.8h-1.9z"/>
<path fill="#37374d" d="M76.3 46.8h1.9v2.9h-1.9zM174.5 49.7h1.9v5.8h-1.9z"/>
<path fill="#35354a" d="M110.3 49.7h1.9v5.8h-1.9z"/>
<path fill="#333347" d="M89.5 49.7h1.9v5.8h-1.9zM161.3 49.7h1.9v5.8h-1.9z"/>
<path fill="#2d2d3e" d="M195.3 46.8h1.9v2.9h-1.9z"/>
<path fill="#2a2a3a" d="M93.3 49.7h1.9v5.8h-1.9z"/>
<path fill="#282838" d="M153.7 49.7h1.9v5.8h-1.9z"/>
<path fill="#262634" d="M199.1 46.8h1.9v2.9h-1.9zM233.1 49.7h1.9v5.8h-1.9z"/>
<path fill="#232331" d="M129.2 46.8h1.9v2.9h-1.9zM187.8 49.7h1.9v5.8h-1.9z"/>
<path fill="#1a1a25" d="M176.4 49.7h1.9v5.8h-1.9z"/>
<path fill="#111118" d="M68.7 46.8h1.9v2.9h-1.9zM68.7 61.2h1.9v2.9h-1.9zM68.7 64.1h1.9v2.9h-1.9z"/>
<path fill="#0a0a0f" d="M98.9 49.7h1.9v5.8h-1.9z"/>
<path fill="#060609" d="M87.6 49.7h1.9v5.8h-1.9z"/>
<path fill="#040406" d="M95.2 49.7h1.9v5.8h-1.9zM180.2 49.7h1.9v5.8h-1.9z"/>
<path fill="#020202" d="M144.3 49.7h1.9v5.8h-1.9z"/>
<path fill="#000000" d="M66.8 44.0h1.9v2.8h-1.9zM197.2 44.0h3.8v2.8h-3.8zM66.8 46.8h1.9v2.9h-1.9zM197.2 46.8h1.9v2.9h-1.9zM68.7 49.7h3.8v5.8h-3.8zM78.1 49.7h3.8v5.8h-3.8zM85.7 49.7h1.9v5.8h-1.9zM112.2 49.7h1.9v5.8h-1.9zM131.1 49.7h1.9v5.8h-1.9zM136.7 49.7h1.9v5.8h-1.9zM150.0 49.7h1.9v5.8h-1.9zM159.4 49.7h1.9v5.8h-1.9zM167.0 49.7h1.9v5.8h-1.9zM170.8 49.7h1.9v5.8h-1.9zM191.5 49.7h9.5v5.8h-9.5zM231.2 49.7h1.9v5.8h-1.9z"/>
</g>
<path d="M127.5 12.5V91.5M184.5 12.5V91.5M236.5 12.5V91.5M283.5 12.5V91.5M336.5 12.5V91.5M400.5 12.5V91.5M474.5 12.5V91.5M560.5 12.5V91.5M657.5 12.5V91.5M767.5 12.5V91.5M890.5 12.5V91.5M61.5 51.5H896.5" stroke="#b0b0b0" stroke-width="0.9" stroke-dasharray="1.1 1.85" fill="none"/>
<rect x="61.5" y="324.5" width="835.0" height="22" fill="#f8f8f8"/>
<path d="M127.5 108.5V346.5M184.5 108.5V346.5M236.5 108.5V346.5M283.5 108.5V346.5M336.5 108.5V346.5M400.5 108.5V346.5M474.5 108.5V346.5M560.5 108.5V346.5M657.5 108.5V346.5M767.5 108.5V346.5M890.5 108.5V346.5M61.5 111.5H896.5M61.5 154.5H896.5M61.5 196.5H896.5M61.5 239.5H896.5M61.5 282.5H896.5M61.5 324.5H896.5" stroke="#b0b0b0" stroke-width="0.9" stroke-dasharray="1.1 1.85" fill="none"/>
<clipPath id="cb"><rect x="61.5" y="108.5" width="835.0" height="238.0"/></clipPath>
<g clip-path="url(#cb)"><g opacity="0.455"><path d="M68.20 108.50H72.00V144.50H68.20zM72.00 108.50H75.00V263.50H72.00zM79.30 108.50H81.30V159.50H79.30zM79.30 145.00H82.00V159.50H79.30zM81.20 108.50H95.00V116.50H81.20zM86.00 116.50H94.75V129.25H86.00zM86.20 129.00H88.80V143.50H86.20zM93.25 129.00H95.00V149.00H93.25zM94.50 148.00H96.50V185.00H94.50zM94.50 177.00H98.50V185.00H94.50zM94.50 185.00H98.00V194.50H94.50zM98.00 152.00H100.50V178.00H98.00zM98.00 152.00H106.50V154.00H98.00zM103.25 108.50H106.50V158.50H103.25zM100.25 126.25H103.25V154.00H100.25zM102.00 154.00H106.50V158.50H102.00zM110.50 125.00H116.00V137.75H110.50zM110.30 137.00H112.30V166.00H110.30zM106.50 166.00H112.00V190.50H106.50zM105.50 185.00H108.80V190.50H105.50zM114.50 108.50H116.25V126.00H114.50zM114.50 108.50H117.50V113.50H114.50zM117.25 113.50H118.90V142.50H117.25zM117.25 141.30H121.00V143.50H117.25zM119.00 141.50H121.00V151.00H119.00zM119.30 151.00H124.50V197.50H119.30zM124.50 148.50H128.00V174.00H124.50zM124.50 174.00H126.00V195.00H124.50zM119.50 185.00H122.50V197.50H119.50zM122.50 185.00H125.50V195.00H122.50zM128.00 172.00H130.00V195.50H128.00zM130.50 149.00H134.00V178.50H130.50zM128.00 178.00H132.00V195.50H128.00zM128.50 185.00H131.80V195.50H128.50zM134.50 161.00H138.50V166.50H134.50zM136.50 161.00H139.00V179.50H136.50zM138.50 178.50H141.00V189.50H138.50zM139.50 187.50H146.00V190.50H139.50zM146.00 187.50H149.00V212.50H146.00zM149.00 187.50H150.50V204.00H149.00zM150.50 200.50H156.00V204.00H150.50zM151.00 203.00H154.50V216.50H151.00zM153.50 172.00H156.00V200.50H153.50zM154.50 172.00H157.50V175.00H154.50zM156.00 108.50H160.00V174.00H156.00zM160.00 179.00H163.80V208.50H160.00zM162.00 108.50H164.80V185.00H162.00zM165.30 170.50H167.00V198.50H165.30zM164.80 169.00H167.00V170.80H164.80zM158.25 172.00H160.10V180.60H158.25zM165.50 194.50H170.50V198.50H165.50zM169.00 194.50H171.50V226.50H169.00zM170.50 200.50H173.50V203.00H170.50zM172.00 200.50H173.70V208.00H172.00zM173.00 206.50H176.00V208.50H173.00zM174.00 206.50H176.00V225.00H174.00zM174.00 225.00H178.00V239.50H174.00zM176.00 217.50H181.00V220.50H176.00zM176.00 217.50H178.00V225.00H176.00zM179.50 175.00H182.60V237.50H179.50zM181.00 225.00H183.00V237.50H181.00zM182.50 236.00H185.00V245.50H182.50zM184.50 243.00H190.00V245.50H184.50zM186.20 243.00H189.80V254.50H186.20zM188.50 239.00H193.50V247.50H188.50zM192.00 175.00H194.00V247.50H192.00zM193.00 108.50H195.00V176.50H193.00zM200.00 108.50H202.00V250.50H200.00zM230.00 108.50H234.00V147.50H230.00zM230.00 145.00H232.00V234.50H230.00zM229.00 233.00H231.20V277.50H229.00zM232.00 146.50H236.00V148.50H232.00zM234.00 147.50H236.00V254.50H234.00zM234.50 253.00H238.00V255.00H234.50zM236.00 253.00H238.00V285.00H236.00z" fill="#000"/><path d="M201.00 250.50L203.00 250.50L203.00 262.50L205.50 262.50L205.50 264.20L208.00 264.20L208.00 273.00L210.30 273.00L210.30 266.00L211.70 266.00L211.70 263.00L214.30 263.00L214.30 278.00L216.30 278.00L216.30 274.00L220.00 274.00L220.00 276.00L222.50 276.00L222.50 275.00L224.00 275.00L224.00 284.00L226.30 284.00L226.30 276.50L230.00 276.50M237.00 284.00L239.80 284.00L239.80 291.20L242.30 291.20L242.30 282.00L245.30 282.00L245.30 291.00L246.80 291.00L246.80 289.00L252.00 289.00L252.00 291.00L253.80 291.00L253.80 294.50L258.00 294.50L258.00 293.00L263.30 293.00L263.30 298.50L266.70 298.50L266.70 296.00L270.00 296.00L270.00 302.00L272.00 302.00L272.00 298.50L274.50 298.50L274.50 300.00L276.00 300.00L276.00 302.50L278.50 302.50L278.50 301.50L283.90 301.50L283.90 288.30L285.70 288.30L285.70 297.00L288.50 297.00L288.50 299.50L290.00 299.50L290.00 306.50L292.60 306.50L292.60 296.00L295.50 296.00L295.50 268.00L297.00 268.00L297.00 305.00L301.00 305.00L301.00 306.00L304.00 306.00L304.00 304.50L307.10 304.50L307.10 298.30L308.90 298.30L308.90 307.00L311.50 307.00L311.50 309.50L317.00 309.50L317.00 307.50L320.00 307.50L320.00 306.50L325.50 306.50L325.50 269.50L327.20 269.50L327.20 243.00L328.80 243.00L328.80 291.50L330.00 291.50L330.00 307.00L332.50 307.00L332.50 309.50L335.00 309.50L335.00 311.52L336.89 311.52L336.89 309.45L338.78 309.45L338.78 313.19L340.67 313.19L340.67 311.74L342.56 311.74L342.56 311.80L344.45 311.80L344.45 311.90L346.34 311.90L346.34 311.09L348.23 311.09L348.23 311.90L350.12 311.90L350.12 309.01L352.01 309.01L352.01 310.90L353.90 310.90L353.90 312.85L355.79 312.85L355.79 312.59L357.68 312.59L357.68 312.62L359.57 312.62L359.57 310.70L361.46 310.70L361.46 313.53L363.35 313.53L363.35 313.82L365.24 313.82L365.24 312.72L367.13 312.72L367.13 312.39L369.02 312.39L369.02 312.93L370.91 312.93L370.91 311.16L372.80 311.16L372.80 311.26L374.69 311.26L374.69 311.95L376.58 311.95L376.58 311.25L378.00 311.25L378.00 309.40L380.00 309.40L380.00 288.50L381.00 288.50L381.00 299.40L382.70 299.40L382.70 315.00L386.25 315.00L386.25 316.75L388.14 316.75L388.14 311.77L390.03 311.77L390.03 311.92L391.92 311.92L391.92 312.24L393.81 312.24L393.81 314.87L395.70 314.87L395.70 313.88L397.59 313.88L397.59 313.89L399.48 313.89L399.48 316.05L401.37 316.05L401.37 315.20L403.26 315.20L403.26 313.62L405.15 313.62L405.15 314.15L407.04 314.15L407.04 314.01L408.93 314.01L408.93 312.29L410.82 312.29L410.82 315.90L412.71 315.90L412.71 314.33L414.60 314.33L414.60 316.96L416.49 316.96L416.49 316.07L418.38 316.07L418.38 313.25L420.27 313.25L420.27 318.87L422.16 318.87L422.16 319.07L424.05 319.07L424.05 316.70L425.94 316.70L425.94 316.42L427.83 316.42L427.83 317.26L429.72 317.26L429.72 317.23L431.61 317.23L431.61 316.23L433.50 316.23L433.50 315.94L435.39 315.94L435.39 316.99L437.28 316.99L437.28 314.50L439.17 314.50L439.17 313.91L441.06 313.91L441.06 316.08L442.95 316.08L442.95 316.76L444.84 316.76L444.84 316.76L446.73 316.76L446.73 312.90L448.62 312.90L448.62 313.65L450.51 313.65L450.51 314.10L452.40 314.10L452.40 315.38L454.29 315.38L454.29 316.81L456.18 316.81L456.18 319.62L458.07 319.62L458.07 317.26L459.96 317.26L459.96 317.13L461.85 317.13L461.85 316.67L463.74 316.67L463.74 317.44L465.63 317.44L465.63 316.18L467.52 316.18L467.52 316.69L469.41 316.69L469.41 318.82L471.30 318.82L471.30 319.02L473.19 319.02L473.19 315.93L475.08 315.93L475.08 316.68L476.97 316.68L476.97 317.05L478.86 317.05L478.86 316.63L480.75 316.63L480.75 315.72L482.64 315.72L482.64 314.46L484.53 314.46L484.53 317.66L486.42 317.66L486.42 317.03L488.31 317.03L488.31 316.88L490.20 316.88L490.20 316.24L492.09 316.24L492.09 316.08L493.98 316.08L493.98 316.48L495.87 316.48L495.87 318.01L497.76 318.01L497.76 317.59L499.65 317.59L499.65 316.59L501.54 316.59L501.54 319.91L503.43 319.91L503.43 319.56L505.32 319.56L505.32 317.81L507.21 317.81L507.21 317.74L509.10 317.74L509.10 317.74L510.99 317.74L510.99 316.87L512.88 316.87L512.88 314.74L514.77 314.74L514.77 315.13L516.66 315.13L516.66 315.26L518.55 315.26L518.55 315.50L520.44 315.50L520.44 315.66L522.33 315.66L522.33 314.84L524.22 314.84L524.22 317.97L526.11 317.97L526.11 318.75L528.00 318.75L528.00 320.55L529.89 320.55L529.89 320.34L531.78 320.34L531.78 316.60L533.67 316.60L533.67 316.36L535.56 316.36L535.56 316.63L537.45 316.63L537.45 317.99L539.34 317.99L539.34 318.47L541.23 318.47L541.23 319.04L543.12 319.04L543.12 319.46L545.01 319.46L545.01 319.35L546.90 319.35L546.90 319.24L548.79 319.24L548.79 319.10L550.68 319.10L550.68 320.15L552.57 320.15L552.57 319.67L554.46 319.67L554.46 318.77L556.35 318.77L556.35 317.18L558.24 317.18L558.24 319.60L560.13 319.60L560.13 319.48L562.02 319.48L562.02 317.74L563.91 317.74L563.91 316.47L565.80 316.47L565.80 316.78L567.69 316.78L567.69 316.73L569.58 316.73L569.58 315.01L571.47 315.01L571.47 315.16L573.36 315.16L573.36 318.64L575.25 318.64L575.25 319.02L577.14 319.02L577.14 318.04L579.03 318.04L579.03 318.67L580.92 318.67L580.92 319.31L582.81 319.31L582.81 319.75L584.70 319.75L584.70 319.47L586.59 319.47L586.59 318.89L588.48 318.89L588.48 318.10L589.40 318.10L589.40 312.75L591.80 312.75L591.80 279.80L593.10 279.80L593.10 246.30L595.00 246.30L595.00 300.60L597.00 300.60L597.00 318.50L605.00 318.50L605.00 322.83L606.89 322.83L606.89 319.37L608.78 319.37L608.78 318.27L610.67 318.27L610.67 318.66L612.56 318.66L612.56 318.38L614.45 318.38L614.45 319.43L616.34 319.43L616.34 322.20L618.23 322.20L618.23 318.61L620.12 318.61L620.12 318.55L622.01 318.55L622.01 312.97L623.90 312.97L623.90 312.43L625.79 312.43L625.79 318.33L627.68 318.33L627.68 315.82L629.57 315.82L629.57 316.71L631.46 316.71L631.46 319.64L633.35 319.64L633.35 319.50L635.24 319.50L635.24 319.22L637.13 319.22L637.13 320.90L639.02 320.90L639.02 321.74L640.91 321.74L640.91 321.88L642.80 321.88L642.80 319.00L644.69 319.00L644.69 322.05L646.58 322.05L646.58 321.95L648.47 321.95L648.47 319.81L650.36 319.81L650.36 318.06L652.25 318.06L652.25 322.29L654.14 322.29L654.14 322.55L656.03 322.55L656.03 316.65L657.92 316.65L657.92 316.79L659.81 316.79L659.81 321.53L661.70 321.53L661.70 320.10L663.59 320.10L663.59 320.63L665.48 320.63L665.48 320.07L667.37 320.07L667.37 320.18L669.26 320.18L669.26 319.12L671.15 319.12L671.15 319.04L673.04 319.04L673.04 316.36L674.93 316.36L674.93 317.56L676.82 317.56L676.82 318.89L678.71 318.89L678.71 318.28L680.60 318.28L680.60 320.06L682.49 320.06L682.49 317.63L684.38 317.63L684.38 317.74L686.27 317.74L686.27 317.72L688.16 317.72L688.16 321.97L690.05 321.97L690.05 322.62L691.94 322.62L691.94 319.87L693.83 319.87L693.83 319.94L695.72 319.94L695.72 319.76L697.61 319.76L697.61 319.15L699.50 319.15L699.50 323.72L701.39 323.72L701.39 323.22L703.28 323.22L703.28 323.77L705.17 323.77L705.17 317.74L707.06 317.74L707.06 321.31L708.95 321.31L708.95 321.58L710.84 321.58L710.84 319.38L712.73 319.38L712.73 318.69L714.62 318.69L714.62 320.20L716.51 320.20L716.51 319.99L718.40 319.99L718.40 319.01L720.29 319.01L720.29 318.62L722.18 318.62L722.18 319.61L724.07 319.61L724.07 318.62L725.96 318.62L725.96 312.42L727.85 312.42L727.85 312.56L729.74 312.56L729.74 315.75L731.63 315.75L731.63 319.09L733.52 319.09L733.52 319.67L735.41 319.67L735.41 322.01L737.30 322.01L737.30 321.02L739.19 321.02L739.19 321.72L741.08 321.72L741.08 320.79L742.97 320.79L742.97 318.24L744.86 318.24L744.86 319.80L746.75 319.80L746.75 318.83L748.64 318.83L748.64 320.56L750.53 320.56L750.53 319.68L752.42 319.68L752.42 321.50L754.31 321.50L754.31 322.24L756.20 322.24L756.20 324.89L758.09 324.89L758.09 323.95L759.98 323.95L759.98 322.08L761.87 322.08L761.87 323.04L763.76 323.04L763.76 318.53L765.65 318.53L765.65 318.85L767.54 318.85L767.54 319.04L769.43 319.04L769.43 321.38L771.32 321.38L771.32 317.93L773.21 317.93L773.21 321.51L775.10 321.51L775.10 322.08L776.99 322.08L776.99 318.65L778.88 318.65L778.88 316.85L780.77 316.85L780.77 318.28L782.66 318.28L782.66 322.56L784.55 322.56L784.55 322.72L786.44 322.72L786.44 322.11L788.33 322.11L788.33 322.04L790.22 322.04L790.22 316.87L792.11 316.87L792.11 315.95L794.00 315.95L794.00 320.54L795.89 320.54L795.89 321.78L797.78 321.78L797.78 320.42L799.67 320.42L799.67 319.12L801.56 319.12L801.56 321.09L803.45 321.09L803.45 321.36L805.34 321.36L805.34 322.67L807.23 322.67L807.23 324.67L809.12 324.67L809.12 323.56L811.01 323.56L811.01 321.47L812.90 321.47L812.90 319.86L814.79 319.86L814.79 320.51L816.68 320.51L816.68 317.10L818.57 317.10L818.57 319.78L820.46 319.78L820.46 317.99L822.35 317.99L822.35 316.55L824.24 316.55L824.24 321.81L826.13 321.81L826.13 322.68L828.02 322.68L828.02 327.20L829.91 327.20L829.91 324.18L831.80 324.18L831.80 321.41L833.69 321.41L833.69 321.89L835.58 321.89L835.58 319.95L837.47 319.95L837.47 322.91L839.36 322.91L839.36 321.22L841.25 321.22L841.25 322.87L843.14 322.87L843.14 322.96L845.03 322.96L845.03 323.57L846.92 323.57L846.92 324.03L848.81 324.03L848.81 327.97L850.70 327.97L850.70 319.44L852.59 319.44L852.59 326.55L854.48 326.55L854.48 325.24L856.37 325.24L856.37 319.51L858.26 319.51L858.26 326.96L860.15 326.96L860.15 327.53L862.04 327.53L862.04 324.02L863.93 324.02L863.93 316.03L865.82 316.03L865.82 315.36L867.71 315.36L867.71 323.79L869.60 323.79L869.60 324.88L871.49 324.88L871.49 327.30L873.38 327.30L873.38 326.36L875.27 326.36L875.27 318.98L877.16 318.98L877.16 319.74L879.05 319.74L879.05 322.82L880.94 322.82L880.94 325.12L882.83 325.12L882.83 322.22L884.72 322.22L884.72 318.17L886.61 318.17L886.61 315.32L888.00 315.32L888.00 346.50L888.01 346.50" fill="none" stroke="#000" stroke-width="2.08" stroke-linejoin="round"/></g>
<g opacity="0.2"><path d="M66.00 108.50H68.00V197.50H66.00zM68.00 196.50H70.50V204.00H68.00zM70.00 154.00H74.30V215.00H70.00zM74.30 213.50H76.50V220.00H74.30z" fill="#f00"/><path d="M77.50 219.00L77.50 243.00L80.00 243.00L80.00 254.50L81.50 254.50L81.50 260.00L83.50 260.00L83.50 257.00L85.00 257.00L85.00 252.50L88.00 252.50L88.00 266.50L92.00 266.50L92.00 274.50L94.50 274.50L94.50 275.50L96.50 275.50L96.50 272.00L99.00 272.00L99.00 278.50L101.00 278.50L101.00 275.00L103.00 275.00L103.00 289.50L106.00 289.50L106.00 290.50L109.00 290.50L109.00 292.00L110.50 292.00L110.50 295.00L114.00 295.00L114.00 291.50L117.00 291.50L117.00 294.50L120.00 294.50L120.00 304.50L127.50 304.50L127.50 307.50L132.50 307.50L132.50 303.00L134.50 303.00L134.50 307.50L137.00 307.50L137.00 308.50L140.00 308.50L140.00 310.00L144.50 310.00L144.50 305.00L147.50 305.00L147.50 308.00L150.50 308.00L150.50 311.50L154.00 311.50L154.00 313.50L156.50 313.50L156.50 312.50L162.50 312.50L162.50 310.00L164.40 310.00L164.40 312.90L170.00 312.90L170.00 314.40L173.75 314.40L173.75 315.60L177.50 315.60L177.50 315.00L181.25 315.00L181.25 316.90L186.25 316.90L186.25 317.75L192.50 317.75L192.50 316.90L195.60 316.90L195.60 313.50L200.00 313.50L200.00 318.10L202.50 318.10L202.50 319.75L217.50 319.75L217.50 320.90L230.00 320.90L230.00 318.10L233.75 318.10L233.75 321.00L250.00 321.00L250.00 320.00L253.75 320.00L253.75 321.00L263.75 321.00L263.75 321.60L280.00 321.60L280.00 322.00L300.00 322.00L300.00 321.60L310.00 321.60L310.00 322.30L340.00 322.30L340.00 322.60L380.00 322.60L380.00 322.20L420.00 322.20L420.00 322.60L470.00 322.60L470.00 321.80L476.00 321.80L476.00 322.50L520.00 322.50L520.00 322.20L560.00 322.20L560.00 322.40L589.00 322.40L589.00 320.70L595.00 320.70L595.00 322.30L650.00 322.30L650.00 322.00L695.00 322.00L695.00 321.30L800.00 321.30L800.00 321.00L830.00 321.00L830.00 320.40L845.00 320.40L845.00 319.60L853.00 319.60L853.00 319.00L862.00 319.00L862.00 318.40L880.00 318.40L880.00 317.80L883.00 317.80L883.00 316.20L885.50 316.20L885.50 312.00L888.10 312.00L888.10 229.50L890.60 229.50" fill="none" stroke="#f00" stroke-width="2.08" stroke-linejoin="round"/></g></g>
<rect x="80.8" y="109" width="79.7" height="21.75" fill="#fff" fill-opacity="0.5"/>
<text x="87" y="123.8" font-size="10.85">5105_13190</text>
<path d="M933.5 12.5V91.5M979.5 12.5V91.5M910.5 51.5H994" stroke="#b0b0b0" stroke-width="0.9" stroke-dasharray="1.1 1.85" fill="none"/>
<path d="M933.5 20H932.5V27.5H930V29.5H921.5V32.5H910.5V37H913V40.5H933.5V43.5H943V46.5H960V49.5H979V52H972V55H937V58H928V61H910.5V67.5H933.5z" fill="#fcd9cf" fill-opacity="0.75"/>
<path d="M931.5 19V26H929.5V28.7H920V31.7H910.5M910.5 36.5H913V40H933V43H943V46H960V49H980V52H975V54.5H936V57.5H925V60.5H910.5" fill="none" stroke="#3c3c3c" stroke-width="2.9" stroke-linejoin="round"/>
<path d="M932.6 20V27.6H930V29.6H921.5V32.6H910.5M910.5 36.6H913.1V40.1H933.1V43.1H940.3V46.1H961V49.1H979.6V51.9H972V54.8H936.8V57.8H927.6V60.6H910.5" fill="none" stroke="#cc6640" stroke-width="1.2" stroke-linejoin="round"/>
<rect x="926" y="80" width="70" height="18" fill="#fff"/>
<path d="M910.5 12V92M910 91.5H926" stroke="#000" stroke-width="1.1" fill="none"/>
<text x="992.3" y="93.6" font-size="9.72" text-anchor="end">-0.00 ± 0.34</text>
<path d="M127.5 12.5v-5M127.5 91.5v5M127.5 108.5v-5M127.5 346.5v5M184.5 12.5v-5M184.5 91.5v5M184.5 108.5v-5M184.5 346.5v5M236.5 12.5v-5M236.5 91.5v5M236.5 108.5v-5M236.5 346.5v5M283.5 12.5v-5M283.5 91.5v5M283.5 108.5v-5M283.5 346.5v5M336.5 12.5v-5M336.5 91.5v5M336.5 108.5v-5M336.5 346.5v5M400.5 12.5v-5M400.5 91.5v5M400.5 108.5v-5M400.5 346.5v5M474.5 12.5v-5M474.5 91.5v5M474.5 108.5v-5M474.5 346.5v5M560.5 12.5v-5M560.5 91.5v5M560.5 108.5v-5M560.5 346.5v5M657.5 12.5v-5M657.5 91.5v5M657.5 108.5v-5M657.5 346.5v5M767.5 12.5v-5M767.5 91.5v5M767.5 108.5v-5M767.5 346.5v5M890.5 12.5v-5M890.5 91.5v5M890.5 108.5v-5M890.5 346.5v5M61.5 111.5h-5M61.5 154.5h-5M61.5 196.5h-5M61.5 239.5h-5M61.5 282.5h-5M61.5 324.5h-5M61.5 51.5h-5M910.5 51.5h-5" stroke="#000" stroke-width="1.1" fill="none"/>
<path d="M92.5 12.5v-3M92.5 91.5v3M92.5 108.5v-3M92.5 346.5v3M152.5 12.5v-3M152.5 91.5v3M152.5 108.5v-3M152.5 346.5v3M170.5 12.5v-3M170.5 91.5v3M170.5 108.5v-3M170.5 346.5v3M196.5 12.5v-3M196.5 91.5v3M196.5 108.5v-3M196.5 346.5v3M207.5 12.5v-3M207.5 91.5v3M207.5 108.5v-3M207.5 346.5v3M217.5 12.5v-3M217.5 91.5v3M217.5 108.5v-3M217.5 346.5v3M227.5 12.5v-3M227.5 91.5v3M227.5 108.5v-3M227.5 346.5v3M245.5 12.5v-3M245.5 91.5v3M245.5 108.5v-3M245.5 346.5v3M254.5 12.5v-3M254.5 91.5v3M254.5 108.5v-3M254.5 346.5v3M264.5 12.5v-3M264.5 91.5v3M264.5 108.5v-3M264.5 346.5v3M273.5 12.5v-3M273.5 91.5v3M273.5 108.5v-3M273.5 346.5v3M293.5 12.5v-3M293.5 91.5v3M293.5 108.5v-3M293.5 346.5v3M303.5 12.5v-3M303.5 91.5v3M303.5 108.5v-3M303.5 346.5v3M314.5 12.5v-3M314.5 91.5v3M314.5 108.5v-3M314.5 346.5v3M325.5 12.5v-3M325.5 91.5v3M325.5 108.5v-3M325.5 346.5v3M348.5 12.5v-3M348.5 91.5v3M348.5 108.5v-3M348.5 346.5v3M360.5 12.5v-3M360.5 91.5v3M360.5 108.5v-3M360.5 346.5v3M373.5 12.5v-3M373.5 91.5v3M373.5 108.5v-3M373.5 346.5v3M386.5 12.5v-3M386.5 91.5v3M386.5 108.5v-3M386.5 346.5v3M414.5 12.5v-3M414.5 91.5v3M414.5 108.5v-3M414.5 346.5v3M428.5 12.5v-3M428.5 91.5v3M428.5 108.5v-3M428.5 346.5v3M443.5 12.5v-3M443.5 91.5v3M443.5 108.5v-3M443.5 346.5v3M458.5 12.5v-3M458.5 91.5v3M458.5 108.5v-3M458.5 346.5v3M490.5 12.5v-3M490.5 91.5v3M490.5 108.5v-3M490.5 346.5v3M507.5 12.5v-3M507.5 91.5v3M507.5 108.5v-3M507.5 346.5v3M524.5 12.5v-3M524.5 91.5v3M524.5 108.5v-3M524.5 346.5v3M542.5 12.5v-3M542.5 91.5v3M542.5 108.5v-3M542.5 346.5v3M578.5 12.5v-3M578.5 91.5v3M578.5 108.5v-3M578.5 346.5v3M597.5 12.5v-3M597.5 91.5v3M597.5 108.5v-3M597.5 346.5v3M617.5 12.5v-3M617.5 91.5v3M617.5 108.5v-3M617.5 346.5v3M637.5 12.5v-3M637.5 91.5v3M637.5 108.5v-3M637.5 346.5v3M678.5 12.5v-3M678.5 91.5v3M678.5 108.5v-3M678.5 346.5v3M700.5 12.5v-3M700.5 91.5v3M700.5 108.5v-3M700.5 346.5v3M722.5 12.5v-3M722.5 91.5v3M722.5 108.5v-3M722.5 346.5v3M744.5 12.5v-3M744.5 91.5v3M744.5 108.5v-3M744.5 346.5v3M791.5 12.5v-3M791.5 91.5v3M791.5 108.5v-3M791.5 346.5v3M815.5 12.5v-3M815.5 91.5v3M815.5 108.5v-3M815.5 346.5v3M840.5 12.5v-3M840.5 91.5v3M840.5 108.5v-3M840.5 346.5v3M865.5 12.5v-3M865.5 91.5v3M865.5 108.5v-3M865.5 346.5v3" stroke="#000" stroke-width="0.85" fill="none"/>
<rect x="61.5" y="12.5" width="835.0" height="79.0" fill="none" stroke="#000" stroke-width="1.1"/>
<rect x="61.5" y="108.5" width="835.0" height="238.0" fill="none" stroke="#000" stroke-width="1.1"/>
<text transform="translate(126.6 366.3) scale(0.905 1)" font-size="13.89" text-anchor="middle">0.7</text>
<text transform="translate(183.6 366.3) scale(0.905 1)" font-size="13.89" text-anchor="middle">1.0</text>
<text transform="translate(235.6 366.3) scale(0.905 1)" font-size="13.89" text-anchor="middle">1.5</text>
<text transform="translate(282.6 366.3) scale(0.905 1)" font-size="13.89" text-anchor="middle">2.0</text>
<text transform="translate(335.6 366.3) scale(0.905 1)" font-size="13.89" text-anchor="middle">2.5</text>
<text transform="translate(399.6 366.3) scale(0.905 1)" font-size="13.89" text-anchor="middle">3.0</text>
<text transform="translate(473.6 366.3) scale(0.905 1)" font-size="13.89" text-anchor="middle">3.5</text>
<text transform="translate(559.6 366.3) scale(0.905 1)" font-size="13.89" text-anchor="middle">4.0</text>
<text transform="translate(656.6 366.3) scale(0.905 1)" font-size="13.89" text-anchor="middle">4.5</text>
<text transform="translate(766.6 366.3) scale(0.905 1)" font-size="13.89" text-anchor="middle">5.0</text>
<text transform="translate(889.6 366.3) scale(0.905 1)" font-size="13.89" text-anchor="middle">5.5</text>
<text transform="translate(50.6 116.6) scale(0.925 1)" font-size="13.89" text-anchor="end">25</text>
<text transform="translate(50.6 159.6) scale(0.925 1)" font-size="13.89" text-anchor="end">20</text>
<text transform="translate(50.6 201.6) scale(0.925 1)" font-size="13.89" text-anchor="end">15</text>
<text transform="translate(50.6 244.6) scale(0.925 1)" font-size="13.89" text-anchor="end">10</text>
<text transform="translate(50.6 287.6) scale(0.925 1)" font-size="13.89" text-anchor="end">5</text>
<text transform="translate(50.6 329.6) scale(0.925 1)" font-size="13.89" text-anchor="end">0</text>
<text x="479" y="388.4" font-size="13.89" text-anchor="middle"><tspan font-style="italic">λ</tspan><tspan font-size="9.72" dy="2.2">obs</tspan><tspan dy="-2.2"> [</tspan><tspan font-style="italic">μ</tspan>m]</text>
<text transform="translate(19.5 228) rotate(-90)" font-size="13.89" text-anchor="middle"><tspan font-style="italic">f</tspan><tspan font-size="9.72" dy="2.2" font-style="italic">λ</tspan><tspan dy="-2.2"> [10</tspan><tspan font-size="9.72" dy="-4.8">−20</tspan><tspan dy="4.8"> ergs</tspan><tspan font-size="9.72" dy="-4.8">−1</tspan><tspan dy="4.8" dx="0.7">cm</tspan><tspan font-size="9.72" dy="-4.8">−2</tspan><tspan dy="4.8" dx="1.4">Å</tspan><tspan font-size="9.72" dy="-4.8">−1</tspan><tspan dy="4.8" dx="0.7">]</tspan></text>
</svg>
</body></html>
